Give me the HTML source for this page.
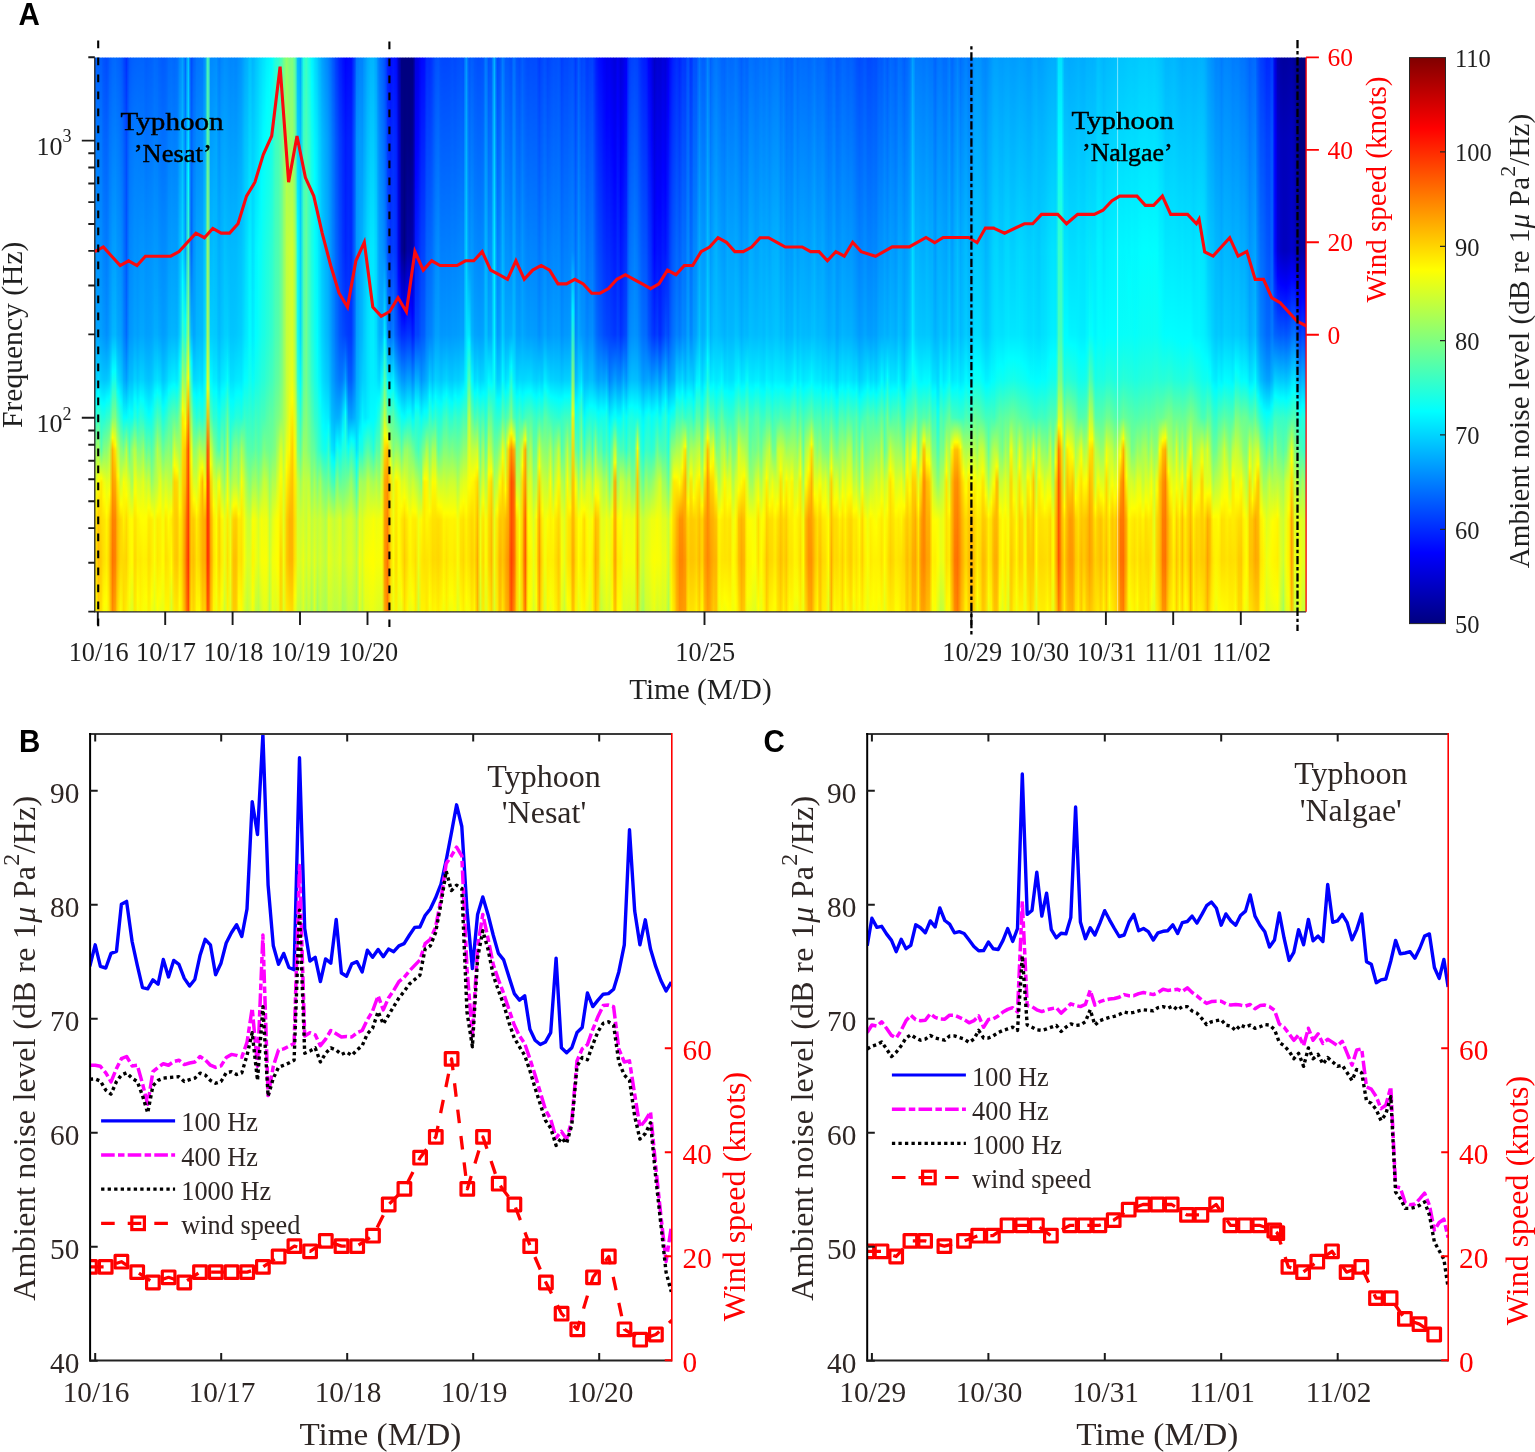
<!DOCTYPE html>
<html><head><meta charset="utf-8"><title>Figure</title><style>html,body{margin:0;padding:0;background:#fff}svg{display:block}</style></head><body>
<svg width="1535" height="1452" viewBox="0 0 1535 1452">
<rect width="1535" height="1452" fill="#fff"/>
<defs><linearGradient id="g0" x1="0" y1="0" x2="0" y2="1"><stop offset="0" stop-color="#0061ff"/><stop offset="0.15" stop-color="#007aff"/><stop offset="0.5" stop-color="#00a1ff"/><stop offset="0.582" stop-color="#00cdff"/><stop offset="0.622" stop-color="#00ffff"/><stop offset="0.65" stop-color="#23ffdc"/><stop offset="0.708" stop-color="#95ff6a"/><stop offset="0.766" stop-color="#daff25"/><stop offset="0.81" stop-color="#ffff00"/><stop offset="0.834" stop-color="#ffeb00"/><stop offset="0.907" stop-color="#ffe600"/><stop offset="0.986" stop-color="#ffff00"/><stop offset="1" stop-color="#f8ff07"/></linearGradient>
<linearGradient id="g1" x1="0" y1="0" x2="0" y2="1"><stop offset="0" stop-color="#0061ff"/><stop offset="0.15" stop-color="#007aff"/><stop offset="0.5" stop-color="#00a1ff"/><stop offset="0.582" stop-color="#00cdff"/><stop offset="0.622" stop-color="#00ffff"/><stop offset="0.65" stop-color="#23ffdc"/><stop offset="0.708" stop-color="#95ff6a"/><stop offset="0.766" stop-color="#daff25"/><stop offset="0.81" stop-color="#ffff00"/><stop offset="0.834" stop-color="#ffeb00"/><stop offset="0.907" stop-color="#ffe600"/><stop offset="0.986" stop-color="#ffff00"/><stop offset="1" stop-color="#f8ff07"/></linearGradient>
<linearGradient id="g2" x1="0" y1="0" x2="0" y2="1"><stop offset="0" stop-color="#0061ff"/><stop offset="0.15" stop-color="#007bff"/><stop offset="0.5" stop-color="#00a5ff"/><stop offset="0.582" stop-color="#00daff"/><stop offset="0.606" stop-color="#00ffff"/><stop offset="0.65" stop-color="#43ffbc"/><stop offset="0.708" stop-color="#a9ff56"/><stop offset="0.768" stop-color="#ffff00"/><stop offset="0.834" stop-color="#ffc500"/><stop offset="0.907" stop-color="#ffba00"/><stop offset="1" stop-color="#ffcf00"/></linearGradient>
<linearGradient id="g3" x1="0" y1="0" x2="0" y2="1"><stop offset="0" stop-color="#005eff"/><stop offset="0.15" stop-color="#0078ff"/><stop offset="0.5" stop-color="#00a0ff"/><stop offset="0.582" stop-color="#00ccff"/><stop offset="0.622" stop-color="#00ffff"/><stop offset="0.65" stop-color="#24ffdb"/><stop offset="0.708" stop-color="#56ffa9"/><stop offset="0.76" stop-color="#ffff00"/><stop offset="0.766" stop-color="#ffea00"/><stop offset="0.907" stop-color="#ffcd00"/><stop offset="1" stop-color="#ffe000"/></linearGradient>
<linearGradient id="g4" x1="0" y1="0" x2="0" y2="1"><stop offset="0" stop-color="#0051ff"/><stop offset="0.5" stop-color="#0097ff"/><stop offset="0.582" stop-color="#00c6ff"/><stop offset="0.625" stop-color="#00ffff"/><stop offset="0.65" stop-color="#21ffde"/><stop offset="0.766" stop-color="#efff10"/><stop offset="0.792" stop-color="#ffff00"/><stop offset="0.834" stop-color="#ffe400"/><stop offset="0.907" stop-color="#ffe200"/><stop offset="0.987" stop-color="#ffff00"/><stop offset="1" stop-color="#f8ff07"/></linearGradient>
<linearGradient id="g5" x1="0" y1="0" x2="0" y2="1"><stop offset="0" stop-color="#004bff"/><stop offset="0.15" stop-color="#0064ff"/><stop offset="0.5" stop-color="#008eff"/><stop offset="0.582" stop-color="#00c7ff"/><stop offset="0.617" stop-color="#00ffff"/><stop offset="0.766" stop-color="#e1ff1e"/><stop offset="0.819" stop-color="#ffff00"/><stop offset="0.834" stop-color="#fff600"/><stop offset="0.907" stop-color="#ffee00"/><stop offset="0.976" stop-color="#ffff00"/><stop offset="1" stop-color="#f5ff0a"/></linearGradient>
<linearGradient id="g6" x1="0" y1="0" x2="0" y2="1"><stop offset="0" stop-color="#005cff"/><stop offset="0.15" stop-color="#0075ff"/><stop offset="0.5" stop-color="#009eff"/><stop offset="0.582" stop-color="#00d3ff"/><stop offset="0.612" stop-color="#00ffff"/><stop offset="0.65" stop-color="#3affc5"/><stop offset="0.708" stop-color="#aeff51"/><stop offset="0.787" stop-color="#ffff00"/><stop offset="0.834" stop-color="#ffcc00"/><stop offset="0.907" stop-color="#ffc200"/><stop offset="1" stop-color="#ffd900"/></linearGradient>
<linearGradient id="g7" x1="0" y1="0" x2="0" y2="1"><stop offset="0" stop-color="#0067ff"/><stop offset="0.5" stop-color="#00b4ff"/><stop offset="0.567" stop-color="#00ffff"/><stop offset="0.582" stop-color="#10ffef"/><stop offset="0.65" stop-color="#7fff80"/><stop offset="0.686" stop-color="#ffff00"/><stop offset="0.708" stop-color="#ffb300"/><stop offset="0.834" stop-color="#ff8000"/><stop offset="0.907" stop-color="#ff7400"/><stop offset="1" stop-color="#ff8800"/></linearGradient>
<linearGradient id="g8" x1="0" y1="0" x2="0" y2="1"><stop offset="0" stop-color="#006aff"/><stop offset="0.5" stop-color="#00b8ff"/><stop offset="0.563" stop-color="#00ffff"/><stop offset="0.582" stop-color="#16ffe9"/><stop offset="0.65" stop-color="#84ff7b"/><stop offset="0.699" stop-color="#ffff00"/><stop offset="0.708" stop-color="#ffe700"/><stop offset="0.766" stop-color="#ffad00"/><stop offset="0.834" stop-color="#ff8500"/><stop offset="0.907" stop-color="#ff8200"/><stop offset="1" stop-color="#ffa400"/></linearGradient>
<linearGradient id="g9" x1="0" y1="0" x2="0" y2="1"><stop offset="0" stop-color="#0063ff"/><stop offset="0.15" stop-color="#007cff"/><stop offset="0.5" stop-color="#00a5ff"/><stop offset="0.582" stop-color="#00deff"/><stop offset="0.603" stop-color="#00ffff"/><stop offset="0.65" stop-color="#4cffb3"/><stop offset="0.708" stop-color="#bfff40"/><stop offset="0.755" stop-color="#ffff00"/><stop offset="0.766" stop-color="#ffef00"/><stop offset="0.834" stop-color="#ffc300"/><stop offset="0.907" stop-color="#ffc000"/><stop offset="1" stop-color="#ffe200"/></linearGradient>
<linearGradient id="g10" x1="0" y1="0" x2="0" y2="1"><stop offset="0" stop-color="#005eff"/><stop offset="0.349" stop-color="#008fff"/><stop offset="0.5" stop-color="#00a1ff"/><stop offset="0.582" stop-color="#00ceff"/><stop offset="0.62" stop-color="#00ffff"/><stop offset="0.65" stop-color="#27ffd8"/><stop offset="0.708" stop-color="#8aff75"/><stop offset="0.766" stop-color="#caff35"/><stop offset="0.806" stop-color="#ffff00"/><stop offset="0.834" stop-color="#ffd800"/><stop offset="0.907" stop-color="#ffda00"/><stop offset="1" stop-color="#faff05"/></linearGradient>
<linearGradient id="g11" x1="0" y1="0" x2="0" y2="1"><stop offset="0" stop-color="#0049ff"/><stop offset="0.15" stop-color="#0063ff"/><stop offset="0.5" stop-color="#0086ff"/><stop offset="0.582" stop-color="#00b1ff"/><stop offset="0.65" stop-color="#05fffa"/><stop offset="0.708" stop-color="#77ff88"/><stop offset="0.766" stop-color="#f9ff06"/><stop offset="0.834" stop-color="#fff000"/><stop offset="0.907" stop-color="#ffda00"/><stop offset="1" stop-color="#ffdd00"/></linearGradient>
<linearGradient id="g12" x1="0" y1="0" x2="0" y2="1"><stop offset="0" stop-color="#002fff"/><stop offset="0.15" stop-color="#0049ff"/><stop offset="0.349" stop-color="#0056ff"/><stop offset="0.5" stop-color="#006aff"/><stop offset="0.582" stop-color="#009eff"/><stop offset="0.65" stop-color="#02fffd"/><stop offset="0.708" stop-color="#b6ff49"/><stop offset="0.789" stop-color="#ffff00"/><stop offset="0.834" stop-color="#ffdb00"/><stop offset="0.907" stop-color="#ffd300"/><stop offset="1" stop-color="#ffef00"/></linearGradient>
<linearGradient id="g13" x1="0" y1="0" x2="0" y2="1"><stop offset="0" stop-color="#0056ff"/><stop offset="0.15" stop-color="#0070ff"/><stop offset="0.5" stop-color="#0095ff"/><stop offset="0.582" stop-color="#00beff"/><stop offset="0.637" stop-color="#00ffff"/><stop offset="0.708" stop-color="#57ffa8"/><stop offset="0.766" stop-color="#d0ff2f"/><stop offset="0.834" stop-color="#fffb00"/><stop offset="0.907" stop-color="#fff400"/><stop offset="0.97" stop-color="#fbff04"/><stop offset="1" stop-color="#efff10"/></linearGradient>
<linearGradient id="g14" x1="0" y1="0" x2="0" y2="1"><stop offset="0" stop-color="#005fff"/><stop offset="0.15" stop-color="#0078ff"/><stop offset="0.5" stop-color="#009bff"/><stop offset="0.582" stop-color="#00c0ff"/><stop offset="0.642" stop-color="#00ffff"/><stop offset="0.65" stop-color="#09fff6"/><stop offset="0.708" stop-color="#97ff68"/><stop offset="0.766" stop-color="#9eff61"/><stop offset="0.834" stop-color="#fffe00"/><stop offset="0.91" stop-color="#ffff00"/><stop offset="1" stop-color="#daff25"/></linearGradient>
<linearGradient id="g15" x1="0" y1="0" x2="0" y2="1"><stop offset="0" stop-color="#0062ff"/><stop offset="0.15" stop-color="#007cff"/><stop offset="0.5" stop-color="#00a4ff"/><stop offset="0.582" stop-color="#00d3ff"/><stop offset="0.616" stop-color="#00ffff"/><stop offset="0.65" stop-color="#2effd1"/><stop offset="0.708" stop-color="#b9ff46"/><stop offset="0.766" stop-color="#f6ff09"/><stop offset="0.783" stop-color="#ffff00"/><stop offset="0.834" stop-color="#ffe300"/><stop offset="0.907" stop-color="#ffd600"/><stop offset="1" stop-color="#ffe700"/></linearGradient>
<linearGradient id="g16" x1="0" y1="0" x2="0" y2="1"><stop offset="0" stop-color="#0063ff"/><stop offset="0.15" stop-color="#007dff"/><stop offset="0.5" stop-color="#009fff"/><stop offset="0.582" stop-color="#00c7ff"/><stop offset="0.632" stop-color="#00ffff"/><stop offset="0.65" stop-color="#14ffeb"/><stop offset="0.708" stop-color="#83ff7c"/><stop offset="0.766" stop-color="#d9ff26"/><stop offset="0.818" stop-color="#ffff00"/><stop offset="0.834" stop-color="#fff300"/><stop offset="0.907" stop-color="#ffed00"/><stop offset="0.973" stop-color="#ffff00"/><stop offset="1" stop-color="#f3ff0c"/></linearGradient>
<linearGradient id="g17" x1="0" y1="0" x2="0" y2="1"><stop offset="0" stop-color="#0064ff"/><stop offset="0.349" stop-color="#0095ff"/><stop offset="0.5" stop-color="#00a7ff"/><stop offset="0.582" stop-color="#00d4ff"/><stop offset="0.615" stop-color="#00ffff"/><stop offset="0.766" stop-color="#d2ff2d"/><stop offset="0.827" stop-color="#ffff00"/><stop offset="0.907" stop-color="#ffe900"/><stop offset="1" stop-color="#fff600"/></linearGradient>
<linearGradient id="g18" x1="0" y1="0" x2="0" y2="1"><stop offset="0" stop-color="#0064ff"/><stop offset="0.349" stop-color="#0096ff"/><stop offset="0.5" stop-color="#00a7ff"/><stop offset="0.582" stop-color="#00d2ff"/><stop offset="0.619" stop-color="#00ffff"/><stop offset="0.65" stop-color="#26ffd9"/><stop offset="0.708" stop-color="#9bff64"/><stop offset="0.766" stop-color="#e4ff1b"/><stop offset="0.834" stop-color="#ffff00"/><stop offset="0.907" stop-color="#fff200"/><stop offset="1" stop-color="#faff05"/></linearGradient>
<linearGradient id="g19" x1="0" y1="0" x2="0" y2="1"><stop offset="0" stop-color="#005dff"/><stop offset="0.349" stop-color="#0090ff"/><stop offset="0.5" stop-color="#009fff"/><stop offset="0.582" stop-color="#00c6ff"/><stop offset="0.634" stop-color="#00ffff"/><stop offset="0.708" stop-color="#5dffa2"/><stop offset="0.766" stop-color="#c1ff3e"/><stop offset="0.828" stop-color="#ffff00"/><stop offset="0.907" stop-color="#fff000"/><stop offset="0.973" stop-color="#ffff00"/><stop offset="1" stop-color="#f5ff0a"/></linearGradient>
<linearGradient id="g20" x1="0" y1="0" x2="0" y2="1"><stop offset="0" stop-color="#0060ff"/><stop offset="0.349" stop-color="#0092ff"/><stop offset="0.5" stop-color="#00a0ff"/><stop offset="0.582" stop-color="#00c3ff"/><stop offset="0.644" stop-color="#00ffff"/><stop offset="0.766" stop-color="#d0ff2f"/><stop offset="0.812" stop-color="#ffff00"/><stop offset="0.834" stop-color="#ffe800"/><stop offset="0.907" stop-color="#ffdc00"/><stop offset="1" stop-color="#ffef00"/></linearGradient>
<linearGradient id="g21" x1="0" y1="0" x2="0" y2="1"><stop offset="0" stop-color="#0062ff"/><stop offset="0.349" stop-color="#0094ff"/><stop offset="0.5" stop-color="#00a3ff"/><stop offset="0.582" stop-color="#00c8ff"/><stop offset="0.635" stop-color="#00ffff"/><stop offset="0.766" stop-color="#90ff6f"/><stop offset="0.825" stop-color="#ffff00"/><stop offset="0.834" stop-color="#ffed00"/><stop offset="0.907" stop-color="#ffeb00"/><stop offset="0.971" stop-color="#ffff00"/><stop offset="1" stop-color="#f0ff0f"/></linearGradient>
<linearGradient id="g22" x1="0" y1="0" x2="0" y2="1"><stop offset="0" stop-color="#006aff"/><stop offset="0.5" stop-color="#00aeff"/><stop offset="0.582" stop-color="#00dbff"/><stop offset="0.61" stop-color="#00ffff"/><stop offset="0.708" stop-color="#75ff8a"/><stop offset="0.834" stop-color="#f4ff0b"/><stop offset="0.907" stop-color="#faff05"/><stop offset="1" stop-color="#deff21"/></linearGradient>
<linearGradient id="g23" x1="0" y1="0" x2="0" y2="1"><stop offset="0" stop-color="#0067ff"/><stop offset="0.5" stop-color="#00adff"/><stop offset="0.582" stop-color="#00e2ff"/><stop offset="0.601" stop-color="#00ffff"/><stop offset="0.65" stop-color="#4cffb3"/><stop offset="0.708" stop-color="#b7ff48"/><stop offset="0.766" stop-color="#c0ff3f"/><stop offset="0.819" stop-color="#ffff00"/><stop offset="0.834" stop-color="#ffec00"/><stop offset="0.907" stop-color="#ffe700"/><stop offset="0.987" stop-color="#ffff00"/><stop offset="1" stop-color="#f9ff06"/></linearGradient>
<linearGradient id="g24" x1="0" y1="0" x2="0" y2="1"><stop offset="0" stop-color="#005fff"/><stop offset="0.5" stop-color="#00a4ff"/><stop offset="0.582" stop-color="#00daff"/><stop offset="0.607" stop-color="#00ffff"/><stop offset="0.766" stop-color="#e8ff17"/><stop offset="0.808" stop-color="#ffff00"/><stop offset="0.834" stop-color="#fff100"/><stop offset="0.907" stop-color="#ffef00"/><stop offset="0.97" stop-color="#fbff04"/><stop offset="1" stop-color="#ebff14"/></linearGradient>
<linearGradient id="g25" x1="0" y1="0" x2="0" y2="1"><stop offset="0" stop-color="#005bff"/><stop offset="0.349" stop-color="#008cff"/><stop offset="0.5" stop-color="#009dff"/><stop offset="0.582" stop-color="#00c6ff"/><stop offset="0.63" stop-color="#00ffff"/><stop offset="0.708" stop-color="#65ff9a"/><stop offset="0.766" stop-color="#beff41"/><stop offset="0.834" stop-color="#f7ff08"/><stop offset="0.912" stop-color="#ffff00"/><stop offset="1" stop-color="#e7ff18"/></linearGradient>
<linearGradient id="g26" x1="0" y1="0" x2="0" y2="1"><stop offset="0" stop-color="#005eff"/><stop offset="0.349" stop-color="#008eff"/><stop offset="0.5" stop-color="#00a1ff"/><stop offset="0.582" stop-color="#00cfff"/><stop offset="0.619" stop-color="#00ffff"/><stop offset="0.766" stop-color="#d2ff2d"/><stop offset="0.81" stop-color="#ffff00"/><stop offset="0.834" stop-color="#ffe600"/><stop offset="0.907" stop-color="#ffde00"/><stop offset="1" stop-color="#fff900"/></linearGradient>
<linearGradient id="g27" x1="0" y1="0" x2="0" y2="1"><stop offset="0" stop-color="#006aff"/><stop offset="0.5" stop-color="#00afff"/><stop offset="0.582" stop-color="#00e3ff"/><stop offset="0.601" stop-color="#00ffff"/><stop offset="0.65" stop-color="#47ffb8"/><stop offset="0.708" stop-color="#8aff75"/><stop offset="0.829" stop-color="#ffff00"/><stop offset="0.907" stop-color="#ffe900"/><stop offset="1" stop-color="#fff600"/></linearGradient>
<linearGradient id="g28" x1="0" y1="0" x2="0" y2="1"><stop offset="0" stop-color="#006cff"/><stop offset="0.5" stop-color="#00b5ff"/><stop offset="0.582" stop-color="#00ecff"/><stop offset="0.594" stop-color="#00ffff"/><stop offset="0.65" stop-color="#56ffa9"/><stop offset="0.708" stop-color="#79ff86"/><stop offset="0.819" stop-color="#ffff00"/><stop offset="0.834" stop-color="#ffed00"/><stop offset="0.922" stop-color="#ffff00"/><stop offset="1" stop-color="#d1ff2e"/></linearGradient>
<linearGradient id="g29" x1="0" y1="0" x2="0" y2="1"><stop offset="0" stop-color="#0068ff"/><stop offset="0.5" stop-color="#00b5ff"/><stop offset="0.582" stop-color="#00f1ff"/><stop offset="0.59" stop-color="#00ffff"/><stop offset="0.65" stop-color="#61ff9e"/><stop offset="0.708" stop-color="#d6ff29"/><stop offset="0.736" stop-color="#ffff00"/><stop offset="0.766" stop-color="#ffd200"/><stop offset="0.907" stop-color="#ffce00"/><stop offset="1" stop-color="#ffed00"/></linearGradient>
<linearGradient id="g30" x1="0" y1="0" x2="0" y2="1"><stop offset="0" stop-color="#006cff"/><stop offset="0.5" stop-color="#00b2ff"/><stop offset="0.582" stop-color="#00e9ff"/><stop offset="0.596" stop-color="#00ffff"/><stop offset="0.708" stop-color="#b3ff4c"/><stop offset="0.746" stop-color="#ffff00"/><stop offset="0.766" stop-color="#ffd800"/><stop offset="0.834" stop-color="#ffc900"/><stop offset="0.907" stop-color="#ffc500"/><stop offset="1" stop-color="#ffe700"/></linearGradient>
<linearGradient id="g31" x1="0" y1="0" x2="0" y2="1"><stop offset="0" stop-color="#0087ff"/><stop offset="0.5" stop-color="#00ceff"/><stop offset="0.556" stop-color="#00ffff"/><stop offset="0.582" stop-color="#16ffe9"/><stop offset="0.65" stop-color="#85ff7a"/><stop offset="0.708" stop-color="#a4ff5b"/><stop offset="0.766" stop-color="#dfff20"/><stop offset="0.811" stop-color="#ffff00"/><stop offset="0.834" stop-color="#ffee00"/><stop offset="0.907" stop-color="#ffe800"/><stop offset="0.985" stop-color="#ffff00"/><stop offset="1" stop-color="#f8ff07"/></linearGradient>
<linearGradient id="g32" x1="0" y1="0" x2="0" y2="1"><stop offset="0" stop-color="#00a0ff"/><stop offset="0.349" stop-color="#00ddff"/><stop offset="0.406" stop-color="#00ffff"/><stop offset="0.5" stop-color="#38ffc7"/><stop offset="0.582" stop-color="#a7ff58"/><stop offset="0.636" stop-color="#ffff00"/><stop offset="0.65" stop-color="#ffe900"/><stop offset="0.766" stop-color="#ffd300"/><stop offset="0.907" stop-color="#ffc500"/><stop offset="1" stop-color="#ffda00"/></linearGradient>
<linearGradient id="g33" x1="0" y1="0" x2="0" y2="1"><stop offset="0" stop-color="#0067ff"/><stop offset="0.349" stop-color="#009cff"/><stop offset="0.473" stop-color="#00ffff"/><stop offset="0.5" stop-color="#16ffe9"/><stop offset="0.582" stop-color="#84ff7b"/><stop offset="0.66" stop-color="#ffff00"/><stop offset="0.708" stop-color="#ffc600"/><stop offset="0.766" stop-color="#ffb500"/><stop offset="0.834" stop-color="#ff8d00"/><stop offset="0.907" stop-color="#ff8200"/><stop offset="1" stop-color="#ff9800"/></linearGradient>
<linearGradient id="g34" x1="0" y1="0" x2="0" y2="1"><stop offset="0" stop-color="#00c7ff"/><stop offset="0.15" stop-color="#00e0ff"/><stop offset="0.21" stop-color="#00ffff"/><stop offset="0.5" stop-color="#96ff69"/><stop offset="0.578" stop-color="#ffff00"/><stop offset="0.65" stop-color="#ff8b00"/><stop offset="0.708" stop-color="#ff4b00"/><stop offset="0.907" stop-color="#ff3300"/><stop offset="1" stop-color="#ff4c00"/></linearGradient>
<linearGradient id="g35" x1="0" y1="0" x2="0" y2="1"><stop offset="0" stop-color="#0049ff"/><stop offset="0.15" stop-color="#0062ff"/><stop offset="0.349" stop-color="#0064ff"/><stop offset="0.5" stop-color="#00baff"/><stop offset="0.551" stop-color="#00ffff"/><stop offset="0.582" stop-color="#29ffd6"/><stop offset="0.708" stop-color="#f4ff0b"/><stop offset="0.727" stop-color="#ffff00"/><stop offset="0.834" stop-color="#ffcc00"/><stop offset="0.907" stop-color="#ffc600"/><stop offset="1" stop-color="#ffe300"/></linearGradient>
<linearGradient id="g36" x1="0" y1="0" x2="0" y2="1"><stop offset="0" stop-color="#0063ff"/><stop offset="0.15" stop-color="#007dff"/><stop offset="0.5" stop-color="#00a4ff"/><stop offset="0.582" stop-color="#00d9ff"/><stop offset="0.607" stop-color="#00ffff"/><stop offset="0.65" stop-color="#40ffbf"/><stop offset="0.797" stop-color="#ffff00"/><stop offset="0.834" stop-color="#ffcb00"/><stop offset="0.907" stop-color="#ffc000"/><stop offset="1" stop-color="#ffd500"/></linearGradient>
<linearGradient id="g37" x1="0" y1="0" x2="0" y2="1"><stop offset="0" stop-color="#0073ff"/><stop offset="0.349" stop-color="#00a6ff"/><stop offset="0.5" stop-color="#00b5ff"/><stop offset="0.582" stop-color="#00dcff"/><stop offset="0.614" stop-color="#00ffff"/><stop offset="0.65" stop-color="#28ffd7"/><stop offset="0.708" stop-color="#98ff67"/><stop offset="0.815" stop-color="#ffff00"/><stop offset="0.834" stop-color="#ffed00"/><stop offset="0.907" stop-color="#ffe300"/><stop offset="1" stop-color="#fff900"/></linearGradient>
<linearGradient id="g38" x1="0" y1="0" x2="0" y2="1"><stop offset="0" stop-color="#0076ff"/><stop offset="0.349" stop-color="#00a8ff"/><stop offset="0.5" stop-color="#00b9ff"/><stop offset="0.582" stop-color="#00e3ff"/><stop offset="0.606" stop-color="#00ffff"/><stop offset="0.65" stop-color="#35ffca"/><stop offset="0.708" stop-color="#bfff40"/><stop offset="0.759" stop-color="#ffff00"/><stop offset="0.834" stop-color="#ffd200"/><stop offset="0.907" stop-color="#ffd400"/><stop offset="1" stop-color="#fffd00"/></linearGradient>
<linearGradient id="g39" x1="0" y1="0" x2="0" y2="1"><stop offset="0" stop-color="#0079ff"/><stop offset="0.349" stop-color="#00acff"/><stop offset="0.5" stop-color="#00baff"/><stop offset="0.582" stop-color="#00ddff"/><stop offset="0.616" stop-color="#00ffff"/><stop offset="0.65" stop-color="#22ffdd"/><stop offset="0.708" stop-color="#a5ff5a"/><stop offset="0.74" stop-color="#ffff00"/><stop offset="0.766" stop-color="#ffb800"/><stop offset="0.907" stop-color="#ffb100"/><stop offset="1" stop-color="#ffcd00"/></linearGradient>
<linearGradient id="g40" x1="0" y1="0" x2="0" y2="1"><stop offset="0" stop-color="#0094ff"/><stop offset="0.349" stop-color="#00cbff"/><stop offset="0.5" stop-color="#00d9ff"/><stop offset="0.585" stop-color="#00ffff"/><stop offset="0.65" stop-color="#3fffc0"/><stop offset="0.708" stop-color="#a6ff59"/><stop offset="0.77" stop-color="#ffff00"/><stop offset="0.834" stop-color="#ffac00"/><stop offset="0.907" stop-color="#ffab00"/><stop offset="1" stop-color="#ffd000"/></linearGradient>
<linearGradient id="g41" x1="0" y1="0" x2="0" y2="1"><stop offset="0" stop-color="#4dffb2"/><stop offset="0.15" stop-color="#66ff99"/><stop offset="0.349" stop-color="#a5ff5a"/><stop offset="0.5" stop-color="#b9ff46"/><stop offset="0.582" stop-color="#e9ff16"/><stop offset="0.598" stop-color="#ffff00"/><stop offset="0.65" stop-color="#ffb800"/><stop offset="0.708" stop-color="#ff4700"/><stop offset="0.766" stop-color="#ff2a00"/><stop offset="0.907" stop-color="#ff2800"/><stop offset="1" stop-color="#ff4c00"/></linearGradient>
<linearGradient id="g42" x1="0" y1="0" x2="0" y2="1"><stop offset="0" stop-color="#0088ff"/><stop offset="0.5" stop-color="#00ceff"/><stop offset="0.584" stop-color="#00ffff"/><stop offset="0.65" stop-color="#58ffa7"/><stop offset="0.708" stop-color="#d8ff27"/><stop offset="0.734" stop-color="#ffff00"/><stop offset="0.766" stop-color="#ffcf00"/><stop offset="0.834" stop-color="#ffa600"/><stop offset="0.907" stop-color="#ff9c00"/><stop offset="1" stop-color="#ffb400"/></linearGradient>
<linearGradient id="g43" x1="0" y1="0" x2="0" y2="1"><stop offset="0" stop-color="#008bff"/><stop offset="0.349" stop-color="#00bfff"/><stop offset="0.5" stop-color="#00ccff"/><stop offset="0.582" stop-color="#00edff"/><stop offset="0.602" stop-color="#00ffff"/><stop offset="0.65" stop-color="#2cffd3"/><stop offset="0.708" stop-color="#90ff6f"/><stop offset="0.766" stop-color="#ddff22"/><stop offset="0.807" stop-color="#ffff00"/><stop offset="0.834" stop-color="#ffe800"/><stop offset="0.907" stop-color="#ffdf00"/><stop offset="1" stop-color="#fff800"/></linearGradient>
<linearGradient id="g44" x1="0" y1="0" x2="0" y2="1"><stop offset="0" stop-color="#008eff"/><stop offset="0.15" stop-color="#00a7ff"/><stop offset="0.5" stop-color="#00c9ff"/><stop offset="0.582" stop-color="#00ebff"/><stop offset="0.603" stop-color="#00ffff"/><stop offset="0.708" stop-color="#63ff9c"/><stop offset="0.766" stop-color="#c9ff36"/><stop offset="0.834" stop-color="#fbff04"/><stop offset="0.907" stop-color="#fffa00"/><stop offset="0.97" stop-color="#f7ff08"/><stop offset="1" stop-color="#ecff13"/></linearGradient>
<linearGradient id="g45" x1="0" y1="0" x2="0" y2="1"><stop offset="0" stop-color="#007cff"/><stop offset="0.349" stop-color="#00adff"/><stop offset="0.5" stop-color="#00b9ff"/><stop offset="0.582" stop-color="#00d6ff"/><stop offset="0.631" stop-color="#00ffff"/><stop offset="0.708" stop-color="#48ffb7"/><stop offset="0.766" stop-color="#f9ff06"/><stop offset="0.774" stop-color="#ffff00"/><stop offset="0.834" stop-color="#ffd100"/><stop offset="0.907" stop-color="#ffcd00"/><stop offset="1" stop-color="#ffee00"/></linearGradient>
<linearGradient id="g46" x1="0" y1="0" x2="0" y2="1"><stop offset="0" stop-color="#0088ff"/><stop offset="0.15" stop-color="#00a2ff"/><stop offset="0.5" stop-color="#00c5ff"/><stop offset="0.582" stop-color="#00e9ff"/><stop offset="0.604" stop-color="#00ffff"/><stop offset="0.65" stop-color="#2effd1"/><stop offset="0.708" stop-color="#7eff81"/><stop offset="0.766" stop-color="#b0ff4f"/><stop offset="0.828" stop-color="#ffff00"/><stop offset="0.834" stop-color="#fff700"/><stop offset="0.907" stop-color="#fff000"/><stop offset="0.971" stop-color="#ffff00"/><stop offset="1" stop-color="#f3ff0c"/></linearGradient>
<linearGradient id="g47" x1="0" y1="0" x2="0" y2="1"><stop offset="0" stop-color="#008fff"/><stop offset="0.349" stop-color="#00c2ff"/><stop offset="0.5" stop-color="#00cfff"/><stop offset="0.582" stop-color="#00f0ff"/><stop offset="0.598" stop-color="#00ffff"/><stop offset="0.65" stop-color="#30ffcf"/><stop offset="0.708" stop-color="#4bffb4"/><stop offset="0.834" stop-color="#e7ff18"/><stop offset="0.907" stop-color="#eaff15"/><stop offset="1" stop-color="#c9ff36"/></linearGradient>
<linearGradient id="g48" x1="0" y1="0" x2="0" y2="1"><stop offset="0" stop-color="#008cff"/><stop offset="0.5" stop-color="#00d1ff"/><stop offset="0.582" stop-color="#03fffc"/><stop offset="0.708" stop-color="#bbff44"/><stop offset="0.766" stop-color="#ecff13"/><stop offset="0.798" stop-color="#ffff00"/><stop offset="0.834" stop-color="#ffe900"/><stop offset="0.907" stop-color="#ffde00"/><stop offset="1" stop-color="#fff400"/></linearGradient>
<linearGradient id="g49" x1="0" y1="0" x2="0" y2="1"><stop offset="0" stop-color="#0086ff"/><stop offset="0.349" stop-color="#00b9ff"/><stop offset="0.5" stop-color="#00c5ff"/><stop offset="0.582" stop-color="#00e1ff"/><stop offset="0.619" stop-color="#00ffff"/><stop offset="0.65" stop-color="#19ffe6"/><stop offset="0.708" stop-color="#38ffc7"/><stop offset="0.766" stop-color="#94ff6b"/><stop offset="0.834" stop-color="#e5ff1a"/><stop offset="0.907" stop-color="#f2ff0d"/><stop offset="1" stop-color="#deff21"/></linearGradient>
<linearGradient id="g50" x1="0" y1="0" x2="0" y2="1"><stop offset="0" stop-color="#0088ff"/><stop offset="0.349" stop-color="#00baff"/><stop offset="0.5" stop-color="#00c5ff"/><stop offset="0.582" stop-color="#00e1ff"/><stop offset="0.621" stop-color="#00ffff"/><stop offset="0.65" stop-color="#17ffe8"/><stop offset="0.708" stop-color="#7aff85"/><stop offset="0.766" stop-color="#b6ff49"/><stop offset="0.809" stop-color="#ffff00"/><stop offset="0.834" stop-color="#ffd300"/><stop offset="0.907" stop-color="#ffc100"/><stop offset="1" stop-color="#ffcb00"/></linearGradient>
<linearGradient id="g51" x1="0" y1="0" x2="0" y2="1"><stop offset="0" stop-color="#0085ff"/><stop offset="0.349" stop-color="#00baff"/><stop offset="0.5" stop-color="#00c7ff"/><stop offset="0.582" stop-color="#00e8ff"/><stop offset="0.607" stop-color="#00ffff"/><stop offset="0.65" stop-color="#28ffd7"/><stop offset="0.708" stop-color="#87ff78"/><stop offset="0.766" stop-color="#bbff44"/><stop offset="0.805" stop-color="#ffff00"/><stop offset="0.834" stop-color="#ffcc00"/><stop offset="0.907" stop-color="#ffbd00"/><stop offset="1" stop-color="#ffcb00"/></linearGradient>
<linearGradient id="g52" x1="0" y1="0" x2="0" y2="1"><stop offset="0" stop-color="#008dff"/><stop offset="0.349" stop-color="#00c0ff"/><stop offset="0.5" stop-color="#00ccff"/><stop offset="0.582" stop-color="#00ebff"/><stop offset="0.604" stop-color="#00ffff"/><stop offset="0.65" stop-color="#28ffd7"/><stop offset="0.708" stop-color="#6fff90"/><stop offset="0.766" stop-color="#9dff62"/><stop offset="0.823" stop-color="#ffff00"/><stop offset="0.834" stop-color="#ffec00"/><stop offset="0.907" stop-color="#ffe800"/><stop offset="0.98" stop-color="#ffff00"/><stop offset="1" stop-color="#f6ff09"/></linearGradient>
<linearGradient id="g53" x1="0" y1="0" x2="0" y2="1"><stop offset="0" stop-color="#0095ff"/><stop offset="0.349" stop-color="#00c5ff"/><stop offset="0.5" stop-color="#00d0ff"/><stop offset="0.582" stop-color="#00ebff"/><stop offset="0.608" stop-color="#00ffff"/><stop offset="0.65" stop-color="#20ffdf"/><stop offset="0.708" stop-color="#a9ff56"/><stop offset="0.766" stop-color="#faff05"/><stop offset="0.834" stop-color="#ffe600"/><stop offset="0.907" stop-color="#ffe000"/><stop offset="1" stop-color="#fffd00"/></linearGradient>
<linearGradient id="g54" x1="0" y1="0" x2="0" y2="1"><stop offset="0" stop-color="#00a6ff"/><stop offset="0.15" stop-color="#00bfff"/><stop offset="0.5" stop-color="#00e1ff"/><stop offset="0.582" stop-color="#00ffff"/><stop offset="0.65" stop-color="#3affc5"/><stop offset="0.766" stop-color="#c6ff39"/><stop offset="0.834" stop-color="#f4ff0b"/><stop offset="0.907" stop-color="#f7ff08"/><stop offset="1" stop-color="#d6ff29"/></linearGradient>
<linearGradient id="g55" x1="0" y1="0" x2="0" y2="1"><stop offset="0" stop-color="#00b1ff"/><stop offset="0.349" stop-color="#00e4ff"/><stop offset="0.5" stop-color="#00edff"/><stop offset="0.582" stop-color="#05fffa"/><stop offset="0.708" stop-color="#57ffa8"/><stop offset="0.766" stop-color="#97ff68"/><stop offset="0.834" stop-color="#ccff33"/><stop offset="0.907" stop-color="#d6ff29"/><stop offset="1" stop-color="#bfff40"/></linearGradient>
<linearGradient id="g56" x1="0" y1="0" x2="0" y2="1"><stop offset="0" stop-color="#00c3ff"/><stop offset="0.349" stop-color="#00f4ff"/><stop offset="0.509" stop-color="#00ffff"/><stop offset="0.582" stop-color="#13ffec"/><stop offset="0.708" stop-color="#55ffaa"/><stop offset="0.766" stop-color="#81ff7e"/><stop offset="0.834" stop-color="#c6ff39"/><stop offset="0.907" stop-color="#d9ff26"/><stop offset="1" stop-color="#d1ff2e"/></linearGradient>
<linearGradient id="g57" x1="0" y1="0" x2="0" y2="1"><stop offset="0" stop-color="#00b5ff"/><stop offset="0.15" stop-color="#00ceff"/><stop offset="0.5" stop-color="#00edff"/><stop offset="0.582" stop-color="#06fff9"/><stop offset="0.708" stop-color="#51ffae"/><stop offset="0.834" stop-color="#fbff04"/><stop offset="0.907" stop-color="#fff600"/><stop offset="0.97" stop-color="#feff01"/><stop offset="1" stop-color="#f4ff0b"/></linearGradient>
<linearGradient id="g58" x1="0" y1="0" x2="0" y2="1"><stop offset="0" stop-color="#00c2ff"/><stop offset="0.349" stop-color="#00f5ff"/><stop offset="0.506" stop-color="#00ffff"/><stop offset="0.582" stop-color="#14ffeb"/><stop offset="0.708" stop-color="#64ff9b"/><stop offset="0.834" stop-color="#f3ff0c"/><stop offset="0.907" stop-color="#f0ff0f"/><stop offset="1" stop-color="#c3ff3c"/></linearGradient>
<linearGradient id="g59" x1="0" y1="0" x2="0" y2="1"><stop offset="0" stop-color="#00cfff"/><stop offset="0.349" stop-color="#02fffd"/><stop offset="0.5" stop-color="#08fff7"/><stop offset="0.582" stop-color="#1affe5"/><stop offset="0.708" stop-color="#52ffad"/><stop offset="0.766" stop-color="#89ff76"/><stop offset="0.834" stop-color="#d6ff29"/><stop offset="0.907" stop-color="#d8ff27"/><stop offset="1" stop-color="#b4ff4b"/></linearGradient>
<linearGradient id="g60" x1="0" y1="0" x2="0" y2="1"><stop offset="0" stop-color="#00dbff"/><stop offset="0.234" stop-color="#00ffff"/><stop offset="0.5" stop-color="#14ffeb"/><stop offset="0.582" stop-color="#24ffdb"/><stop offset="0.708" stop-color="#60ff9f"/><stop offset="0.834" stop-color="#f5ff0a"/><stop offset="0.907" stop-color="#f7ff08"/><stop offset="1" stop-color="#d2ff2d"/></linearGradient>
<linearGradient id="g61" x1="0" y1="0" x2="0" y2="1"><stop offset="0" stop-color="#00e5ff"/><stop offset="0.151" stop-color="#00ffff"/><stop offset="0.349" stop-color="#15ffea"/><stop offset="0.5" stop-color="#1bffe4"/><stop offset="0.582" stop-color="#2affd5"/><stop offset="0.65" stop-color="#47ffb8"/><stop offset="0.708" stop-color="#7fff80"/><stop offset="0.766" stop-color="#c8ff37"/><stop offset="0.834" stop-color="#efff10"/><stop offset="0.907" stop-color="#faff05"/><stop offset="1" stop-color="#e5ff1a"/></linearGradient>
<linearGradient id="g62" x1="0" y1="0" x2="0" y2="1"><stop offset="0" stop-color="#00f0ff"/><stop offset="0.089" stop-color="#00ffff"/><stop offset="0.349" stop-color="#1effe1"/><stop offset="0.5" stop-color="#25ffda"/><stop offset="0.582" stop-color="#35ffca"/><stop offset="0.708" stop-color="#71ff8e"/><stop offset="0.766" stop-color="#beff41"/><stop offset="0.834" stop-color="#f2ff0d"/><stop offset="0.907" stop-color="#faff05"/><stop offset="1" stop-color="#e1ff1e"/></linearGradient>
<linearGradient id="g63" x1="0" y1="0" x2="0" y2="1"><stop offset="0" stop-color="#00f6ff"/><stop offset="0.05" stop-color="#00ffff"/><stop offset="0.349" stop-color="#26ffd9"/><stop offset="0.5" stop-color="#2dffd2"/><stop offset="0.582" stop-color="#3effc1"/><stop offset="0.65" stop-color="#5effa1"/><stop offset="0.708" stop-color="#6cff93"/><stop offset="0.834" stop-color="#bcff43"/><stop offset="0.907" stop-color="#c6ff39"/><stop offset="1" stop-color="#afff50"/></linearGradient>
<linearGradient id="g64" x1="0" y1="0" x2="0" y2="1"><stop offset="0" stop-color="#03fffc"/><stop offset="0.15" stop-color="#1dffe2"/><stop offset="0.349" stop-color="#31ffce"/><stop offset="0.5" stop-color="#37ffc8"/><stop offset="0.582" stop-color="#45ffba"/><stop offset="0.708" stop-color="#74ff8b"/><stop offset="0.766" stop-color="#b0ff4f"/><stop offset="0.834" stop-color="#e0ff1f"/><stop offset="0.907" stop-color="#f2ff0d"/><stop offset="1" stop-color="#e8ff17"/></linearGradient>
<linearGradient id="g65" x1="0" y1="0" x2="0" y2="1"><stop offset="0" stop-color="#24ffdb"/><stop offset="0.15" stop-color="#3effc1"/><stop offset="0.5" stop-color="#4cffb3"/><stop offset="0.582" stop-color="#58ffa7"/><stop offset="0.708" stop-color="#85ff7a"/><stop offset="0.766" stop-color="#b4ff4b"/><stop offset="0.834" stop-color="#f6ff09"/><stop offset="0.907" stop-color="#faff05"/><stop offset="1" stop-color="#daff25"/></linearGradient>
<linearGradient id="g66" x1="0" y1="0" x2="0" y2="1"><stop offset="0" stop-color="#2cffd3"/><stop offset="0.15" stop-color="#46ffb9"/><stop offset="0.5" stop-color="#54ffab"/><stop offset="0.582" stop-color="#62ff9d"/><stop offset="0.65" stop-color="#7cff83"/><stop offset="0.766" stop-color="#deff21"/><stop offset="0.834" stop-color="#fffe00"/><stop offset="0.924" stop-color="#ffff00"/><stop offset="1" stop-color="#e3ff1c"/></linearGradient>
<linearGradient id="g67" x1="0" y1="0" x2="0" y2="1"><stop offset="0" stop-color="#44ffbb"/><stop offset="0.15" stop-color="#5dffa2"/><stop offset="0.5" stop-color="#6aff95"/><stop offset="0.582" stop-color="#76ff89"/><stop offset="0.65" stop-color="#8dff72"/><stop offset="0.708" stop-color="#dfff20"/><stop offset="0.756" stop-color="#ffff00"/><stop offset="0.907" stop-color="#ffce00"/><stop offset="1" stop-color="#ffd700"/></linearGradient>
<linearGradient id="g68" x1="0" y1="0" x2="0" y2="1"><stop offset="0" stop-color="#6fff90"/><stop offset="0.15" stop-color="#88ff77"/><stop offset="0.582" stop-color="#98ff67"/><stop offset="0.708" stop-color="#b5ff4a"/><stop offset="0.766" stop-color="#d3ff2c"/><stop offset="0.907" stop-color="#f0ff0f"/><stop offset="1" stop-color="#daff25"/></linearGradient>
<linearGradient id="g69" x1="0" y1="0" x2="0" y2="1"><stop offset="0" stop-color="#94ff6b"/><stop offset="0.15" stop-color="#adff52"/><stop offset="0.349" stop-color="#bfff40"/><stop offset="0.65" stop-color="#c8ff37"/><stop offset="0.739" stop-color="#ffff00"/><stop offset="0.834" stop-color="#ffcf00"/><stop offset="0.907" stop-color="#ffcb00"/><stop offset="1" stop-color="#ffeb00"/></linearGradient>
<linearGradient id="g70" x1="0" y1="0" x2="0" y2="1"><stop offset="0" stop-color="#7cff83"/><stop offset="0.15" stop-color="#96ff69"/><stop offset="0.349" stop-color="#caff35"/><stop offset="0.5" stop-color="#cfff30"/><stop offset="0.582" stop-color="#dbff24"/><stop offset="0.708" stop-color="#fffa00"/><stop offset="0.766" stop-color="#ffd400"/><stop offset="0.834" stop-color="#ffb300"/><stop offset="0.907" stop-color="#ffb500"/><stop offset="1" stop-color="#ffe000"/></linearGradient>
<linearGradient id="g71" x1="0" y1="0" x2="0" y2="1"><stop offset="0" stop-color="#82ff7d"/><stop offset="0.15" stop-color="#9cff63"/><stop offset="0.349" stop-color="#d3ff2c"/><stop offset="0.5" stop-color="#daff25"/><stop offset="0.582" stop-color="#ecff13"/><stop offset="0.619" stop-color="#ffff00"/><stop offset="0.708" stop-color="#ffcd00"/><stop offset="0.834" stop-color="#ffb300"/><stop offset="0.907" stop-color="#ffb200"/><stop offset="1" stop-color="#ffd900"/></linearGradient>
<linearGradient id="g72" x1="0" y1="0" x2="0" y2="1"><stop offset="0" stop-color="#5cffa3"/><stop offset="0.15" stop-color="#75ff8a"/><stop offset="0.349" stop-color="#a9ff56"/><stop offset="0.5" stop-color="#afff50"/><stop offset="0.582" stop-color="#bfff40"/><stop offset="0.708" stop-color="#fffc00"/><stop offset="0.834" stop-color="#ffdf00"/><stop offset="0.907" stop-color="#ffe400"/><stop offset="0.971" stop-color="#ffff00"/><stop offset="1" stop-color="#ecff13"/></linearGradient>
<linearGradient id="g73" x1="0" y1="0" x2="0" y2="1"><stop offset="0" stop-color="#00bbff"/><stop offset="0.15" stop-color="#00d4ff"/><stop offset="0.303" stop-color="#00ffff"/><stop offset="0.349" stop-color="#0dfff2"/><stop offset="0.5" stop-color="#18ffe7"/><stop offset="0.582" stop-color="#33ffcc"/><stop offset="0.65" stop-color="#67ff98"/><stop offset="0.708" stop-color="#81ff7e"/><stop offset="0.766" stop-color="#c7ff38"/><stop offset="0.907" stop-color="#dfff20"/><stop offset="1" stop-color="#c6ff39"/></linearGradient>
<linearGradient id="g74" x1="0" y1="0" x2="0" y2="1"><stop offset="0" stop-color="#00a8ff"/><stop offset="0.15" stop-color="#00c1ff"/><stop offset="0.5" stop-color="#00dcff"/><stop offset="0.591" stop-color="#00ffff"/><stop offset="0.708" stop-color="#5bffa4"/><stop offset="0.766" stop-color="#a0ff5f"/><stop offset="0.834" stop-color="#cdff32"/><stop offset="0.907" stop-color="#d5ff2a"/><stop offset="1" stop-color="#bcff43"/></linearGradient>
<linearGradient id="g75" x1="0" y1="0" x2="0" y2="1"><stop offset="0" stop-color="#1effe1"/><stop offset="0.15" stop-color="#38ffc7"/><stop offset="0.5" stop-color="#4fffb0"/><stop offset="0.582" stop-color="#5cffa3"/><stop offset="0.65" stop-color="#76ff89"/><stop offset="0.766" stop-color="#c5ff3a"/><stop offset="0.907" stop-color="#eaff15"/><stop offset="1" stop-color="#d9ff26"/></linearGradient>
<linearGradient id="g76" x1="0" y1="0" x2="0" y2="1"><stop offset="0" stop-color="#3affc5"/><stop offset="0.349" stop-color="#6aff95"/><stop offset="0.582" stop-color="#76ff89"/><stop offset="0.708" stop-color="#97ff68"/><stop offset="0.766" stop-color="#bdff42"/><stop offset="0.907" stop-color="#ccff33"/><stop offset="1" stop-color="#b1ff4e"/></linearGradient>
<linearGradient id="g77" x1="0" y1="0" x2="0" y2="1"><stop offset="0" stop-color="#1cffe3"/><stop offset="0.15" stop-color="#35ffca"/><stop offset="0.5" stop-color="#4affb5"/><stop offset="0.582" stop-color="#55ffaa"/><stop offset="0.708" stop-color="#7fff80"/><stop offset="0.766" stop-color="#c4ff3b"/><stop offset="0.834" stop-color="#e1ff1e"/><stop offset="0.907" stop-color="#e6ff19"/><stop offset="1" stop-color="#c7ff38"/></linearGradient>
<linearGradient id="g78" x1="0" y1="0" x2="0" y2="1"><stop offset="0" stop-color="#00f7ff"/><stop offset="0.047" stop-color="#00ffff"/><stop offset="0.15" stop-color="#12ffed"/><stop offset="0.5" stop-color="#27ffd8"/><stop offset="0.582" stop-color="#34ffcb"/><stop offset="0.708" stop-color="#69ff96"/><stop offset="0.766" stop-color="#85ff7a"/><stop offset="0.834" stop-color="#bdff42"/><stop offset="0.907" stop-color="#c2ff3d"/><stop offset="1" stop-color="#a2ff5d"/></linearGradient>
<linearGradient id="g79" x1="0" y1="0" x2="0" y2="1"><stop offset="0" stop-color="#00e1ff"/><stop offset="0.21" stop-color="#00ffff"/><stop offset="0.5" stop-color="#10ffef"/><stop offset="0.582" stop-color="#1dffe2"/><stop offset="0.65" stop-color="#35ffca"/><stop offset="0.708" stop-color="#60ff9f"/><stop offset="0.766" stop-color="#a8ff57"/><stop offset="0.834" stop-color="#d1ff2e"/><stop offset="0.907" stop-color="#e4ff1b"/><stop offset="1" stop-color="#dbff24"/></linearGradient>
<linearGradient id="g80" x1="0" y1="0" x2="0" y2="1"><stop offset="0" stop-color="#00cbff"/><stop offset="0.15" stop-color="#00e4ff"/><stop offset="0.522" stop-color="#00ffff"/><stop offset="0.582" stop-color="#0bfff4"/><stop offset="0.708" stop-color="#3fffc0"/><stop offset="0.834" stop-color="#c2ff3d"/><stop offset="0.907" stop-color="#c1ff3e"/><stop offset="1" stop-color="#99ff66"/></linearGradient>
<linearGradient id="g81" x1="0" y1="0" x2="0" y2="1"><stop offset="0" stop-color="#00b1ff"/><stop offset="0.15" stop-color="#00caff"/><stop offset="0.5" stop-color="#00e3ff"/><stop offset="0.582" stop-color="#00f2ff"/><stop offset="0.614" stop-color="#00ffff"/><stop offset="0.708" stop-color="#2cffd3"/><stop offset="0.766" stop-color="#a3ff5c"/><stop offset="0.834" stop-color="#cfff30"/><stop offset="0.907" stop-color="#d8ff27"/><stop offset="1" stop-color="#c0ff3f"/></linearGradient>
<linearGradient id="g82" x1="0" y1="0" x2="0" y2="1"><stop offset="0" stop-color="#009cff"/><stop offset="0.15" stop-color="#00b5ff"/><stop offset="0.5" stop-color="#00ceff"/><stop offset="0.582" stop-color="#00dcff"/><stop offset="0.664" stop-color="#00ffff"/><stop offset="0.708" stop-color="#17ffe8"/><stop offset="0.766" stop-color="#73ff8c"/><stop offset="0.834" stop-color="#bfff40"/><stop offset="0.907" stop-color="#c8ff37"/><stop offset="1" stop-color="#afff50"/></linearGradient>
<linearGradient id="g83" x1="0" y1="0" x2="0" y2="1"><stop offset="0" stop-color="#008eff"/><stop offset="0.15" stop-color="#00a8ff"/><stop offset="0.5" stop-color="#00bfff"/><stop offset="0.582" stop-color="#00d0ff"/><stop offset="0.678" stop-color="#00ffff"/><stop offset="0.708" stop-color="#0ffff0"/><stop offset="0.766" stop-color="#67ff98"/><stop offset="0.834" stop-color="#aeff51"/><stop offset="0.907" stop-color="#baff45"/><stop offset="1" stop-color="#a6ff59"/></linearGradient>
<linearGradient id="g84" x1="0" y1="0" x2="0" y2="1"><stop offset="0" stop-color="#007fff"/><stop offset="0.15" stop-color="#0099ff"/><stop offset="0.5" stop-color="#00b2ff"/><stop offset="0.582" stop-color="#00c6ff"/><stop offset="0.65" stop-color="#00ecff"/><stop offset="0.665" stop-color="#00ffff"/><stop offset="0.766" stop-color="#76ff89"/><stop offset="0.834" stop-color="#e0ff1f"/><stop offset="0.907" stop-color="#e7ff18"/><stop offset="1" stop-color="#caff35"/></linearGradient>
<linearGradient id="g85" x1="0" y1="0" x2="0" y2="1"><stop offset="0" stop-color="#0068ff"/><stop offset="0.15" stop-color="#0081ff"/><stop offset="0.5" stop-color="#0099ff"/><stop offset="0.582" stop-color="#00a7ff"/><stop offset="0.65" stop-color="#00c1ff"/><stop offset="0.708" stop-color="#00eaff"/><stop offset="0.721" stop-color="#00ffff"/><stop offset="0.766" stop-color="#4affb5"/><stop offset="0.834" stop-color="#d2ff2d"/><stop offset="0.907" stop-color="#ddff22"/><stop offset="1" stop-color="#c8ff37"/></linearGradient>
<linearGradient id="g86" x1="0" y1="0" x2="0" y2="1"><stop offset="0" stop-color="#004eff"/><stop offset="0.15" stop-color="#0067ff"/><stop offset="0.5" stop-color="#0081ff"/><stop offset="0.582" stop-color="#0092ff"/><stop offset="0.65" stop-color="#00b3ff"/><stop offset="0.708" stop-color="#00dbff"/><stop offset="0.73" stop-color="#00ffff"/><stop offset="0.766" stop-color="#3bffc4"/><stop offset="0.834" stop-color="#c2ff3d"/><stop offset="0.907" stop-color="#cfff30"/><stop offset="1" stop-color="#bcff43"/></linearGradient>
<linearGradient id="g87" x1="0" y1="0" x2="0" y2="1"><stop offset="0" stop-color="#0035ff"/><stop offset="0.15" stop-color="#004fff"/><stop offset="0.5" stop-color="#006aff"/><stop offset="0.582" stop-color="#0081ff"/><stop offset="0.65" stop-color="#00afff"/><stop offset="0.698" stop-color="#00ffff"/><stop offset="0.766" stop-color="#88ff77"/><stop offset="0.834" stop-color="#d0ff2f"/><stop offset="0.907" stop-color="#d7ff28"/><stop offset="1" stop-color="#bdff42"/></linearGradient>
<linearGradient id="g88" x1="0" y1="0" x2="0" y2="1"><stop offset="0" stop-color="#0020ff"/><stop offset="0.15" stop-color="#003aff"/><stop offset="0.5" stop-color="#0056ff"/><stop offset="0.582" stop-color="#0077ff"/><stop offset="0.65" stop-color="#00b5ff"/><stop offset="0.708" stop-color="#05fffa"/><stop offset="0.766" stop-color="#5dffa2"/><stop offset="0.834" stop-color="#deff21"/><stop offset="0.907" stop-color="#e4ff1b"/><stop offset="1" stop-color="#c7ff38"/></linearGradient>
<linearGradient id="g89" x1="0" y1="0" x2="0" y2="1"><stop offset="0" stop-color="#0011ff"/><stop offset="0.15" stop-color="#002bff"/><stop offset="0.349" stop-color="#0037ff"/><stop offset="0.5" stop-color="#004bff"/><stop offset="0.582" stop-color="#007dff"/><stop offset="0.65" stop-color="#00dcff"/><stop offset="0.681" stop-color="#00ffff"/><stop offset="0.834" stop-color="#baff45"/><stop offset="0.907" stop-color="#c1ff3e"/><stop offset="1" stop-color="#a6ff59"/></linearGradient>
<linearGradient id="g90" x1="0" y1="0" x2="0" y2="1"><stop offset="0" stop-color="#0001ff"/><stop offset="0.15" stop-color="#001aff"/><stop offset="0.349" stop-color="#0025ff"/><stop offset="0.5" stop-color="#0041ff"/><stop offset="0.582" stop-color="#00a1ff"/><stop offset="0.64" stop-color="#00ffff"/><stop offset="0.65" stop-color="#10ffef"/><stop offset="0.708" stop-color="#2cffd3"/><stop offset="0.766" stop-color="#6dff92"/><stop offset="0.834" stop-color="#caff35"/><stop offset="0.907" stop-color="#cdff32"/><stop offset="1" stop-color="#abff54"/></linearGradient>
<linearGradient id="g91" x1="0" y1="0" x2="0" y2="1"><stop offset="0" stop-color="#0007ff"/><stop offset="0.15" stop-color="#0021ff"/><stop offset="0.5" stop-color="#0039ff"/><stop offset="0.582" stop-color="#005fff"/><stop offset="0.65" stop-color="#00a7ff"/><stop offset="0.702" stop-color="#00ffff"/><stop offset="0.766" stop-color="#7cff83"/><stop offset="0.834" stop-color="#d6ff29"/><stop offset="0.907" stop-color="#ddff22"/><stop offset="1" stop-color="#c2ff3d"/></linearGradient>
<linearGradient id="g92" x1="0" y1="0" x2="0" y2="1"><stop offset="0" stop-color="#0008ff"/><stop offset="0.15" stop-color="#0021ff"/><stop offset="0.349" stop-color="#0028ff"/><stop offset="0.5" stop-color="#0037ff"/><stop offset="0.582" stop-color="#005cff"/><stop offset="0.65" stop-color="#00a3ff"/><stop offset="0.688" stop-color="#00ffff"/><stop offset="0.708" stop-color="#2fffd0"/><stop offset="0.766" stop-color="#97ff68"/><stop offset="0.834" stop-color="#d6ff29"/><stop offset="0.907" stop-color="#ddff22"/><stop offset="1" stop-color="#c1ff3e"/></linearGradient>
<linearGradient id="g93" x1="0" y1="0" x2="0" y2="1"><stop offset="0" stop-color="#0032ff"/><stop offset="0.15" stop-color="#004cff"/><stop offset="0.5" stop-color="#005eff"/><stop offset="0.582" stop-color="#0079ff"/><stop offset="0.65" stop-color="#00afff"/><stop offset="0.692" stop-color="#00ffff"/><stop offset="0.708" stop-color="#1fffe0"/><stop offset="0.766" stop-color="#73ff8c"/><stop offset="0.834" stop-color="#c6ff39"/><stop offset="0.907" stop-color="#cfff30"/><stop offset="1" stop-color="#b8ff47"/></linearGradient>
<linearGradient id="g94" x1="0" y1="0" x2="0" y2="1"><stop offset="0" stop-color="#0077ff"/><stop offset="0.15" stop-color="#0091ff"/><stop offset="0.5" stop-color="#009fff"/><stop offset="0.582" stop-color="#00abff"/><stop offset="0.65" stop-color="#00c2ff"/><stop offset="0.708" stop-color="#00e4ff"/><stop offset="0.728" stop-color="#00ffff"/><stop offset="0.766" stop-color="#34ffcb"/><stop offset="0.834" stop-color="#a5ff5a"/><stop offset="0.907" stop-color="#b5ff4a"/><stop offset="1" stop-color="#a7ff58"/></linearGradient>
<linearGradient id="g95" x1="0" y1="0" x2="0" y2="1"><stop offset="0" stop-color="#0080ff"/><stop offset="0.15" stop-color="#009aff"/><stop offset="0.5" stop-color="#00aeff"/><stop offset="0.582" stop-color="#00bcff"/><stop offset="0.65" stop-color="#00d5ff"/><stop offset="0.684" stop-color="#00ffff"/><stop offset="0.708" stop-color="#1effe1"/><stop offset="0.766" stop-color="#aaff55"/><stop offset="0.834" stop-color="#e3ff1c"/><stop offset="0.907" stop-color="#f3ff0c"/><stop offset="1" stop-color="#e4ff1b"/></linearGradient>
<linearGradient id="g96" x1="0" y1="0" x2="0" y2="1"><stop offset="0" stop-color="#0084ff"/><stop offset="0.349" stop-color="#00b4ff"/><stop offset="0.5" stop-color="#00bcff"/><stop offset="0.582" stop-color="#00cfff"/><stop offset="0.666" stop-color="#00ffff"/><stop offset="0.708" stop-color="#1affe5"/><stop offset="0.766" stop-color="#9eff61"/><stop offset="0.834" stop-color="#d2ff2d"/><stop offset="0.907" stop-color="#d8ff27"/><stop offset="1" stop-color="#bbff44"/></linearGradient>
<linearGradient id="g97" x1="0" y1="0" x2="0" y2="1"><stop offset="0" stop-color="#0099ff"/><stop offset="0.349" stop-color="#00c9ff"/><stop offset="0.582" stop-color="#00d7ff"/><stop offset="0.65" stop-color="#00e9ff"/><stop offset="0.663" stop-color="#00ffff"/><stop offset="0.766" stop-color="#a2ff5d"/><stop offset="0.834" stop-color="#eaff15"/><stop offset="0.907" stop-color="#f6ff09"/><stop offset="1" stop-color="#e2ff1d"/></linearGradient>
<linearGradient id="g98" x1="0" y1="0" x2="0" y2="1"><stop offset="0" stop-color="#00abff"/><stop offset="0.349" stop-color="#00dcff"/><stop offset="0.582" stop-color="#00e6ff"/><stop offset="0.65" stop-color="#00f3ff"/><stop offset="0.657" stop-color="#00ffff"/><stop offset="0.708" stop-color="#57ffa8"/><stop offset="0.766" stop-color="#c5ff3a"/><stop offset="0.834" stop-color="#eeff11"/><stop offset="0.907" stop-color="#f8ff07"/><stop offset="1" stop-color="#e1ff1e"/></linearGradient>
<linearGradient id="g99" x1="0" y1="0" x2="0" y2="1"><stop offset="0" stop-color="#00b5ff"/><stop offset="0.349" stop-color="#00e8ff"/><stop offset="0.582" stop-color="#00efff"/><stop offset="0.655" stop-color="#00ffff"/><stop offset="0.708" stop-color="#41ffbe"/><stop offset="0.766" stop-color="#acff53"/><stop offset="0.834" stop-color="#f1ff0e"/><stop offset="0.907" stop-color="#feff01"/><stop offset="1" stop-color="#ebff14"/></linearGradient>
<linearGradient id="g100" x1="0" y1="0" x2="0" y2="1"><stop offset="0" stop-color="#00b5ff"/><stop offset="0.349" stop-color="#00e8ff"/><stop offset="0.582" stop-color="#00f0ff"/><stop offset="0.655" stop-color="#00ffff"/><stop offset="0.708" stop-color="#23ffdc"/><stop offset="0.766" stop-color="#a2ff5d"/><stop offset="0.834" stop-color="#f9ff06"/><stop offset="0.918" stop-color="#ffff00"/><stop offset="1" stop-color="#e8ff17"/></linearGradient>
<linearGradient id="g101" x1="0" y1="0" x2="0" y2="1"><stop offset="0" stop-color="#00a1ff"/><stop offset="0.349" stop-color="#00d4ff"/><stop offset="0.5" stop-color="#00daff"/><stop offset="0.582" stop-color="#00eaff"/><stop offset="0.63" stop-color="#00ffff"/><stop offset="0.65" stop-color="#09fff6"/><stop offset="0.708" stop-color="#5bffa4"/><stop offset="0.766" stop-color="#b7ff48"/><stop offset="0.834" stop-color="#eeff11"/><stop offset="0.907" stop-color="#f8ff07"/><stop offset="1" stop-color="#e0ff1f"/></linearGradient>
<linearGradient id="g102" x1="0" y1="0" x2="0" y2="1"><stop offset="0" stop-color="#0075ff"/><stop offset="0.15" stop-color="#008eff"/><stop offset="0.5" stop-color="#00b2ff"/><stop offset="0.582" stop-color="#00d9ff"/><stop offset="0.615" stop-color="#00ffff"/><stop offset="0.65" stop-color="#27ffd8"/><stop offset="0.708" stop-color="#54ffab"/><stop offset="0.834" stop-color="#f3ff0c"/><stop offset="0.907" stop-color="#f9ff06"/><stop offset="1" stop-color="#dbff24"/></linearGradient>
<linearGradient id="g103" x1="0" y1="0" x2="0" y2="1"><stop offset="0" stop-color="#0065ff"/><stop offset="0.5" stop-color="#00afff"/><stop offset="0.582" stop-color="#01fffe"/><stop offset="0.65" stop-color="#70ff8f"/><stop offset="0.766" stop-color="#d8ff27"/><stop offset="0.834" stop-color="#f6ff09"/><stop offset="0.907" stop-color="#faff05"/><stop offset="1" stop-color="#daff25"/></linearGradient>
<linearGradient id="g104" x1="0" y1="0" x2="0" y2="1"><stop offset="0" stop-color="#0051ff"/><stop offset="0.349" stop-color="#0088ff"/><stop offset="0.5" stop-color="#00f1ff"/><stop offset="0.51" stop-color="#00ffff"/><stop offset="0.582" stop-color="#60ff9f"/><stop offset="0.682" stop-color="#ffff00"/><stop offset="0.708" stop-color="#ffd800"/><stop offset="0.766" stop-color="#ffa600"/><stop offset="0.907" stop-color="#ff9500"/><stop offset="1" stop-color="#ffa700"/></linearGradient>
<linearGradient id="g105" x1="0" y1="0" x2="0" y2="1"><stop offset="0" stop-color="#0020ff"/><stop offset="0.349" stop-color="#0056ff"/><stop offset="0.5" stop-color="#008aff"/><stop offset="0.586" stop-color="#00ffff"/><stop offset="0.65" stop-color="#68ff97"/><stop offset="0.689" stop-color="#ffff00"/><stop offset="0.708" stop-color="#ffb700"/><stop offset="0.766" stop-color="#ff9000"/><stop offset="0.907" stop-color="#ff7000"/><stop offset="1" stop-color="#ff7e00"/></linearGradient>
<linearGradient id="g106" x1="0" y1="0" x2="0" y2="1"><stop offset="0" stop-color="#000aff"/><stop offset="0.15" stop-color="#0023ff"/><stop offset="0.349" stop-color="#0036ff"/><stop offset="0.5" stop-color="#0070ff"/><stop offset="0.602" stop-color="#00ffff"/><stop offset="0.65" stop-color="#4effb1"/><stop offset="0.708" stop-color="#c6ff39"/><stop offset="0.744" stop-color="#ffff00"/><stop offset="0.766" stop-color="#ffdb00"/><stop offset="0.834" stop-color="#ffdb00"/><stop offset="0.907" stop-color="#ffcf00"/><stop offset="1" stop-color="#ffe300"/></linearGradient>
<linearGradient id="g107" x1="0" y1="0" x2="0" y2="1"><stop offset="0" stop-color="#0014ff"/><stop offset="0.15" stop-color="#002dff"/><stop offset="0.349" stop-color="#0040ff"/><stop offset="0.5" stop-color="#0080ff"/><stop offset="0.592" stop-color="#00ffff"/><stop offset="0.65" stop-color="#5effa1"/><stop offset="0.708" stop-color="#7eff81"/><stop offset="0.766" stop-color="#dbff24"/><stop offset="0.834" stop-color="#f1ff0e"/><stop offset="0.907" stop-color="#fcff03"/><stop offset="1" stop-color="#e6ff19"/></linearGradient>
<linearGradient id="g108" x1="0" y1="0" x2="0" y2="1"><stop offset="0" stop-color="#000aff"/><stop offset="0.15" stop-color="#0024ff"/><stop offset="0.349" stop-color="#0034ff"/><stop offset="0.5" stop-color="#0058ff"/><stop offset="0.582" stop-color="#00c7ff"/><stop offset="0.617" stop-color="#00ffff"/><stop offset="0.708" stop-color="#9bff64"/><stop offset="0.758" stop-color="#ffff00"/><stop offset="0.766" stop-color="#ffef00"/><stop offset="0.907" stop-color="#ffd900"/><stop offset="1" stop-color="#fff000"/></linearGradient>
<linearGradient id="g109" x1="0" y1="0" x2="0" y2="1"><stop offset="0" stop-color="#0000ba"/><stop offset="0.15" stop-color="#0000d4"/><stop offset="0.349" stop-color="#0000e3"/><stop offset="0.395" stop-color="#0000ff"/><stop offset="0.5" stop-color="#0040ff"/><stop offset="0.582" stop-color="#00aeff"/><stop offset="0.632" stop-color="#00ffff"/><stop offset="0.766" stop-color="#fcff03"/><stop offset="0.918" stop-color="#ffff00"/><stop offset="1" stop-color="#e5ff1a"/></linearGradient>
<linearGradient id="g110" x1="0" y1="0" x2="0" y2="1"><stop offset="0" stop-color="#000080"/><stop offset="0.349" stop-color="#00009a"/><stop offset="0.454" stop-color="#0000ff"/><stop offset="0.5" stop-color="#002cff"/><stop offset="0.582" stop-color="#009aff"/><stop offset="0.644" stop-color="#00ffff"/><stop offset="0.708" stop-color="#5effa1"/><stop offset="0.766" stop-color="#d8ff27"/><stop offset="0.809" stop-color="#ffff00"/><stop offset="0.834" stop-color="#ffe900"/><stop offset="0.907" stop-color="#ffea00"/><stop offset="0.97" stop-color="#fdff02"/><stop offset="1" stop-color="#ebff14"/></linearGradient>
<linearGradient id="g111" x1="0" y1="0" x2="0" y2="1"><stop offset="0" stop-color="#000080"/><stop offset="0.349" stop-color="#000080"/><stop offset="0.467" stop-color="#0000ff"/><stop offset="0.582" stop-color="#0093ff"/><stop offset="0.65" stop-color="#03fffc"/><stop offset="0.708" stop-color="#93ff6c"/><stop offset="0.766" stop-color="#e3ff1c"/><stop offset="0.794" stop-color="#ffff00"/><stop offset="0.834" stop-color="#ffd600"/><stop offset="0.907" stop-color="#ffca00"/><stop offset="1" stop-color="#ffdd00"/></linearGradient>
<linearGradient id="g112" x1="0" y1="0" x2="0" y2="1"><stop offset="0" stop-color="#000080"/><stop offset="0.15" stop-color="#000085"/><stop offset="0.349" stop-color="#0000a7"/><stop offset="0.444" stop-color="#0000ff"/><stop offset="0.5" stop-color="#0034ff"/><stop offset="0.582" stop-color="#00a3ff"/><stop offset="0.639" stop-color="#00ffff"/><stop offset="0.65" stop-color="#12ffed"/><stop offset="0.708" stop-color="#98ff67"/><stop offset="0.814" stop-color="#ffff00"/><stop offset="0.834" stop-color="#ffec00"/><stop offset="0.907" stop-color="#ffe200"/><stop offset="1" stop-color="#fffa00"/></linearGradient>
<linearGradient id="g113" x1="0" y1="0" x2="0" y2="1"><stop offset="0" stop-color="#000080"/><stop offset="0.15" stop-color="#000082"/><stop offset="0.349" stop-color="#0000a4"/><stop offset="0.445" stop-color="#0000ff"/><stop offset="0.5" stop-color="#0035ff"/><stop offset="0.582" stop-color="#00a3ff"/><stop offset="0.638" stop-color="#00ffff"/><stop offset="0.708" stop-color="#85ff7a"/><stop offset="0.834" stop-color="#fffd00"/><stop offset="0.907" stop-color="#fff700"/><stop offset="0.97" stop-color="#f6ff09"/><stop offset="1" stop-color="#e8ff17"/></linearGradient>
<linearGradient id="g114" x1="0" y1="0" x2="0" y2="1"><stop offset="0" stop-color="#000080"/><stop offset="0.15" stop-color="#00008e"/><stop offset="0.349" stop-color="#0000b0"/><stop offset="0.463" stop-color="#0000ff"/><stop offset="0.5" stop-color="#0019ff"/><stop offset="0.582" stop-color="#0088ff"/><stop offset="0.654" stop-color="#00ffff"/><stop offset="0.708" stop-color="#70ff8f"/><stop offset="0.766" stop-color="#cfff30"/><stop offset="0.817" stop-color="#ffff00"/><stop offset="0.834" stop-color="#ffee00"/><stop offset="0.907" stop-color="#ffeb00"/><stop offset="0.972" stop-color="#ffff00"/><stop offset="1" stop-color="#f1ff0e"/></linearGradient>
<linearGradient id="g115" x1="0" y1="0" x2="0" y2="1"><stop offset="0" stop-color="#0000dc"/><stop offset="0.205" stop-color="#0000ff"/><stop offset="0.349" stop-color="#0019ff"/><stop offset="0.5" stop-color="#0043ff"/><stop offset="0.582" stop-color="#00b2ff"/><stop offset="0.629" stop-color="#00ffff"/><stop offset="0.65" stop-color="#21ffde"/><stop offset="0.708" stop-color="#52ffad"/><stop offset="0.766" stop-color="#baff45"/><stop offset="0.82" stop-color="#ffff00"/><stop offset="0.834" stop-color="#ffed00"/><stop offset="0.907" stop-color="#ffdd00"/><stop offset="1" stop-color="#ffec00"/></linearGradient>
<linearGradient id="g116" x1="0" y1="0" x2="0" y2="1"><stop offset="0" stop-color="#0000e9"/><stop offset="0.15" stop-color="#0004ff"/><stop offset="0.5" stop-color="#0044ff"/><stop offset="0.582" stop-color="#00afff"/><stop offset="0.631" stop-color="#00ffff"/><stop offset="0.65" stop-color="#1effe1"/><stop offset="0.708" stop-color="#3effc1"/><stop offset="0.766" stop-color="#a5ff5a"/><stop offset="0.834" stop-color="#efff10"/><stop offset="0.907" stop-color="#edff12"/><stop offset="1" stop-color="#c4ff3b"/></linearGradient>
<linearGradient id="g117" x1="0" y1="0" x2="0" y2="1"><stop offset="0" stop-color="#0005ff"/><stop offset="0.5" stop-color="#0058ff"/><stop offset="0.582" stop-color="#0093ff"/><stop offset="0.65" stop-color="#03fffc"/><stop offset="0.708" stop-color="#5fffa0"/><stop offset="0.766" stop-color="#88ff77"/><stop offset="0.834" stop-color="#fffb00"/><stop offset="0.907" stop-color="#ffe900"/><stop offset="1" stop-color="#fff300"/></linearGradient>
<linearGradient id="g118" x1="0" y1="0" x2="0" y2="1"><stop offset="0" stop-color="#000aff"/><stop offset="0.5" stop-color="#005eff"/><stop offset="0.582" stop-color="#00a4ff"/><stop offset="0.638" stop-color="#00ffff"/><stop offset="0.708" stop-color="#7eff81"/><stop offset="0.76" stop-color="#ffff00"/><stop offset="0.766" stop-color="#fff100"/><stop offset="0.907" stop-color="#ffe000"/><stop offset="1" stop-color="#fff400"/></linearGradient>
<linearGradient id="g119" x1="0" y1="0" x2="0" y2="1"><stop offset="0" stop-color="#002dff"/><stop offset="0.5" stop-color="#007dff"/><stop offset="0.582" stop-color="#00b0ff"/><stop offset="0.637" stop-color="#00ffff"/><stop offset="0.65" stop-color="#13ffec"/><stop offset="0.708" stop-color="#b2ff4d"/><stop offset="0.761" stop-color="#ffff00"/><stop offset="0.766" stop-color="#fff800"/><stop offset="0.834" stop-color="#fff800"/><stop offset="0.907" stop-color="#ffe300"/><stop offset="1" stop-color="#ffe800"/></linearGradient>
<linearGradient id="g120" x1="0" y1="0" x2="0" y2="1"><stop offset="0" stop-color="#002bff"/><stop offset="0.5" stop-color="#0081ff"/><stop offset="0.582" stop-color="#00d0ff"/><stop offset="0.611" stop-color="#00ffff"/><stop offset="0.65" stop-color="#3fffc0"/><stop offset="0.708" stop-color="#75ff8a"/><stop offset="0.766" stop-color="#caff35"/><stop offset="0.818" stop-color="#ffff00"/><stop offset="0.834" stop-color="#ffee00"/><stop offset="0.907" stop-color="#ffe900"/><stop offset="0.979" stop-color="#ffff00"/><stop offset="1" stop-color="#f5ff0a"/></linearGradient>
<linearGradient id="g121" x1="0" y1="0" x2="0" y2="1"><stop offset="0" stop-color="#003aff"/><stop offset="0.5" stop-color="#008aff"/><stop offset="0.582" stop-color="#00bcff"/><stop offset="0.629" stop-color="#00ffff"/><stop offset="0.65" stop-color="#1fffe0"/><stop offset="0.708" stop-color="#a9ff56"/><stop offset="0.766" stop-color="#fffd00"/><stop offset="0.834" stop-color="#ffe200"/><stop offset="0.907" stop-color="#ffd900"/><stop offset="1" stop-color="#fff300"/></linearGradient>
<linearGradient id="g122" x1="0" y1="0" x2="0" y2="1"><stop offset="0" stop-color="#004fff"/><stop offset="0.5" stop-color="#009fff"/><stop offset="0.582" stop-color="#00d3ff"/><stop offset="0.612" stop-color="#00ffff"/><stop offset="0.65" stop-color="#37ffc8"/><stop offset="0.708" stop-color="#aaff55"/><stop offset="0.766" stop-color="#faff05"/><stop offset="0.834" stop-color="#ffe100"/><stop offset="0.907" stop-color="#ffdb00"/><stop offset="1" stop-color="#fff900"/></linearGradient>
<linearGradient id="g123" x1="0" y1="0" x2="0" y2="1"><stop offset="0" stop-color="#0055ff"/><stop offset="0.349" stop-color="#0090ff"/><stop offset="0.5" stop-color="#00a2ff"/><stop offset="0.582" stop-color="#00ceff"/><stop offset="0.621" stop-color="#00ffff"/><stop offset="0.65" stop-color="#24ffdb"/><stop offset="0.708" stop-color="#56ffa9"/><stop offset="0.766" stop-color="#ccff33"/><stop offset="0.808" stop-color="#ffff00"/><stop offset="0.834" stop-color="#ffde00"/><stop offset="0.907" stop-color="#ffd500"/><stop offset="1" stop-color="#ffed00"/></linearGradient>
<linearGradient id="g124" x1="0" y1="0" x2="0" y2="1"><stop offset="0" stop-color="#0049ff"/><stop offset="0.5" stop-color="#0097ff"/><stop offset="0.582" stop-color="#00c6ff"/><stop offset="0.625" stop-color="#00ffff"/><stop offset="0.708" stop-color="#69ff96"/><stop offset="0.766" stop-color="#c7ff38"/><stop offset="0.812" stop-color="#ffff00"/><stop offset="0.834" stop-color="#ffe400"/><stop offset="0.907" stop-color="#ffdd00"/><stop offset="1" stop-color="#fff800"/></linearGradient>
<linearGradient id="g125" x1="0" y1="0" x2="0" y2="1"><stop offset="0" stop-color="#0047ff"/><stop offset="0.5" stop-color="#0098ff"/><stop offset="0.582" stop-color="#00cfff"/><stop offset="0.613" stop-color="#00ffff"/><stop offset="0.65" stop-color="#3affc5"/><stop offset="0.766" stop-color="#ceff31"/><stop offset="0.822" stop-color="#ffff00"/><stop offset="0.834" stop-color="#fff500"/><stop offset="0.907" stop-color="#fff000"/><stop offset="0.97" stop-color="#fcff03"/><stop offset="1" stop-color="#eeff11"/></linearGradient>
<linearGradient id="g126" x1="0" y1="0" x2="0" y2="1"><stop offset="0" stop-color="#0047ff"/><stop offset="0.5" stop-color="#009aff"/><stop offset="0.582" stop-color="#00d6ff"/><stop offset="0.607" stop-color="#00ffff"/><stop offset="0.65" stop-color="#45ffba"/><stop offset="0.821" stop-color="#ffff00"/><stop offset="0.834" stop-color="#fff000"/><stop offset="0.907" stop-color="#ffe100"/><stop offset="1" stop-color="#fff200"/></linearGradient>
<linearGradient id="g127" x1="0" y1="0" x2="0" y2="1"><stop offset="0" stop-color="#0048ff"/><stop offset="0.5" stop-color="#0098ff"/><stop offset="0.582" stop-color="#00cbff"/><stop offset="0.618" stop-color="#00ffff"/><stop offset="0.708" stop-color="#76ff89"/><stop offset="0.766" stop-color="#cdff32"/><stop offset="0.822" stop-color="#ffff00"/><stop offset="0.834" stop-color="#fff400"/><stop offset="0.907" stop-color="#fff000"/><stop offset="0.97" stop-color="#fcff03"/><stop offset="1" stop-color="#eeff11"/></linearGradient>
<linearGradient id="g128" x1="0" y1="0" x2="0" y2="1"><stop offset="0" stop-color="#004dff"/><stop offset="0.5" stop-color="#009bff"/><stop offset="0.582" stop-color="#00c9ff"/><stop offset="0.623" stop-color="#00ffff"/><stop offset="0.708" stop-color="#80ff7f"/><stop offset="0.766" stop-color="#ceff31"/><stop offset="0.823" stop-color="#ffff00"/><stop offset="0.834" stop-color="#fff500"/><stop offset="0.907" stop-color="#ffef00"/><stop offset="0.97" stop-color="#feff01"/><stop offset="1" stop-color="#f1ff0e"/></linearGradient>
<linearGradient id="g129" x1="0" y1="0" x2="0" y2="1"><stop offset="0" stop-color="#0049ff"/><stop offset="0.5" stop-color="#009bff"/><stop offset="0.582" stop-color="#00d2ff"/><stop offset="0.61" stop-color="#00ffff"/><stop offset="0.65" stop-color="#3effc1"/><stop offset="0.708" stop-color="#72ff8d"/><stop offset="0.766" stop-color="#cdff32"/><stop offset="0.821" stop-color="#ffff00"/><stop offset="0.834" stop-color="#fff300"/><stop offset="0.907" stop-color="#ffe700"/><stop offset="1" stop-color="#fffc00"/></linearGradient>
<linearGradient id="g130" x1="0" y1="0" x2="0" y2="1"><stop offset="0" stop-color="#004eff"/><stop offset="0.5" stop-color="#009dff"/><stop offset="0.582" stop-color="#00cfff"/><stop offset="0.616" stop-color="#00ffff"/><stop offset="0.65" stop-color="#30ffcf"/><stop offset="0.834" stop-color="#f3ff0c"/><stop offset="0.907" stop-color="#f8ff07"/><stop offset="1" stop-color="#daff25"/></linearGradient>
<linearGradient id="g131" x1="0" y1="0" x2="0" y2="1"><stop offset="0" stop-color="#0051ff"/><stop offset="0.5" stop-color="#00a1ff"/><stop offset="0.582" stop-color="#00d4ff"/><stop offset="0.612" stop-color="#00ffff"/><stop offset="0.65" stop-color="#37ffc8"/><stop offset="0.708" stop-color="#7bff84"/><stop offset="0.766" stop-color="#d3ff2c"/><stop offset="0.811" stop-color="#ffff00"/><stop offset="0.834" stop-color="#ffe800"/><stop offset="0.907" stop-color="#ffe100"/><stop offset="1" stop-color="#ffff00"/></linearGradient>
<linearGradient id="g132" x1="0" y1="0" x2="0" y2="1"><stop offset="0" stop-color="#004fff"/><stop offset="0.5" stop-color="#00a2ff"/><stop offset="0.582" stop-color="#00ddff"/><stop offset="0.603" stop-color="#00ffff"/><stop offset="0.65" stop-color="#4dffb2"/><stop offset="0.708" stop-color="#92ff6d"/><stop offset="0.766" stop-color="#e1ff1e"/><stop offset="0.801" stop-color="#ffff00"/><stop offset="0.834" stop-color="#ffe200"/><stop offset="0.907" stop-color="#ffd700"/><stop offset="1" stop-color="#ffee00"/></linearGradient>
<linearGradient id="g133" x1="0" y1="0" x2="0" y2="1"><stop offset="0" stop-color="#0098ff"/><stop offset="0.349" stop-color="#00d3ff"/><stop offset="0.5" stop-color="#00e1ff"/><stop offset="0.582" stop-color="#04fffb"/><stop offset="0.65" stop-color="#47ffb8"/><stop offset="0.766" stop-color="#e6ff19"/><stop offset="0.813" stop-color="#ffff00"/><stop offset="0.834" stop-color="#fff300"/><stop offset="0.907" stop-color="#ffed00"/><stop offset="0.976" stop-color="#ffff00"/><stop offset="1" stop-color="#f5ff0a"/></linearGradient>
<linearGradient id="g134" x1="0" y1="0" x2="0" y2="1"><stop offset="0" stop-color="#0055ff"/><stop offset="0.349" stop-color="#0091ff"/><stop offset="0.5" stop-color="#00ebff"/><stop offset="0.514" stop-color="#00ffff"/><stop offset="0.582" stop-color="#5bffa4"/><stop offset="0.65" stop-color="#c9ff36"/><stop offset="0.774" stop-color="#ffff00"/><stop offset="0.834" stop-color="#ffe200"/><stop offset="0.907" stop-color="#ffe000"/><stop offset="1" stop-color="#faff05"/></linearGradient>
<linearGradient id="g135" x1="0" y1="0" x2="0" y2="1"><stop offset="0" stop-color="#005eff"/><stop offset="0.5" stop-color="#00b3ff"/><stop offset="0.584" stop-color="#00ffff"/><stop offset="0.708" stop-color="#c3ff3c"/><stop offset="0.76" stop-color="#ffff00"/><stop offset="0.834" stop-color="#ffd800"/><stop offset="0.907" stop-color="#ffd000"/><stop offset="1" stop-color="#ffea00"/></linearGradient>
<linearGradient id="g136" x1="0" y1="0" x2="0" y2="1"><stop offset="0" stop-color="#0054ff"/><stop offset="0.5" stop-color="#00a5ff"/><stop offset="0.582" stop-color="#00dbff"/><stop offset="0.605" stop-color="#00ffff"/><stop offset="0.65" stop-color="#45ffba"/><stop offset="0.708" stop-color="#c3ff3c"/><stop offset="0.754" stop-color="#ffff00"/><stop offset="0.766" stop-color="#fff000"/><stop offset="0.907" stop-color="#ffdd00"/><stop offset="1" stop-color="#fff800"/></linearGradient>
<linearGradient id="g137" x1="0" y1="0" x2="0" y2="1"><stop offset="0" stop-color="#004fff"/><stop offset="0.5" stop-color="#00a2ff"/><stop offset="0.582" stop-color="#00e4ff"/><stop offset="0.599" stop-color="#00ffff"/><stop offset="0.65" stop-color="#53ffac"/><stop offset="0.708" stop-color="#d0ff2f"/><stop offset="0.74" stop-color="#ffff00"/><stop offset="0.766" stop-color="#ffd800"/><stop offset="0.834" stop-color="#ffbb00"/><stop offset="0.907" stop-color="#ffa900"/><stop offset="1" stop-color="#ffb400"/></linearGradient>
<linearGradient id="g138" x1="0" y1="0" x2="0" y2="1"><stop offset="0" stop-color="#004fff"/><stop offset="0.5" stop-color="#00a0ff"/><stop offset="0.582" stop-color="#00d4ff"/><stop offset="0.611" stop-color="#00ffff"/><stop offset="0.65" stop-color="#3bffc4"/><stop offset="0.708" stop-color="#66ff99"/><stop offset="0.834" stop-color="#ecff13"/><stop offset="0.907" stop-color="#efff10"/><stop offset="1" stop-color="#ccff33"/></linearGradient>
<linearGradient id="g139" x1="0" y1="0" x2="0" y2="1"><stop offset="0" stop-color="#0052ff"/><stop offset="0.5" stop-color="#00a3ff"/><stop offset="0.582" stop-color="#00daff"/><stop offset="0.605" stop-color="#00ffff"/><stop offset="0.708" stop-color="#acff53"/><stop offset="0.802" stop-color="#ffff00"/><stop offset="0.834" stop-color="#ffe500"/><stop offset="0.907" stop-color="#ffd700"/><stop offset="1" stop-color="#ffe900"/></linearGradient>
<linearGradient id="g140" x1="0" y1="0" x2="0" y2="1"><stop offset="0" stop-color="#007dff"/><stop offset="0.349" stop-color="#00b9ff"/><stop offset="0.5" stop-color="#00c6ff"/><stop offset="0.582" stop-color="#00e8ff"/><stop offset="0.607" stop-color="#00ffff"/><stop offset="0.708" stop-color="#5bffa4"/><stop offset="0.766" stop-color="#abff54"/><stop offset="0.834" stop-color="#f7ff08"/><stop offset="0.907" stop-color="#fbff04"/><stop offset="1" stop-color="#dbff24"/></linearGradient>
<linearGradient id="g141" x1="0" y1="0" x2="0" y2="1"><stop offset="0" stop-color="#0051ff"/><stop offset="0.5" stop-color="#00a7ff"/><stop offset="0.586" stop-color="#00ffff"/><stop offset="0.708" stop-color="#cdff32"/><stop offset="0.752" stop-color="#ffff00"/><stop offset="0.766" stop-color="#fff000"/><stop offset="0.834" stop-color="#ffdd00"/><stop offset="0.907" stop-color="#ffd600"/><stop offset="1" stop-color="#fff300"/></linearGradient>
<linearGradient id="g142" x1="0" y1="0" x2="0" y2="1"><stop offset="0" stop-color="#005bff"/><stop offset="0.5" stop-color="#00afff"/><stop offset="0.582" stop-color="#00f1ff"/><stop offset="0.591" stop-color="#00ffff"/><stop offset="0.65" stop-color="#60ff9f"/><stop offset="0.708" stop-color="#afff50"/><stop offset="0.747" stop-color="#ffff00"/><stop offset="0.766" stop-color="#ffd800"/><stop offset="0.834" stop-color="#ffbd00"/><stop offset="0.907" stop-color="#ffb600"/><stop offset="1" stop-color="#ffd200"/></linearGradient>
<linearGradient id="g143" x1="0" y1="0" x2="0" y2="1"><stop offset="0" stop-color="#00b1ff"/><stop offset="0.349" stop-color="#00edff"/><stop offset="0.5" stop-color="#00f5ff"/><stop offset="0.538" stop-color="#00ffff"/><stop offset="0.582" stop-color="#0bfff4"/><stop offset="0.65" stop-color="#34ffcb"/><stop offset="0.766" stop-color="#aaff55"/><stop offset="0.834" stop-color="#e3ff1c"/><stop offset="0.907" stop-color="#edff12"/><stop offset="1" stop-color="#d6ff29"/></linearGradient>
<linearGradient id="g144" x1="0" y1="0" x2="0" y2="1"><stop offset="0" stop-color="#004aff"/><stop offset="0.5" stop-color="#009aff"/><stop offset="0.582" stop-color="#00cdff"/><stop offset="0.617" stop-color="#00ffff"/><stop offset="0.766" stop-color="#c2ff3d"/><stop offset="0.816" stop-color="#ffff00"/><stop offset="0.834" stop-color="#ffe900"/><stop offset="0.907" stop-color="#ffdb00"/><stop offset="1" stop-color="#ffed00"/></linearGradient>
<linearGradient id="g145" x1="0" y1="0" x2="0" y2="1"><stop offset="0" stop-color="#0053ff"/><stop offset="0.5" stop-color="#00a2ff"/><stop offset="0.582" stop-color="#00d1ff"/><stop offset="0.616" stop-color="#00ffff"/><stop offset="0.65" stop-color="#2fffd0"/><stop offset="0.766" stop-color="#ffff00"/><stop offset="0.834" stop-color="#ffc500"/><stop offset="0.907" stop-color="#ffb300"/><stop offset="1" stop-color="#ffbd00"/></linearGradient>
<linearGradient id="g146" x1="0" y1="0" x2="0" y2="1"><stop offset="0" stop-color="#007eff"/><stop offset="0.5" stop-color="#00cdff"/><stop offset="0.582" stop-color="#00ffff"/><stop offset="0.65" stop-color="#60ff9f"/><stop offset="0.708" stop-color="#f2ff0d"/><stop offset="0.723" stop-color="#ffff00"/><stop offset="0.766" stop-color="#ffda00"/><stop offset="0.834" stop-color="#ffcb00"/><stop offset="0.907" stop-color="#ffc600"/><stop offset="1" stop-color="#ffe500"/></linearGradient>
<linearGradient id="g147" x1="0" y1="0" x2="0" y2="1"><stop offset="0" stop-color="#005bff"/><stop offset="0.5" stop-color="#00abff"/><stop offset="0.582" stop-color="#00dfff"/><stop offset="0.604" stop-color="#00ffff"/><stop offset="0.65" stop-color="#44ffbb"/><stop offset="0.708" stop-color="#acff53"/><stop offset="0.779" stop-color="#ffff00"/><stop offset="0.834" stop-color="#ffbb00"/><stop offset="0.907" stop-color="#ffab00"/><stop offset="1" stop-color="#ffb900"/></linearGradient>
<linearGradient id="g148" x1="0" y1="0" x2="0" y2="1"><stop offset="0" stop-color="#0057ff"/><stop offset="0.5" stop-color="#00abff"/><stop offset="0.582" stop-color="#00efff"/><stop offset="0.592" stop-color="#00ffff"/><stop offset="0.65" stop-color="#5fffa0"/><stop offset="0.695" stop-color="#ffff00"/><stop offset="0.708" stop-color="#ffd100"/><stop offset="0.766" stop-color="#ffb400"/><stop offset="0.907" stop-color="#ff9000"/><stop offset="1" stop-color="#ffa100"/></linearGradient>
<linearGradient id="g149" x1="0" y1="0" x2="0" y2="1"><stop offset="0" stop-color="#004fff"/><stop offset="0.349" stop-color="#008bff"/><stop offset="0.5" stop-color="#00b0ff"/><stop offset="0.558" stop-color="#00ffff"/><stop offset="0.65" stop-color="#8eff71"/><stop offset="0.678" stop-color="#ffff00"/><stop offset="0.708" stop-color="#ff8700"/><stop offset="0.766" stop-color="#ff4c00"/><stop offset="0.834" stop-color="#ff4c00"/><stop offset="0.907" stop-color="#ff4000"/><stop offset="1" stop-color="#ff5200"/></linearGradient>
<linearGradient id="g150" x1="0" y1="0" x2="0" y2="1"><stop offset="0" stop-color="#0073ff"/><stop offset="0.5" stop-color="#00c1ff"/><stop offset="0.582" stop-color="#00efff"/><stop offset="0.594" stop-color="#00ffff"/><stop offset="0.65" stop-color="#4affb5"/><stop offset="0.69" stop-color="#ffff00"/><stop offset="0.708" stop-color="#ffab00"/><stop offset="0.766" stop-color="#ff6900"/><stop offset="0.907" stop-color="#ff6500"/><stop offset="1" stop-color="#ff8500"/></linearGradient>
<linearGradient id="g151" x1="0" y1="0" x2="0" y2="1"><stop offset="0" stop-color="#0053ff"/><stop offset="0.5" stop-color="#00a2ff"/><stop offset="0.582" stop-color="#00d5ff"/><stop offset="0.611" stop-color="#00ffff"/><stop offset="0.708" stop-color="#82ff7d"/><stop offset="0.766" stop-color="#c3ff3c"/><stop offset="0.807" stop-color="#ffff00"/><stop offset="0.834" stop-color="#ffd700"/><stop offset="0.907" stop-color="#ffca00"/><stop offset="1" stop-color="#ffdc00"/></linearGradient>
<linearGradient id="g152" x1="0" y1="0" x2="0" y2="1"><stop offset="0" stop-color="#004cff"/><stop offset="0.5" stop-color="#009fff"/><stop offset="0.582" stop-color="#00dbff"/><stop offset="0.604" stop-color="#00ffff"/><stop offset="0.65" stop-color="#4bffb4"/><stop offset="0.708" stop-color="#96ff69"/><stop offset="0.766" stop-color="#bcff43"/><stop offset="0.834" stop-color="#f6ff09"/><stop offset="0.907" stop-color="#feff01"/><stop offset="1" stop-color="#e3ff1c"/></linearGradient>
<linearGradient id="g153" x1="0" y1="0" x2="0" y2="1"><stop offset="0" stop-color="#005dff"/><stop offset="0.349" stop-color="#0099ff"/><stop offset="0.5" stop-color="#00abff"/><stop offset="0.582" stop-color="#00d8ff"/><stop offset="0.612" stop-color="#00ffff"/><stop offset="0.65" stop-color="#30ffcf"/><stop offset="0.708" stop-color="#dcff23"/><stop offset="0.736" stop-color="#ffff00"/><stop offset="0.766" stop-color="#ffd900"/><stop offset="0.907" stop-color="#ffbe00"/><stop offset="1" stop-color="#ffd500"/></linearGradient>
<linearGradient id="g154" x1="0" y1="0" x2="0" y2="1"><stop offset="0" stop-color="#0050ff"/><stop offset="0.5" stop-color="#00a2ff"/><stop offset="0.582" stop-color="#00daff"/><stop offset="0.605" stop-color="#00ffff"/><stop offset="0.65" stop-color="#47ffb8"/><stop offset="0.69" stop-color="#ffff00"/><stop offset="0.708" stop-color="#ffab00"/><stop offset="0.766" stop-color="#ff9100"/><stop offset="0.834" stop-color="#ff5e00"/><stop offset="0.907" stop-color="#ff5600"/><stop offset="1" stop-color="#ff7200"/></linearGradient>
<linearGradient id="g155" x1="0" y1="0" x2="0" y2="1"><stop offset="0" stop-color="#004aff"/><stop offset="0.5" stop-color="#009dff"/><stop offset="0.582" stop-color="#00ddff"/><stop offset="0.603" stop-color="#00ffff"/><stop offset="0.65" stop-color="#4dffb2"/><stop offset="0.708" stop-color="#87ff78"/><stop offset="0.766" stop-color="#cfff30"/><stop offset="0.827" stop-color="#ffff00"/><stop offset="0.907" stop-color="#ffed00"/><stop offset="1" stop-color="#fdff02"/></linearGradient>
<linearGradient id="g156" x1="0" y1="0" x2="0" y2="1"><stop offset="0" stop-color="#004cff"/><stop offset="0.5" stop-color="#009fff"/><stop offset="0.582" stop-color="#00dfff"/><stop offset="0.602" stop-color="#00ffff"/><stop offset="0.708" stop-color="#b4ff4b"/><stop offset="0.766" stop-color="#e3ff1c"/><stop offset="0.873" stop-color="#ffff00"/><stop offset="0.907" stop-color="#fff800"/><stop offset="0.97" stop-color="#feff01"/><stop offset="1" stop-color="#f6ff09"/></linearGradient>
<linearGradient id="g157" x1="0" y1="0" x2="0" y2="1"><stop offset="0" stop-color="#004bff"/><stop offset="0.5" stop-color="#009dff"/><stop offset="0.582" stop-color="#00d5ff"/><stop offset="0.609" stop-color="#00ffff"/><stop offset="0.65" stop-color="#41ffbe"/><stop offset="0.708" stop-color="#62ff9d"/><stop offset="0.766" stop-color="#9fff60"/><stop offset="0.834" stop-color="#d7ff28"/><stop offset="0.907" stop-color="#e6ff19"/><stop offset="1" stop-color="#d6ff29"/></linearGradient>
<linearGradient id="g158" x1="0" y1="0" x2="0" y2="1"><stop offset="0" stop-color="#004cff"/><stop offset="0.5" stop-color="#009cff"/><stop offset="0.582" stop-color="#00d0ff"/><stop offset="0.614" stop-color="#00ffff"/><stop offset="0.65" stop-color="#35ffca"/><stop offset="0.766" stop-color="#aeff51"/><stop offset="0.829" stop-color="#ffff00"/><stop offset="0.834" stop-color="#fff700"/><stop offset="0.907" stop-color="#fff000"/><stop offset="0.97" stop-color="#ffff00"/><stop offset="1" stop-color="#f3ff0c"/></linearGradient>
<linearGradient id="g159" x1="0" y1="0" x2="0" y2="1"><stop offset="0" stop-color="#003bff"/><stop offset="0.5" stop-color="#008fff"/><stop offset="0.582" stop-color="#00d7ff"/><stop offset="0.607" stop-color="#00ffff"/><stop offset="0.65" stop-color="#46ffb9"/><stop offset="0.708" stop-color="#d4ff2b"/><stop offset="0.738" stop-color="#ffff00"/><stop offset="0.766" stop-color="#ffd600"/><stop offset="0.834" stop-color="#ffa200"/><stop offset="0.907" stop-color="#ff9400"/><stop offset="1" stop-color="#ffa500"/></linearGradient>
<linearGradient id="g160" x1="0" y1="0" x2="0" y2="1"><stop offset="0" stop-color="#0048ff"/><stop offset="0.5" stop-color="#009aff"/><stop offset="0.582" stop-color="#00d0ff"/><stop offset="0.613" stop-color="#00ffff"/><stop offset="0.708" stop-color="#94ff6b"/><stop offset="0.766" stop-color="#d4ff2b"/><stop offset="0.815" stop-color="#ffff00"/><stop offset="0.834" stop-color="#ffee00"/><stop offset="0.907" stop-color="#ffde00"/><stop offset="1" stop-color="#ffeb00"/></linearGradient>
<linearGradient id="g161" x1="0" y1="0" x2="0" y2="1"><stop offset="0" stop-color="#0051ff"/><stop offset="0.5" stop-color="#00a6ff"/><stop offset="0.582" stop-color="#00edff"/><stop offset="0.593" stop-color="#00ffff"/><stop offset="0.65" stop-color="#5cffa3"/><stop offset="0.708" stop-color="#8bff74"/><stop offset="0.766" stop-color="#c8ff37"/><stop offset="0.834" stop-color="#f0ff0f"/><stop offset="0.907" stop-color="#f4ff0b"/><stop offset="1" stop-color="#d2ff2d"/></linearGradient>
<linearGradient id="g162" x1="0" y1="0" x2="0" y2="1"><stop offset="0" stop-color="#0043ff"/><stop offset="0.5" stop-color="#0098ff"/><stop offset="0.582" stop-color="#00deff"/><stop offset="0.602" stop-color="#00ffff"/><stop offset="0.65" stop-color="#4effb1"/><stop offset="0.834" stop-color="#fffe00"/><stop offset="0.907" stop-color="#ffed00"/><stop offset="1" stop-color="#fffa00"/></linearGradient>
<linearGradient id="g163" x1="0" y1="0" x2="0" y2="1"><stop offset="0" stop-color="#004aff"/><stop offset="0.5" stop-color="#009bff"/><stop offset="0.582" stop-color="#00d2ff"/><stop offset="0.611" stop-color="#00ffff"/><stop offset="0.65" stop-color="#3dffc2"/><stop offset="0.708" stop-color="#b3ff4c"/><stop offset="0.766" stop-color="#fffe00"/><stop offset="0.834" stop-color="#fff200"/><stop offset="0.907" stop-color="#fff100"/><stop offset="0.97" stop-color="#f9ff06"/><stop offset="1" stop-color="#e8ff17"/></linearGradient>
<linearGradient id="g164" x1="0" y1="0" x2="0" y2="1"><stop offset="0" stop-color="#0050ff"/><stop offset="0.5" stop-color="#00a0ff"/><stop offset="0.582" stop-color="#00d3ff"/><stop offset="0.613" stop-color="#00ffff"/><stop offset="0.65" stop-color="#36ffc9"/><stop offset="0.708" stop-color="#71ff8e"/><stop offset="0.766" stop-color="#a0ff5f"/><stop offset="0.834" stop-color="#fffb00"/><stop offset="0.907" stop-color="#ffef00"/><stop offset="1" stop-color="#faff05"/></linearGradient>
<linearGradient id="g165" x1="0" y1="0" x2="0" y2="1"><stop offset="0" stop-color="#004fff"/><stop offset="0.5" stop-color="#009eff"/><stop offset="0.582" stop-color="#00d0ff"/><stop offset="0.615" stop-color="#00ffff"/><stop offset="0.65" stop-color="#31ffce"/><stop offset="0.708" stop-color="#98ff67"/><stop offset="0.766" stop-color="#dfff20"/><stop offset="0.805" stop-color="#ffff00"/><stop offset="0.834" stop-color="#ffe600"/><stop offset="0.907" stop-color="#ffdb00"/><stop offset="1" stop-color="#ffef00"/></linearGradient>
<linearGradient id="g166" x1="0" y1="0" x2="0" y2="1"><stop offset="0" stop-color="#0053ff"/><stop offset="0.5" stop-color="#00a1ff"/><stop offset="0.582" stop-color="#00d0ff"/><stop offset="0.617" stop-color="#00ffff"/><stop offset="0.65" stop-color="#2cffd3"/><stop offset="0.708" stop-color="#c5ff3a"/><stop offset="0.766" stop-color="#fffb00"/><stop offset="0.834" stop-color="#ffd800"/><stop offset="0.907" stop-color="#ffc800"/><stop offset="1" stop-color="#ffd500"/></linearGradient>
<linearGradient id="g167" x1="0" y1="0" x2="0" y2="1"><stop offset="0" stop-color="#003eff"/><stop offset="0.5" stop-color="#0090ff"/><stop offset="0.582" stop-color="#00c8ff"/><stop offset="0.617" stop-color="#00ffff"/><stop offset="0.65" stop-color="#35ffca"/><stop offset="0.708" stop-color="#51ffae"/><stop offset="0.766" stop-color="#b7ff48"/><stop offset="0.834" stop-color="#f0ff0f"/><stop offset="0.907" stop-color="#faff05"/><stop offset="1" stop-color="#e3ff1c"/></linearGradient>
<linearGradient id="g168" x1="0" y1="0" x2="0" y2="1"><stop offset="0" stop-color="#0047ff"/><stop offset="0.5" stop-color="#0099ff"/><stop offset="0.582" stop-color="#00d1ff"/><stop offset="0.611" stop-color="#00ffff"/><stop offset="0.65" stop-color="#3effc1"/><stop offset="0.834" stop-color="#ddff22"/><stop offset="0.907" stop-color="#e3ff1c"/><stop offset="1" stop-color="#c5ff3a"/></linearGradient>
<linearGradient id="g169" x1="0" y1="0" x2="0" y2="1"><stop offset="0" stop-color="#0047ff"/><stop offset="0.5" stop-color="#0099ff"/><stop offset="0.582" stop-color="#00d1ff"/><stop offset="0.611" stop-color="#00ffff"/><stop offset="0.65" stop-color="#3fffc0"/><stop offset="0.708" stop-color="#bcff43"/><stop offset="0.766" stop-color="#fcff03"/><stop offset="0.834" stop-color="#ffed00"/><stop offset="0.907" stop-color="#ffe900"/><stop offset="0.978" stop-color="#ffff00"/><stop offset="1" stop-color="#f4ff0b"/></linearGradient>
<linearGradient id="g170" x1="0" y1="0" x2="0" y2="1"><stop offset="0" stop-color="#004dff"/><stop offset="0.5" stop-color="#009eff"/><stop offset="0.582" stop-color="#00d4ff"/><stop offset="0.61" stop-color="#00ffff"/><stop offset="0.65" stop-color="#3effc1"/><stop offset="0.708" stop-color="#72ff8d"/><stop offset="0.811" stop-color="#ffff00"/><stop offset="0.834" stop-color="#ffe100"/><stop offset="0.907" stop-color="#ffdf00"/><stop offset="1" stop-color="#fbff04"/></linearGradient>
<linearGradient id="g171" x1="0" y1="0" x2="0" y2="1"><stop offset="0" stop-color="#0050ff"/><stop offset="0.349" stop-color="#008bff"/><stop offset="0.458" stop-color="#00ffff"/><stop offset="0.5" stop-color="#2dffd2"/><stop offset="0.582" stop-color="#9bff64"/><stop offset="0.644" stop-color="#ffff00"/><stop offset="0.65" stop-color="#fff400"/><stop offset="0.766" stop-color="#ffbe00"/><stop offset="0.907" stop-color="#ffa600"/><stop offset="1" stop-color="#ffb900"/></linearGradient>
<linearGradient id="g172" x1="0" y1="0" x2="0" y2="1"><stop offset="0" stop-color="#0038ff"/><stop offset="0.5" stop-color="#0088ff"/><stop offset="0.582" stop-color="#00bbff"/><stop offset="0.629" stop-color="#00ffff"/><stop offset="0.708" stop-color="#65ff9a"/><stop offset="0.766" stop-color="#f8ff07"/><stop offset="0.779" stop-color="#ffff00"/><stop offset="0.834" stop-color="#ffe000"/><stop offset="0.907" stop-color="#ffd900"/><stop offset="1" stop-color="#fff400"/></linearGradient>
<linearGradient id="g173" x1="0" y1="0" x2="0" y2="1"><stop offset="0" stop-color="#005bff"/><stop offset="0.349" stop-color="#0097ff"/><stop offset="0.5" stop-color="#00a8ff"/><stop offset="0.582" stop-color="#00d3ff"/><stop offset="0.618" stop-color="#00ffff"/><stop offset="0.65" stop-color="#28ffd7"/><stop offset="0.708" stop-color="#48ffb7"/><stop offset="0.834" stop-color="#feff01"/><stop offset="0.92" stop-color="#ffff00"/><stop offset="1" stop-color="#e3ff1c"/></linearGradient>
<linearGradient id="g174" x1="0" y1="0" x2="0" y2="1"><stop offset="0" stop-color="#0044ff"/><stop offset="0.5" stop-color="#0099ff"/><stop offset="0.582" stop-color="#00e6ff"/><stop offset="0.598" stop-color="#00ffff"/><stop offset="0.65" stop-color="#55ffaa"/><stop offset="0.766" stop-color="#e0ff1f"/><stop offset="0.822" stop-color="#ffff00"/><stop offset="0.907" stop-color="#ffec00"/><stop offset="1" stop-color="#fdff02"/></linearGradient>
<linearGradient id="g175" x1="0" y1="0" x2="0" y2="1"><stop offset="0" stop-color="#004aff"/><stop offset="0.349" stop-color="#0085ff"/><stop offset="0.5" stop-color="#0094ff"/><stop offset="0.582" stop-color="#00b9ff"/><stop offset="0.65" stop-color="#01fffe"/><stop offset="0.708" stop-color="#39ffc6"/><stop offset="0.815" stop-color="#ffff00"/><stop offset="0.834" stop-color="#ffda00"/><stop offset="0.907" stop-color="#ffd600"/><stop offset="1" stop-color="#fff600"/></linearGradient>
<linearGradient id="g176" x1="0" y1="0" x2="0" y2="1"><stop offset="0" stop-color="#0038ff"/><stop offset="0.5" stop-color="#0087ff"/><stop offset="0.582" stop-color="#00b7ff"/><stop offset="0.634" stop-color="#00ffff"/><stop offset="0.708" stop-color="#72ff8d"/><stop offset="0.766" stop-color="#daff25"/><stop offset="0.834" stop-color="#fffc00"/><stop offset="0.907" stop-color="#fff500"/><stop offset="0.97" stop-color="#f9ff06"/><stop offset="1" stop-color="#ebff14"/></linearGradient>
<linearGradient id="g177" x1="0" y1="0" x2="0" y2="1"><stop offset="0" stop-color="#003fff"/><stop offset="0.5" stop-color="#008eff"/><stop offset="0.582" stop-color="#00bfff"/><stop offset="0.628" stop-color="#00ffff"/><stop offset="0.766" stop-color="#daff25"/><stop offset="0.834" stop-color="#f2ff0d"/><stop offset="0.907" stop-color="#f8ff07"/><stop offset="1" stop-color="#daff25"/></linearGradient>
<linearGradient id="g178" x1="0" y1="0" x2="0" y2="1"><stop offset="0" stop-color="#0041ff"/><stop offset="0.5" stop-color="#0090ff"/><stop offset="0.582" stop-color="#00bfff"/><stop offset="0.629" stop-color="#00ffff"/><stop offset="0.65" stop-color="#1cffe3"/><stop offset="0.708" stop-color="#3effc1"/><stop offset="0.766" stop-color="#a4ff5b"/><stop offset="0.834" stop-color="#fffd00"/><stop offset="0.907" stop-color="#ffec00"/><stop offset="1" stop-color="#fff700"/></linearGradient>
<linearGradient id="g179" x1="0" y1="0" x2="0" y2="1"><stop offset="0" stop-color="#0023ff"/><stop offset="0.5" stop-color="#0075ff"/><stop offset="0.582" stop-color="#00aeff"/><stop offset="0.632" stop-color="#00ffff"/><stop offset="0.65" stop-color="#1dffe2"/><stop offset="0.708" stop-color="#a7ff58"/><stop offset="0.786" stop-color="#ffff00"/><stop offset="0.834" stop-color="#ffbc00"/><stop offset="0.907" stop-color="#ffac00"/><stop offset="1" stop-color="#ffb900"/></linearGradient>
<linearGradient id="g180" x1="0" y1="0" x2="0" y2="1"><stop offset="0" stop-color="#000fff"/><stop offset="0.5" stop-color="#0062ff"/><stop offset="0.582" stop-color="#00a0ff"/><stop offset="0.641" stop-color="#00ffff"/><stop offset="0.708" stop-color="#51ffae"/><stop offset="0.766" stop-color="#daff25"/><stop offset="0.795" stop-color="#ffff00"/><stop offset="0.834" stop-color="#ffcc00"/><stop offset="0.907" stop-color="#ffc400"/><stop offset="1" stop-color="#ffdf00"/></linearGradient>
<linearGradient id="g181" x1="0" y1="0" x2="0" y2="1"><stop offset="0" stop-color="#0006ff"/><stop offset="0.5" stop-color="#005bff"/><stop offset="0.582" stop-color="#00a8ff"/><stop offset="0.636" stop-color="#00ffff"/><stop offset="0.708" stop-color="#5fffa0"/><stop offset="0.766" stop-color="#c2ff3d"/><stop offset="0.834" stop-color="#e7ff18"/><stop offset="0.907" stop-color="#e7ff18"/><stop offset="1" stop-color="#c0ff3f"/></linearGradient>
<linearGradient id="g182" x1="0" y1="0" x2="0" y2="1"><stop offset="0" stop-color="#0000f8"/><stop offset="0.15" stop-color="#0012ff"/><stop offset="0.5" stop-color="#004fff"/><stop offset="0.582" stop-color="#00a2ff"/><stop offset="0.639" stop-color="#00ffff"/><stop offset="0.65" stop-color="#12ffed"/><stop offset="0.708" stop-color="#31ffce"/><stop offset="0.766" stop-color="#a2ff5d"/><stop offset="0.834" stop-color="#e0ff1f"/><stop offset="0.907" stop-color="#eaff15"/><stop offset="1" stop-color="#d3ff2c"/></linearGradient>
<linearGradient id="g183" x1="0" y1="0" x2="0" y2="1"><stop offset="0" stop-color="#0000ee"/><stop offset="0.103" stop-color="#0000ff"/><stop offset="0.5" stop-color="#0047ff"/><stop offset="0.582" stop-color="#00afff"/><stop offset="0.631" stop-color="#00ffff"/><stop offset="0.65" stop-color="#1effe1"/><stop offset="0.708" stop-color="#52ffad"/><stop offset="0.766" stop-color="#baff45"/><stop offset="0.834" stop-color="#f2ff0d"/><stop offset="0.907" stop-color="#fbff04"/><stop offset="1" stop-color="#e2ff1d"/></linearGradient>
<linearGradient id="g184" x1="0" y1="0" x2="0" y2="1"><stop offset="0" stop-color="#0000f0"/><stop offset="0.089" stop-color="#0000ff"/><stop offset="0.5" stop-color="#0044ff"/><stop offset="0.582" stop-color="#0081ff"/><stop offset="0.65" stop-color="#00efff"/><stop offset="0.667" stop-color="#00ffff"/><stop offset="0.766" stop-color="#68ff97"/><stop offset="0.834" stop-color="#e0ff1f"/><stop offset="0.907" stop-color="#eaff15"/><stop offset="1" stop-color="#d4ff2b"/></linearGradient>
<linearGradient id="g185" x1="0" y1="0" x2="0" y2="1"><stop offset="0" stop-color="#0000e5"/><stop offset="0.154" stop-color="#0000ff"/><stop offset="0.5" stop-color="#003cff"/><stop offset="0.582" stop-color="#0092ff"/><stop offset="0.65" stop-color="#02fffd"/><stop offset="0.708" stop-color="#6bff94"/><stop offset="0.828" stop-color="#ffff00"/><stop offset="0.834" stop-color="#fff800"/><stop offset="0.907" stop-color="#ffec00"/><stop offset="1" stop-color="#fdff02"/></linearGradient>
<linearGradient id="g186" x1="0" y1="0" x2="0" y2="1"><stop offset="0" stop-color="#0000dc"/><stop offset="0.207" stop-color="#0000ff"/><stop offset="0.5" stop-color="#0036ff"/><stop offset="0.582" stop-color="#00a1ff"/><stop offset="0.64" stop-color="#00ffff"/><stop offset="0.65" stop-color="#11ffee"/><stop offset="0.708" stop-color="#c6ff39"/><stop offset="0.731" stop-color="#ffff00"/><stop offset="0.766" stop-color="#ffa900"/><stop offset="0.907" stop-color="#ff9b00"/><stop offset="1" stop-color="#ffb700"/></linearGradient>
<linearGradient id="g187" x1="0" y1="0" x2="0" y2="1"><stop offset="0" stop-color="#0000f0"/><stop offset="0.09" stop-color="#0000ff"/><stop offset="0.5" stop-color="#0045ff"/><stop offset="0.582" stop-color="#0090ff"/><stop offset="0.651" stop-color="#00ffff"/><stop offset="0.708" stop-color="#55ffaa"/><stop offset="0.766" stop-color="#97ff68"/><stop offset="0.834" stop-color="#fffa00"/><stop offset="0.907" stop-color="#ffed00"/><stop offset="1" stop-color="#ffff00"/></linearGradient>
<linearGradient id="g188" x1="0" y1="0" x2="0" y2="1"><stop offset="0" stop-color="#0000d8"/><stop offset="0.23" stop-color="#0000ff"/><stop offset="0.5" stop-color="#0030ff"/><stop offset="0.582" stop-color="#008fff"/><stop offset="0.651" stop-color="#00ffff"/><stop offset="0.708" stop-color="#45ffba"/><stop offset="0.766" stop-color="#cdff32"/><stop offset="0.826" stop-color="#ffff00"/><stop offset="0.907" stop-color="#ffeb00"/><stop offset="1" stop-color="#fffd00"/></linearGradient>
<linearGradient id="g189" x1="0" y1="0" x2="0" y2="1"><stop offset="0" stop-color="#0000e6"/><stop offset="0.15" stop-color="#0000ff"/><stop offset="0.5" stop-color="#0040ff"/><stop offset="0.582" stop-color="#00acff"/><stop offset="0.633" stop-color="#00ffff"/><stop offset="0.65" stop-color="#1cffe3"/><stop offset="0.708" stop-color="#4dffb2"/><stop offset="0.766" stop-color="#c3ff3c"/><stop offset="0.834" stop-color="#e3ff1c"/><stop offset="0.907" stop-color="#edff12"/><stop offset="1" stop-color="#d5ff2a"/></linearGradient>
<linearGradient id="g190" x1="0" y1="0" x2="0" y2="1"><stop offset="0" stop-color="#0000f8"/><stop offset="0.043" stop-color="#0000ff"/><stop offset="0.5" stop-color="#004dff"/><stop offset="0.582" stop-color="#0096ff"/><stop offset="0.647" stop-color="#00ffff"/><stop offset="0.708" stop-color="#29ffd6"/><stop offset="0.766" stop-color="#a4ff5b"/><stop offset="0.834" stop-color="#f2ff0d"/><stop offset="0.907" stop-color="#f8ff07"/><stop offset="1" stop-color="#dbff24"/></linearGradient>
<linearGradient id="g191" x1="0" y1="0" x2="0" y2="1"><stop offset="0" stop-color="#0037ff"/><stop offset="0.5" stop-color="#0087ff"/><stop offset="0.582" stop-color="#00b9ff"/><stop offset="0.63" stop-color="#00ffff"/><stop offset="0.65" stop-color="#1cffe3"/><stop offset="0.708" stop-color="#55ffaa"/><stop offset="0.766" stop-color="#c0ff3f"/><stop offset="0.834" stop-color="#eeff11"/><stop offset="0.907" stop-color="#f4ff0b"/><stop offset="1" stop-color="#d6ff29"/></linearGradient>
<linearGradient id="g192" x1="0" y1="0" x2="0" y2="1"><stop offset="0" stop-color="#0042ff"/><stop offset="0.5" stop-color="#0090ff"/><stop offset="0.582" stop-color="#00c0ff"/><stop offset="0.628" stop-color="#00ffff"/><stop offset="0.65" stop-color="#1effe1"/><stop offset="0.708" stop-color="#3cffc3"/><stop offset="0.766" stop-color="#83ff7c"/><stop offset="0.834" stop-color="#e8ff17"/><stop offset="0.907" stop-color="#f4ff0b"/><stop offset="1" stop-color="#e1ff1e"/></linearGradient>
<linearGradient id="g193" x1="0" y1="0" x2="0" y2="1"><stop offset="0" stop-color="#0045ff"/><stop offset="0.349" stop-color="#0081ff"/><stop offset="0.5" stop-color="#0093ff"/><stop offset="0.582" stop-color="#00bfff"/><stop offset="0.632" stop-color="#00ffff"/><stop offset="0.65" stop-color="#16ffe9"/><stop offset="0.708" stop-color="#47ffb8"/><stop offset="0.766" stop-color="#8aff75"/><stop offset="0.834" stop-color="#f4ff0b"/><stop offset="0.907" stop-color="#f7ff08"/><stop offset="1" stop-color="#d4ff2b"/></linearGradient>
<linearGradient id="g194" x1="0" y1="0" x2="0" y2="1"><stop offset="0" stop-color="#0041ff"/><stop offset="0.5" stop-color="#008fff"/><stop offset="0.582" stop-color="#00beff"/><stop offset="0.631" stop-color="#00ffff"/><stop offset="0.65" stop-color="#1affe5"/><stop offset="0.706" stop-color="#ffff00"/><stop offset="0.708" stop-color="#fff600"/><stop offset="0.766" stop-color="#ffc200"/><stop offset="0.907" stop-color="#ffab00"/><stop offset="1" stop-color="#ffc600"/></linearGradient>
<linearGradient id="g195" x1="0" y1="0" x2="0" y2="1"><stop offset="0" stop-color="#002dff"/><stop offset="0.5" stop-color="#007cff"/><stop offset="0.582" stop-color="#00aeff"/><stop offset="0.639" stop-color="#00ffff"/><stop offset="0.65" stop-color="#0ffff0"/><stop offset="0.708" stop-color="#3bffc4"/><stop offset="0.766" stop-color="#8cff73"/><stop offset="0.834" stop-color="#daff25"/><stop offset="0.907" stop-color="#deff21"/><stop offset="1" stop-color="#beff41"/></linearGradient>
<linearGradient id="g196" x1="0" y1="0" x2="0" y2="1"><stop offset="0" stop-color="#0020ff"/><stop offset="0.5" stop-color="#006eff"/><stop offset="0.582" stop-color="#009dff"/><stop offset="0.65" stop-color="#00f8ff"/><stop offset="0.664" stop-color="#00ffff"/><stop offset="0.708" stop-color="#17ffe8"/><stop offset="0.766" stop-color="#5fffa0"/><stop offset="0.834" stop-color="#c5ff3a"/><stop offset="0.907" stop-color="#c6ff39"/><stop offset="1" stop-color="#a1ff5e"/></linearGradient>
<linearGradient id="g197" x1="0" y1="0" x2="0" y2="1"><stop offset="0" stop-color="#001bff"/><stop offset="0.5" stop-color="#006dff"/><stop offset="0.582" stop-color="#00a4ff"/><stop offset="0.64" stop-color="#00ffff"/><stop offset="0.65" stop-color="#10ffef"/><stop offset="0.708" stop-color="#3effc1"/><stop offset="0.766" stop-color="#9dff62"/><stop offset="0.834" stop-color="#d6ff29"/><stop offset="0.907" stop-color="#e2ff1d"/><stop offset="1" stop-color="#ceff31"/></linearGradient>
<linearGradient id="g198" x1="0" y1="0" x2="0" y2="1"><stop offset="0" stop-color="#0000fd"/><stop offset="0.5" stop-color="#0054ff"/><stop offset="0.582" stop-color="#00a9ff"/><stop offset="0.635" stop-color="#00ffff"/><stop offset="0.65" stop-color="#19ffe6"/><stop offset="0.708" stop-color="#37ffc8"/><stop offset="0.834" stop-color="#e0ff1f"/><stop offset="0.907" stop-color="#e8ff17"/><stop offset="1" stop-color="#cfff30"/></linearGradient>
<linearGradient id="g199" x1="0" y1="0" x2="0" y2="1"><stop offset="0" stop-color="#0000e8"/><stop offset="0.15" stop-color="#0003ff"/><stop offset="0.5" stop-color="#0040ff"/><stop offset="0.582" stop-color="#0098ff"/><stop offset="0.645" stop-color="#00ffff"/><stop offset="0.708" stop-color="#2affd5"/><stop offset="0.766" stop-color="#8bff74"/><stop offset="0.834" stop-color="#eeff11"/><stop offset="0.907" stop-color="#f6ff09"/><stop offset="1" stop-color="#ddff22"/></linearGradient>
<linearGradient id="g200" x1="0" y1="0" x2="0" y2="1"><stop offset="0" stop-color="#0000c6"/><stop offset="0.349" stop-color="#0003ff"/><stop offset="0.5" stop-color="#0031ff"/><stop offset="0.582" stop-color="#00a0ff"/><stop offset="0.641" stop-color="#00ffff"/><stop offset="0.65" stop-color="#0ffff0"/><stop offset="0.708" stop-color="#37ffc8"/><stop offset="0.766" stop-color="#a3ff5c"/><stop offset="0.834" stop-color="#efff10"/><stop offset="0.907" stop-color="#fcff03"/><stop offset="1" stop-color="#eaff15"/></linearGradient>
<linearGradient id="g201" x1="0" y1="0" x2="0" y2="1"><stop offset="0" stop-color="#0000d4"/><stop offset="0.253" stop-color="#0000ff"/><stop offset="0.349" stop-color="#0011ff"/><stop offset="0.5" stop-color="#0040ff"/><stop offset="0.582" stop-color="#00afff"/><stop offset="0.632" stop-color="#00ffff"/><stop offset="0.708" stop-color="#73ff8c"/><stop offset="0.766" stop-color="#beff41"/><stop offset="0.834" stop-color="#f8ff07"/><stop offset="0.907" stop-color="#f9ff06"/><stop offset="1" stop-color="#d2ff2d"/></linearGradient>
<linearGradient id="g202" x1="0" y1="0" x2="0" y2="1"><stop offset="0" stop-color="#0000d1"/><stop offset="0.272" stop-color="#0000ff"/><stop offset="0.5" stop-color="#002aff"/><stop offset="0.582" stop-color="#0092ff"/><stop offset="0.65" stop-color="#02fffd"/><stop offset="0.708" stop-color="#4effb1"/><stop offset="0.766" stop-color="#d3ff2c"/><stop offset="0.834" stop-color="#f0ff0f"/><stop offset="0.907" stop-color="#f8ff07"/><stop offset="1" stop-color="#deff21"/></linearGradient>
<linearGradient id="g203" x1="0" y1="0" x2="0" y2="1"><stop offset="0" stop-color="#0000dd"/><stop offset="0.2" stop-color="#0000ff"/><stop offset="0.349" stop-color="#001aff"/><stop offset="0.5" stop-color="#003eff"/><stop offset="0.582" stop-color="#00adff"/><stop offset="0.633" stop-color="#00ffff"/><stop offset="0.65" stop-color="#1cffe3"/><stop offset="0.708" stop-color="#45ffba"/><stop offset="0.766" stop-color="#a0ff5f"/><stop offset="0.834" stop-color="#dfff20"/><stop offset="0.907" stop-color="#e9ff16"/><stop offset="1" stop-color="#d2ff2d"/></linearGradient>
<linearGradient id="g204" x1="0" y1="0" x2="0" y2="1"><stop offset="0" stop-color="#0000d8"/><stop offset="0.229" stop-color="#0000ff"/><stop offset="0.349" stop-color="#0015ff"/><stop offset="0.5" stop-color="#0053ff"/><stop offset="0.582" stop-color="#00c2ff"/><stop offset="0.62" stop-color="#00ffff"/><stop offset="0.65" stop-color="#31ffce"/><stop offset="0.708" stop-color="#4cffb3"/><stop offset="0.766" stop-color="#98ff67"/><stop offset="0.834" stop-color="#e1ff1e"/><stop offset="0.907" stop-color="#eeff11"/><stop offset="1" stop-color="#dbff24"/></linearGradient>
<linearGradient id="g205" x1="0" y1="0" x2="0" y2="1"><stop offset="0" stop-color="#0000f2"/><stop offset="0.077" stop-color="#0000ff"/><stop offset="0.5" stop-color="#0048ff"/><stop offset="0.582" stop-color="#0098ff"/><stop offset="0.646" stop-color="#00ffff"/><stop offset="0.708" stop-color="#24ffdb"/><stop offset="0.766" stop-color="#67ff98"/><stop offset="0.834" stop-color="#c7ff38"/><stop offset="0.907" stop-color="#c9ff36"/><stop offset="1" stop-color="#a7ff58"/></linearGradient>
<linearGradient id="g206" x1="0" y1="0" x2="0" y2="1"><stop offset="0" stop-color="#0013ff"/><stop offset="0.5" stop-color="#0066ff"/><stop offset="0.582" stop-color="#00a6ff"/><stop offset="0.637" stop-color="#00ffff"/><stop offset="0.708" stop-color="#8bff74"/><stop offset="0.834" stop-color="#fffb00"/><stop offset="0.907" stop-color="#ffef00"/><stop offset="1" stop-color="#fcff03"/></linearGradient>
<linearGradient id="g207" x1="0" y1="0" x2="0" y2="1"><stop offset="0" stop-color="#0024ff"/><stop offset="0.5" stop-color="#0076ff"/><stop offset="0.582" stop-color="#00afff"/><stop offset="0.632" stop-color="#00ffff"/><stop offset="0.65" stop-color="#1dffe2"/><stop offset="0.756" stop-color="#ffff00"/><stop offset="0.766" stop-color="#ffeb00"/><stop offset="0.834" stop-color="#ffd500"/><stop offset="0.907" stop-color="#ffcb00"/><stop offset="1" stop-color="#ffe300"/></linearGradient>
<linearGradient id="g208" x1="0" y1="0" x2="0" y2="1"><stop offset="0" stop-color="#002eff"/><stop offset="0.5" stop-color="#0084ff"/><stop offset="0.582" stop-color="#00d6ff"/><stop offset="0.607" stop-color="#00ffff"/><stop offset="0.757" stop-color="#ffff00"/><stop offset="0.766" stop-color="#fff000"/><stop offset="0.834" stop-color="#ffb600"/><stop offset="0.907" stop-color="#ffa600"/><stop offset="1" stop-color="#ffb400"/></linearGradient>
<linearGradient id="g209" x1="0" y1="0" x2="0" y2="1"><stop offset="0" stop-color="#0023ff"/><stop offset="0.5" stop-color="#0079ff"/><stop offset="0.582" stop-color="#00cdff"/><stop offset="0.613" stop-color="#00ffff"/><stop offset="0.65" stop-color="#3dffc2"/><stop offset="0.708" stop-color="#acff53"/><stop offset="0.767" stop-color="#ffff00"/><stop offset="0.834" stop-color="#ff9300"/><stop offset="0.907" stop-color="#ff8400"/><stop offset="1" stop-color="#ff9400"/></linearGradient>
<linearGradient id="g210" x1="0" y1="0" x2="0" y2="1"><stop offset="0" stop-color="#0037ff"/><stop offset="0.5" stop-color="#008cff"/><stop offset="0.582" stop-color="#00ddff"/><stop offset="0.603" stop-color="#00ffff"/><stop offset="0.65" stop-color="#4cffb3"/><stop offset="0.708" stop-color="#d4ff2b"/><stop offset="0.74" stop-color="#ffff00"/><stop offset="0.766" stop-color="#ffdb00"/><stop offset="0.834" stop-color="#ff9100"/><stop offset="0.907" stop-color="#ff8500"/><stop offset="1" stop-color="#ff9a00"/></linearGradient>
<linearGradient id="g211" x1="0" y1="0" x2="0" y2="1"><stop offset="0" stop-color="#0037ff"/><stop offset="0.5" stop-color="#008aff"/><stop offset="0.582" stop-color="#00c3ff"/><stop offset="0.619" stop-color="#00ffff"/><stop offset="0.65" stop-color="#33ffcc"/><stop offset="0.702" stop-color="#ffff00"/><stop offset="0.708" stop-color="#ffe500"/><stop offset="0.766" stop-color="#ffad00"/><stop offset="0.834" stop-color="#ffac00"/><stop offset="0.907" stop-color="#ff9800"/><stop offset="1" stop-color="#ff9f00"/></linearGradient>
<linearGradient id="g212" x1="0" y1="0" x2="0" y2="1"><stop offset="0" stop-color="#0055ff"/><stop offset="0.5" stop-color="#00a6ff"/><stop offset="0.582" stop-color="#00daff"/><stop offset="0.607" stop-color="#00ffff"/><stop offset="0.65" stop-color="#40ffbf"/><stop offset="0.708" stop-color="#82ff7d"/><stop offset="0.802" stop-color="#ffff00"/><stop offset="0.834" stop-color="#ffd800"/><stop offset="0.907" stop-color="#ffcf00"/><stop offset="1" stop-color="#ffe900"/></linearGradient>
<linearGradient id="g213" x1="0" y1="0" x2="0" y2="1"><stop offset="0" stop-color="#0030ff"/><stop offset="0.5" stop-color="#0085ff"/><stop offset="0.582" stop-color="#00d3ff"/><stop offset="0.609" stop-color="#00ffff"/><stop offset="0.65" stop-color="#42ffbd"/><stop offset="0.751" stop-color="#ffff00"/><stop offset="0.766" stop-color="#ffe500"/><stop offset="0.834" stop-color="#ffca00"/><stop offset="0.907" stop-color="#ffc400"/><stop offset="1" stop-color="#ffe100"/></linearGradient>
<linearGradient id="g214" x1="0" y1="0" x2="0" y2="1"><stop offset="0" stop-color="#004fff"/><stop offset="0.5" stop-color="#009dff"/><stop offset="0.582" stop-color="#00cbff"/><stop offset="0.621" stop-color="#00ffff"/><stop offset="0.65" stop-color="#25ffda"/><stop offset="0.708" stop-color="#a8ff57"/><stop offset="0.766" stop-color="#dcff23"/><stop offset="0.794" stop-color="#ffff00"/><stop offset="0.834" stop-color="#ffcd00"/><stop offset="0.907" stop-color="#ffc600"/><stop offset="1" stop-color="#ffe300"/></linearGradient>
<linearGradient id="g215" x1="0" y1="0" x2="0" y2="1"><stop offset="0" stop-color="#0050ff"/><stop offset="0.5" stop-color="#00a5ff"/><stop offset="0.582" stop-color="#00f0ff"/><stop offset="0.591" stop-color="#00ffff"/><stop offset="0.708" stop-color="#b5ff4a"/><stop offset="0.766" stop-color="#fffb00"/><stop offset="0.834" stop-color="#ffd400"/><stop offset="0.907" stop-color="#ffd100"/><stop offset="1" stop-color="#fff200"/></linearGradient>
<linearGradient id="g216" x1="0" y1="0" x2="0" y2="1"><stop offset="0" stop-color="#0074ff"/><stop offset="0.5" stop-color="#00c3ff"/><stop offset="0.589" stop-color="#00ffff"/><stop offset="0.65" stop-color="#58ffa7"/><stop offset="0.708" stop-color="#c3ff3c"/><stop offset="0.753" stop-color="#ffff00"/><stop offset="0.766" stop-color="#ffed00"/><stop offset="0.834" stop-color="#ffc000"/><stop offset="0.907" stop-color="#ffb700"/><stop offset="1" stop-color="#ffd100"/></linearGradient>
<linearGradient id="g217" x1="0" y1="0" x2="0" y2="1"><stop offset="0" stop-color="#0060ff"/><stop offset="0.349" stop-color="#009cff"/><stop offset="0.5" stop-color="#00adff"/><stop offset="0.582" stop-color="#00d8ff"/><stop offset="0.614" stop-color="#00ffff"/><stop offset="0.766" stop-color="#baff45"/><stop offset="0.808" stop-color="#ffff00"/><stop offset="0.834" stop-color="#ffd500"/><stop offset="0.907" stop-color="#ffd600"/><stop offset="1" stop-color="#feff01"/></linearGradient>
<linearGradient id="g218" x1="0" y1="0" x2="0" y2="1"><stop offset="0" stop-color="#0060ff"/><stop offset="0.5" stop-color="#00b2ff"/><stop offset="0.582" stop-color="#00ebff"/><stop offset="0.595" stop-color="#00ffff"/><stop offset="0.65" stop-color="#59ffa6"/><stop offset="0.708" stop-color="#ccff33"/><stop offset="0.742" stop-color="#ffff00"/><stop offset="0.766" stop-color="#ffdb00"/><stop offset="0.834" stop-color="#ffa500"/><stop offset="0.907" stop-color="#ff9d00"/><stop offset="1" stop-color="#ffb700"/></linearGradient>
<linearGradient id="g219" x1="0" y1="0" x2="0" y2="1"><stop offset="0" stop-color="#0085ff"/><stop offset="0.5" stop-color="#00d9ff"/><stop offset="0.545" stop-color="#00ffff"/><stop offset="0.582" stop-color="#1effe1"/><stop offset="0.65" stop-color="#8dff72"/><stop offset="0.687" stop-color="#ffff00"/><stop offset="0.708" stop-color="#ffbd00"/><stop offset="0.766" stop-color="#ff9200"/><stop offset="0.907" stop-color="#ff8600"/><stop offset="1" stop-color="#ff9c00"/></linearGradient>
<linearGradient id="g220" x1="0" y1="0" x2="0" y2="1"><stop offset="0" stop-color="#0060ff"/><stop offset="0.5" stop-color="#00b1ff"/><stop offset="0.582" stop-color="#00e8ff"/><stop offset="0.596" stop-color="#00ffff"/><stop offset="0.65" stop-color="#54ffab"/><stop offset="0.708" stop-color="#ceff31"/><stop offset="0.738" stop-color="#ffff00"/><stop offset="0.766" stop-color="#ffd000"/><stop offset="0.834" stop-color="#ffa900"/><stop offset="0.907" stop-color="#ff9b00"/><stop offset="1" stop-color="#ffac00"/></linearGradient>
<linearGradient id="g221" x1="0" y1="0" x2="0" y2="1"><stop offset="0" stop-color="#0071ff"/><stop offset="0.5" stop-color="#00c0ff"/><stop offset="0.582" stop-color="#00f2ff"/><stop offset="0.591" stop-color="#00ffff"/><stop offset="0.65" stop-color="#53ffac"/><stop offset="0.708" stop-color="#f1ff0e"/><stop offset="0.725" stop-color="#ffff00"/><stop offset="0.766" stop-color="#ffdc00"/><stop offset="0.834" stop-color="#ffb500"/><stop offset="0.907" stop-color="#ffae00"/><stop offset="1" stop-color="#ffca00"/></linearGradient>
<linearGradient id="g222" x1="0" y1="0" x2="0" y2="1"><stop offset="0" stop-color="#0078ff"/><stop offset="0.349" stop-color="#00b4ff"/><stop offset="0.5" stop-color="#00c3ff"/><stop offset="0.582" stop-color="#00e9ff"/><stop offset="0.603" stop-color="#00ffff"/><stop offset="0.65" stop-color="#32ffcd"/><stop offset="0.708" stop-color="#7cff83"/><stop offset="0.766" stop-color="#f0ff0f"/><stop offset="0.78" stop-color="#ffff00"/><stop offset="0.834" stop-color="#ffc300"/><stop offset="0.907" stop-color="#ffb300"/><stop offset="1" stop-color="#ffc100"/></linearGradient>
<linearGradient id="g223" x1="0" y1="0" x2="0" y2="1"><stop offset="0" stop-color="#0070ff"/><stop offset="0.5" stop-color="#00beff"/><stop offset="0.582" stop-color="#00edff"/><stop offset="0.595" stop-color="#00ffff"/><stop offset="0.65" stop-color="#49ffb6"/><stop offset="0.708" stop-color="#82ff7d"/><stop offset="0.766" stop-color="#acff53"/><stop offset="0.829" stop-color="#ffff00"/><stop offset="0.834" stop-color="#fff800"/><stop offset="0.907" stop-color="#fff300"/><stop offset="0.97" stop-color="#faff05"/><stop offset="1" stop-color="#ecff13"/></linearGradient>
<linearGradient id="g224" x1="0" y1="0" x2="0" y2="1"><stop offset="0" stop-color="#0066ff"/><stop offset="0.5" stop-color="#00b9ff"/><stop offset="0.587" stop-color="#00ffff"/><stop offset="0.65" stop-color="#66ff99"/><stop offset="0.708" stop-color="#aaff55"/><stop offset="0.766" stop-color="#d2ff2d"/><stop offset="0.816" stop-color="#ffff00"/><stop offset="0.834" stop-color="#ffee00"/><stop offset="0.907" stop-color="#ffe600"/><stop offset="1" stop-color="#fdff02"/></linearGradient>
<linearGradient id="g225" x1="0" y1="0" x2="0" y2="1"><stop offset="0" stop-color="#0063ff"/><stop offset="0.5" stop-color="#00b2ff"/><stop offset="0.582" stop-color="#00e3ff"/><stop offset="0.602" stop-color="#00ffff"/><stop offset="0.65" stop-color="#43ffbc"/><stop offset="0.708" stop-color="#b5ff4a"/><stop offset="0.766" stop-color="#fffa00"/><stop offset="0.834" stop-color="#ffe300"/><stop offset="0.907" stop-color="#ffe400"/><stop offset="0.975" stop-color="#ffff00"/><stop offset="1" stop-color="#f0ff0f"/></linearGradient>
<linearGradient id="g226" x1="0" y1="0" x2="0" y2="1"><stop offset="0" stop-color="#006fff"/><stop offset="0.349" stop-color="#00abff"/><stop offset="0.5" stop-color="#00bcff"/><stop offset="0.582" stop-color="#00e7ff"/><stop offset="0.602" stop-color="#00ffff"/><stop offset="0.65" stop-color="#3bffc4"/><stop offset="0.708" stop-color="#6eff91"/><stop offset="0.766" stop-color="#e0ff1f"/><stop offset="0.806" stop-color="#ffff00"/><stop offset="0.834" stop-color="#ffea00"/><stop offset="0.907" stop-color="#ffe500"/><stop offset="0.987" stop-color="#ffff00"/><stop offset="1" stop-color="#f9ff06"/></linearGradient>
<linearGradient id="g227" x1="0" y1="0" x2="0" y2="1"><stop offset="0" stop-color="#006aff"/><stop offset="0.349" stop-color="#00a6ff"/><stop offset="0.5" stop-color="#00b7ff"/><stop offset="0.582" stop-color="#00e1ff"/><stop offset="0.606" stop-color="#00ffff"/><stop offset="0.65" stop-color="#35ffca"/><stop offset="0.708" stop-color="#a2ff5d"/><stop offset="0.766" stop-color="#eaff15"/><stop offset="0.795" stop-color="#ffff00"/><stop offset="0.834" stop-color="#ffe200"/><stop offset="0.907" stop-color="#ffde00"/><stop offset="1" stop-color="#fffe00"/></linearGradient>
<linearGradient id="g228" x1="0" y1="0" x2="0" y2="1"><stop offset="0" stop-color="#006bff"/><stop offset="0.349" stop-color="#00a6ff"/><stop offset="0.5" stop-color="#00b8ff"/><stop offset="0.582" stop-color="#00e3ff"/><stop offset="0.605" stop-color="#00ffff"/><stop offset="0.65" stop-color="#37ffc8"/><stop offset="0.834" stop-color="#eeff11"/><stop offset="0.907" stop-color="#feff01"/><stop offset="1" stop-color="#f1ff0e"/></linearGradient>
<linearGradient id="g229" x1="0" y1="0" x2="0" y2="1"><stop offset="0" stop-color="#0074ff"/><stop offset="0.5" stop-color="#00c3ff"/><stop offset="0.582" stop-color="#00f3ff"/><stop offset="0.59" stop-color="#00ffff"/><stop offset="0.65" stop-color="#52ffad"/><stop offset="0.708" stop-color="#7bff84"/><stop offset="0.766" stop-color="#d8ff27"/><stop offset="0.834" stop-color="#fffc00"/><stop offset="0.907" stop-color="#fff000"/><stop offset="0.981" stop-color="#ffff00"/><stop offset="1" stop-color="#f9ff06"/></linearGradient>
<linearGradient id="g230" x1="0" y1="0" x2="0" y2="1"><stop offset="0" stop-color="#006aff"/><stop offset="0.5" stop-color="#00bdff"/><stop offset="0.585" stop-color="#00ffff"/><stop offset="0.65" stop-color="#6aff95"/><stop offset="0.708" stop-color="#ddff22"/><stop offset="0.766" stop-color="#edff12"/><stop offset="0.782" stop-color="#ffff00"/><stop offset="0.834" stop-color="#ffc300"/><stop offset="0.907" stop-color="#ffc100"/><stop offset="1" stop-color="#ffe300"/></linearGradient>
<linearGradient id="g231" x1="0" y1="0" x2="0" y2="1"><stop offset="0" stop-color="#005eff"/><stop offset="0.5" stop-color="#00afff"/><stop offset="0.582" stop-color="#00e7ff"/><stop offset="0.597" stop-color="#00ffff"/><stop offset="0.65" stop-color="#54ffab"/><stop offset="0.708" stop-color="#beff41"/><stop offset="0.766" stop-color="#ffff00"/><stop offset="0.834" stop-color="#ffb300"/><stop offset="0.907" stop-color="#ffa700"/><stop offset="1" stop-color="#ffbc00"/></linearGradient>
<linearGradient id="g232" x1="0" y1="0" x2="0" y2="1"><stop offset="0" stop-color="#006aff"/><stop offset="0.5" stop-color="#00baff"/><stop offset="0.582" stop-color="#00edff"/><stop offset="0.594" stop-color="#00ffff"/><stop offset="0.65" stop-color="#51ffae"/><stop offset="0.755" stop-color="#ffff00"/><stop offset="0.766" stop-color="#ffec00"/><stop offset="0.834" stop-color="#ffc100"/><stop offset="0.907" stop-color="#ffb600"/><stop offset="1" stop-color="#ffcb00"/></linearGradient>
<linearGradient id="g233" x1="0" y1="0" x2="0" y2="1"><stop offset="0" stop-color="#0062ff"/><stop offset="0.5" stop-color="#00b7ff"/><stop offset="0.582" stop-color="#05fffa"/><stop offset="0.65" stop-color="#73ff8c"/><stop offset="0.708" stop-color="#a2ff5d"/><stop offset="0.766" stop-color="#e1ff1e"/><stop offset="0.834" stop-color="#fffb00"/><stop offset="0.907" stop-color="#fff400"/><stop offset="0.97" stop-color="#fbff04"/><stop offset="1" stop-color="#efff10"/></linearGradient>
<linearGradient id="g234" x1="0" y1="0" x2="0" y2="1"><stop offset="0" stop-color="#0073ff"/><stop offset="0.349" stop-color="#00afff"/><stop offset="0.5" stop-color="#00c1ff"/><stop offset="0.582" stop-color="#00edff"/><stop offset="0.596" stop-color="#00ffff"/><stop offset="0.65" stop-color="#43ffbc"/><stop offset="0.708" stop-color="#60ff9f"/><stop offset="0.766" stop-color="#a1ff5e"/><stop offset="0.836" stop-color="#ffff00"/><stop offset="0.907" stop-color="#fff700"/><stop offset="0.97" stop-color="#faff05"/><stop offset="1" stop-color="#eeff11"/></linearGradient>
<linearGradient id="g235" x1="0" y1="0" x2="0" y2="1"><stop offset="0" stop-color="#0071ff"/><stop offset="0.349" stop-color="#00acff"/><stop offset="0.5" stop-color="#00beff"/><stop offset="0.582" stop-color="#00eaff"/><stop offset="0.599" stop-color="#00ffff"/><stop offset="0.65" stop-color="#41ffbe"/><stop offset="0.708" stop-color="#75ff8a"/><stop offset="0.766" stop-color="#9dff62"/><stop offset="0.834" stop-color="#f9ff06"/><stop offset="0.911" stop-color="#ffff00"/><stop offset="1" stop-color="#e4ff1b"/></linearGradient>
<linearGradient id="g236" x1="0" y1="0" x2="0" y2="1"><stop offset="0" stop-color="#006bff"/><stop offset="0.5" stop-color="#00bbff"/><stop offset="0.582" stop-color="#00efff"/><stop offset="0.592" stop-color="#00ffff"/><stop offset="0.65" stop-color="#56ffa9"/><stop offset="0.708" stop-color="#6fff90"/><stop offset="0.766" stop-color="#ceff31"/><stop offset="0.834" stop-color="#f5ff0a"/><stop offset="0.907" stop-color="#fbff04"/><stop offset="1" stop-color="#ddff22"/></linearGradient>
<linearGradient id="g237" x1="0" y1="0" x2="0" y2="1"><stop offset="0" stop-color="#006eff"/><stop offset="0.5" stop-color="#00beff"/><stop offset="0.582" stop-color="#00f2ff"/><stop offset="0.591" stop-color="#00ffff"/><stop offset="0.65" stop-color="#56ffa9"/><stop offset="0.708" stop-color="#85ff7a"/><stop offset="0.766" stop-color="#dfff20"/><stop offset="0.799" stop-color="#ffff00"/><stop offset="0.834" stop-color="#ffdd00"/><stop offset="0.907" stop-color="#ffde00"/><stop offset="0.988" stop-color="#ffff00"/><stop offset="1" stop-color="#f8ff07"/></linearGradient>
<linearGradient id="g238" x1="0" y1="0" x2="0" y2="1"><stop offset="0" stop-color="#0074ff"/><stop offset="0.349" stop-color="#00afff"/><stop offset="0.5" stop-color="#00c0ff"/><stop offset="0.582" stop-color="#00e9ff"/><stop offset="0.6" stop-color="#00ffff"/><stop offset="0.65" stop-color="#3bffc4"/><stop offset="0.708" stop-color="#6aff95"/><stop offset="0.834" stop-color="#faff05"/><stop offset="0.919" stop-color="#ffff00"/><stop offset="1" stop-color="#e8ff17"/></linearGradient>
<linearGradient id="g239" x1="0" y1="0" x2="0" y2="1"><stop offset="0" stop-color="#006fff"/><stop offset="0.349" stop-color="#00aaff"/><stop offset="0.5" stop-color="#00bbff"/><stop offset="0.582" stop-color="#00e6ff"/><stop offset="0.603" stop-color="#00ffff"/><stop offset="0.65" stop-color="#38ffc7"/><stop offset="0.708" stop-color="#91ff6e"/><stop offset="0.766" stop-color="#d5ff2a"/><stop offset="0.825" stop-color="#ffff00"/><stop offset="0.907" stop-color="#ffe900"/><stop offset="1" stop-color="#fff800"/></linearGradient>
<linearGradient id="g240" x1="0" y1="0" x2="0" y2="1"><stop offset="0" stop-color="#0077ff"/><stop offset="0.5" stop-color="#00c5ff"/><stop offset="0.582" stop-color="#00f5ff"/><stop offset="0.589" stop-color="#00ffff"/><stop offset="0.65" stop-color="#52ffad"/><stop offset="0.759" stop-color="#ffff00"/><stop offset="0.766" stop-color="#fff400"/><stop offset="0.834" stop-color="#ffd000"/><stop offset="0.907" stop-color="#ffc000"/><stop offset="1" stop-color="#ffce00"/></linearGradient>
<linearGradient id="g241" x1="0" y1="0" x2="0" y2="1"><stop offset="0" stop-color="#006eff"/><stop offset="0.5" stop-color="#00beff"/><stop offset="0.582" stop-color="#00efff"/><stop offset="0.593" stop-color="#00ffff"/><stop offset="0.65" stop-color="#51ffae"/><stop offset="0.708" stop-color="#c8ff37"/><stop offset="0.766" stop-color="#caff35"/><stop offset="0.808" stop-color="#ffff00"/><stop offset="0.834" stop-color="#ffde00"/><stop offset="0.907" stop-color="#ffd600"/><stop offset="1" stop-color="#fff200"/></linearGradient>
<linearGradient id="g242" x1="0" y1="0" x2="0" y2="1"><stop offset="0" stop-color="#0075ff"/><stop offset="0.349" stop-color="#00b1ff"/><stop offset="0.5" stop-color="#00c0ff"/><stop offset="0.582" stop-color="#00e8ff"/><stop offset="0.602" stop-color="#00ffff"/><stop offset="0.708" stop-color="#73ff8c"/><stop offset="0.766" stop-color="#ecff13"/><stop offset="0.792" stop-color="#ffff00"/><stop offset="0.834" stop-color="#ffe000"/><stop offset="0.907" stop-color="#ffdb00"/><stop offset="1" stop-color="#fffb00"/></linearGradient>
<linearGradient id="g243" x1="0" y1="0" x2="0" y2="1"><stop offset="0" stop-color="#0078ff"/><stop offset="0.349" stop-color="#00b3ff"/><stop offset="0.5" stop-color="#00c5ff"/><stop offset="0.582" stop-color="#00f2ff"/><stop offset="0.592" stop-color="#00ffff"/><stop offset="0.65" stop-color="#49ffb6"/><stop offset="0.708" stop-color="#6eff91"/><stop offset="0.766" stop-color="#d3ff2c"/><stop offset="0.818" stop-color="#ffff00"/><stop offset="0.834" stop-color="#fff100"/><stop offset="0.907" stop-color="#ffea00"/><stop offset="0.985" stop-color="#ffff00"/><stop offset="1" stop-color="#f9ff06"/></linearGradient>
<linearGradient id="g244" x1="0" y1="0" x2="0" y2="1"><stop offset="0" stop-color="#0079ff"/><stop offset="0.349" stop-color="#00b4ff"/><stop offset="0.5" stop-color="#00c5ff"/><stop offset="0.582" stop-color="#00f0ff"/><stop offset="0.595" stop-color="#00ffff"/><stop offset="0.65" stop-color="#43ffbc"/><stop offset="0.708" stop-color="#c9ff36"/><stop offset="0.766" stop-color="#d3ff2c"/><stop offset="0.805" stop-color="#ffff00"/><stop offset="0.834" stop-color="#ffde00"/><stop offset="0.907" stop-color="#ffd100"/><stop offset="1" stop-color="#ffe300"/></linearGradient>
<linearGradient id="g245" x1="0" y1="0" x2="0" y2="1"><stop offset="0" stop-color="#006aff"/><stop offset="0.5" stop-color="#00bbff"/><stop offset="0.582" stop-color="#00efff"/><stop offset="0.593" stop-color="#00ffff"/><stop offset="0.65" stop-color="#54ffab"/><stop offset="0.708" stop-color="#cbff34"/><stop offset="0.744" stop-color="#ffff00"/><stop offset="0.766" stop-color="#ffdf00"/><stop offset="0.834" stop-color="#ffc800"/><stop offset="0.907" stop-color="#ffbd00"/><stop offset="1" stop-color="#ffd400"/></linearGradient>
<linearGradient id="g246" x1="0" y1="0" x2="0" y2="1"><stop offset="0" stop-color="#0074ff"/><stop offset="0.5" stop-color="#00c2ff"/><stop offset="0.582" stop-color="#00f0ff"/><stop offset="0.593" stop-color="#00ffff"/><stop offset="0.65" stop-color="#4affb5"/><stop offset="0.708" stop-color="#c0ff3f"/><stop offset="0.766" stop-color="#d7ff28"/><stop offset="0.802" stop-color="#ffff00"/><stop offset="0.834" stop-color="#ffda00"/><stop offset="0.907" stop-color="#ffd500"/><stop offset="1" stop-color="#fff300"/></linearGradient>
<linearGradient id="g247" x1="0" y1="0" x2="0" y2="1"><stop offset="0" stop-color="#0063ff"/><stop offset="0.5" stop-color="#00b3ff"/><stop offset="0.582" stop-color="#00e6ff"/><stop offset="0.599" stop-color="#00ffff"/><stop offset="0.708" stop-color="#9cff63"/><stop offset="0.76" stop-color="#ffff00"/><stop offset="0.766" stop-color="#fff400"/><stop offset="0.834" stop-color="#ffcf00"/><stop offset="0.907" stop-color="#ffc400"/><stop offset="1" stop-color="#ffdb00"/></linearGradient>
<linearGradient id="g248" x1="0" y1="0" x2="0" y2="1"><stop offset="0" stop-color="#0068ff"/><stop offset="0.5" stop-color="#00b7ff"/><stop offset="0.582" stop-color="#00e7ff"/><stop offset="0.599" stop-color="#00ffff"/><stop offset="0.65" stop-color="#46ffb9"/><stop offset="0.708" stop-color="#a5ff5a"/><stop offset="0.766" stop-color="#ecff13"/><stop offset="0.801" stop-color="#ffff00"/><stop offset="0.834" stop-color="#ffed00"/><stop offset="0.907" stop-color="#ffe600"/><stop offset="1" stop-color="#fdff02"/></linearGradient>
<linearGradient id="g249" x1="0" y1="0" x2="0" y2="1"><stop offset="0" stop-color="#0062ff"/><stop offset="0.5" stop-color="#00b5ff"/><stop offset="0.582" stop-color="#00efff"/><stop offset="0.592" stop-color="#00ffff"/><stop offset="0.65" stop-color="#5fffa0"/><stop offset="0.708" stop-color="#a4ff5b"/><stop offset="0.76" stop-color="#ffff00"/><stop offset="0.766" stop-color="#fff600"/><stop offset="0.907" stop-color="#ffe400"/><stop offset="1" stop-color="#fff900"/></linearGradient>
<linearGradient id="g250" x1="0" y1="0" x2="0" y2="1"><stop offset="0" stop-color="#0075ff"/><stop offset="0.5" stop-color="#00c6ff"/><stop offset="0.584" stop-color="#00ffff"/><stop offset="0.65" stop-color="#65ff9a"/><stop offset="0.708" stop-color="#a4ff5b"/><stop offset="0.834" stop-color="#fffc00"/><stop offset="0.907" stop-color="#fff600"/><stop offset="0.97" stop-color="#f8ff07"/><stop offset="1" stop-color="#ebff14"/></linearGradient>
<linearGradient id="g251" x1="0" y1="0" x2="0" y2="1"><stop offset="0" stop-color="#0067ff"/><stop offset="0.5" stop-color="#00b6ff"/><stop offset="0.582" stop-color="#00e7ff"/><stop offset="0.599" stop-color="#00ffff"/><stop offset="0.766" stop-color="#d6ff29"/><stop offset="0.817" stop-color="#ffff00"/><stop offset="0.834" stop-color="#fff100"/><stop offset="0.907" stop-color="#fff000"/><stop offset="0.97" stop-color="#f9ff06"/><stop offset="1" stop-color="#e8ff17"/></linearGradient>
<linearGradient id="g252" x1="0" y1="0" x2="0" y2="1"><stop offset="0" stop-color="#006eff"/><stop offset="0.5" stop-color="#00bfff"/><stop offset="0.582" stop-color="#00f4ff"/><stop offset="0.589" stop-color="#00ffff"/><stop offset="0.65" stop-color="#5bffa4"/><stop offset="0.708" stop-color="#c7ff38"/><stop offset="0.752" stop-color="#ffff00"/><stop offset="0.766" stop-color="#ffed00"/><stop offset="0.907" stop-color="#ffd800"/><stop offset="1" stop-color="#fff100"/></linearGradient>
<linearGradient id="g253" x1="0" y1="0" x2="0" y2="1"><stop offset="0" stop-color="#006cff"/><stop offset="0.349" stop-color="#00a8ff"/><stop offset="0.5" stop-color="#00baff"/><stop offset="0.582" stop-color="#00e7ff"/><stop offset="0.601" stop-color="#00ffff"/><stop offset="0.65" stop-color="#3fffc0"/><stop offset="0.708" stop-color="#62ff9d"/><stop offset="0.834" stop-color="#f1ff0e"/><stop offset="0.907" stop-color="#feff01"/><stop offset="1" stop-color="#ebff14"/></linearGradient>
<linearGradient id="g254" x1="0" y1="0" x2="0" y2="1"><stop offset="0" stop-color="#006dff"/><stop offset="0.5" stop-color="#00bcff"/><stop offset="0.582" stop-color="#00edff"/><stop offset="0.595" stop-color="#00ffff"/><stop offset="0.65" stop-color="#4effb1"/><stop offset="0.708" stop-color="#b7ff48"/><stop offset="0.768" stop-color="#ffff00"/><stop offset="0.834" stop-color="#ffb400"/><stop offset="0.907" stop-color="#ffb100"/><stop offset="1" stop-color="#ffd400"/></linearGradient>
<linearGradient id="g255" x1="0" y1="0" x2="0" y2="1"><stop offset="0" stop-color="#0068ff"/><stop offset="0.5" stop-color="#00b9ff"/><stop offset="0.582" stop-color="#00f0ff"/><stop offset="0.592" stop-color="#00ffff"/><stop offset="0.65" stop-color="#5affa5"/><stop offset="0.708" stop-color="#ccff33"/><stop offset="0.743" stop-color="#ffff00"/><stop offset="0.766" stop-color="#ffdf00"/><stop offset="0.834" stop-color="#ff9900"/><stop offset="0.907" stop-color="#ff9100"/><stop offset="1" stop-color="#ffab00"/></linearGradient>
<linearGradient id="g256" x1="0" y1="0" x2="0" y2="1"><stop offset="0" stop-color="#006cff"/><stop offset="0.5" stop-color="#00bfff"/><stop offset="0.586" stop-color="#00ffff"/><stop offset="0.65" stop-color="#67ff98"/><stop offset="0.698" stop-color="#ffff00"/><stop offset="0.708" stop-color="#ffdf00"/><stop offset="0.766" stop-color="#ffb000"/><stop offset="0.907" stop-color="#ff9200"/><stop offset="1" stop-color="#ffa400"/></linearGradient>
<linearGradient id="g257" x1="0" y1="0" x2="0" y2="1"><stop offset="0" stop-color="#0075ff"/><stop offset="0.349" stop-color="#00b1ff"/><stop offset="0.5" stop-color="#00c2ff"/><stop offset="0.582" stop-color="#00efff"/><stop offset="0.595" stop-color="#00ffff"/><stop offset="0.65" stop-color="#46ffb9"/><stop offset="0.708" stop-color="#a7ff58"/><stop offset="0.788" stop-color="#ffff00"/><stop offset="0.834" stop-color="#ffc300"/><stop offset="0.907" stop-color="#ffbd00"/><stop offset="1" stop-color="#ffda00"/></linearGradient>
<linearGradient id="g258" x1="0" y1="0" x2="0" y2="1"><stop offset="0" stop-color="#0069ff"/><stop offset="0.5" stop-color="#00b9ff"/><stop offset="0.582" stop-color="#00eaff"/><stop offset="0.597" stop-color="#00ffff"/><stop offset="0.65" stop-color="#4bffb4"/><stop offset="0.708" stop-color="#85ff7a"/><stop offset="0.766" stop-color="#e4ff1b"/><stop offset="0.798" stop-color="#ffff00"/><stop offset="0.834" stop-color="#ffe100"/><stop offset="0.907" stop-color="#ffdb00"/><stop offset="1" stop-color="#fffa00"/></linearGradient>
<linearGradient id="g259" x1="0" y1="0" x2="0" y2="1"><stop offset="0" stop-color="#006bff"/><stop offset="0.5" stop-color="#00bbff"/><stop offset="0.582" stop-color="#00edff"/><stop offset="0.594" stop-color="#00ffff"/><stop offset="0.708" stop-color="#9cff63"/><stop offset="0.77" stop-color="#ffff00"/><stop offset="0.834" stop-color="#ffcf00"/><stop offset="0.907" stop-color="#ffbc00"/><stop offset="1" stop-color="#ffc400"/></linearGradient>
<linearGradient id="g260" x1="0" y1="0" x2="0" y2="1"><stop offset="0" stop-color="#006dff"/><stop offset="0.349" stop-color="#00a9ff"/><stop offset="0.5" stop-color="#00b9ff"/><stop offset="0.582" stop-color="#00e2ff"/><stop offset="0.607" stop-color="#00ffff"/><stop offset="0.708" stop-color="#7dff82"/><stop offset="0.766" stop-color="#d4ff2b"/><stop offset="0.811" stop-color="#ffff00"/><stop offset="0.834" stop-color="#ffe800"/><stop offset="0.907" stop-color="#ffdb00"/><stop offset="1" stop-color="#ffee00"/></linearGradient>
<linearGradient id="g261" x1="0" y1="0" x2="0" y2="1"><stop offset="0" stop-color="#0065ff"/><stop offset="0.5" stop-color="#00b5ff"/><stop offset="0.582" stop-color="#00e8ff"/><stop offset="0.597" stop-color="#00ffff"/><stop offset="0.65" stop-color="#4dffb2"/><stop offset="0.708" stop-color="#75ff8a"/><stop offset="0.766" stop-color="#eaff15"/><stop offset="0.803" stop-color="#ffff00"/><stop offset="0.834" stop-color="#ffee00"/><stop offset="0.907" stop-color="#ffe000"/><stop offset="1" stop-color="#fff100"/></linearGradient>
<linearGradient id="g262" x1="0" y1="0" x2="0" y2="1"><stop offset="0" stop-color="#005dff"/><stop offset="0.5" stop-color="#00adff"/><stop offset="0.582" stop-color="#00dfff"/><stop offset="0.605" stop-color="#00ffff"/><stop offset="0.65" stop-color="#41ffbe"/><stop offset="0.708" stop-color="#73ff8c"/><stop offset="0.766" stop-color="#b7ff48"/><stop offset="0.834" stop-color="#fbff04"/><stop offset="0.907" stop-color="#ffff00"/><stop offset="1" stop-color="#ddff22"/></linearGradient>
<linearGradient id="g263" x1="0" y1="0" x2="0" y2="1"><stop offset="0" stop-color="#0061ff"/><stop offset="0.5" stop-color="#00b2ff"/><stop offset="0.582" stop-color="#00e8ff"/><stop offset="0.596" stop-color="#00ffff"/><stop offset="0.65" stop-color="#53ffac"/><stop offset="0.742" stop-color="#ffff00"/><stop offset="0.766" stop-color="#ffd000"/><stop offset="0.907" stop-color="#ffa800"/><stop offset="1" stop-color="#ffb400"/></linearGradient>
<linearGradient id="g264" x1="0" y1="0" x2="0" y2="1"><stop offset="0" stop-color="#006aff"/><stop offset="0.349" stop-color="#00a5ff"/><stop offset="0.5" stop-color="#00b7ff"/><stop offset="0.582" stop-color="#00e3ff"/><stop offset="0.604" stop-color="#00ffff"/><stop offset="0.766" stop-color="#d5ff2a"/><stop offset="0.803" stop-color="#ffff00"/><stop offset="0.834" stop-color="#ffdb00"/><stop offset="0.907" stop-color="#ffdb00"/><stop offset="1" stop-color="#fbff04"/></linearGradient>
<linearGradient id="g265" x1="0" y1="0" x2="0" y2="1"><stop offset="0" stop-color="#0058ff"/><stop offset="0.349" stop-color="#0093ff"/><stop offset="0.5" stop-color="#00a5ff"/><stop offset="0.582" stop-color="#00d2ff"/><stop offset="0.617" stop-color="#00ffff"/><stop offset="0.708" stop-color="#73ff8c"/><stop offset="0.766" stop-color="#e7ff18"/><stop offset="0.795" stop-color="#ffff00"/><stop offset="0.834" stop-color="#ffdd00"/><stop offset="0.907" stop-color="#ffd700"/><stop offset="1" stop-color="#fff500"/></linearGradient>
<linearGradient id="g266" x1="0" y1="0" x2="0" y2="1"><stop offset="0" stop-color="#005dff"/><stop offset="0.5" stop-color="#00aeff"/><stop offset="0.582" stop-color="#00e4ff"/><stop offset="0.599" stop-color="#00ffff"/><stop offset="0.65" stop-color="#4dffb2"/><stop offset="0.708" stop-color="#92ff6d"/><stop offset="0.766" stop-color="#b3ff4c"/><stop offset="0.824" stop-color="#ffff00"/><stop offset="0.834" stop-color="#fff100"/><stop offset="0.907" stop-color="#ffe500"/><stop offset="1" stop-color="#fff800"/></linearGradient>
<linearGradient id="g267" x1="0" y1="0" x2="0" y2="1"><stop offset="0" stop-color="#0067ff"/><stop offset="0.5" stop-color="#00b7ff"/><stop offset="0.582" stop-color="#00ebff"/><stop offset="0.595" stop-color="#00ffff"/><stop offset="0.65" stop-color="#51ffae"/><stop offset="0.766" stop-color="#ebff14"/><stop offset="0.792" stop-color="#ffff00"/><stop offset="0.834" stop-color="#ffde00"/><stop offset="0.907" stop-color="#ffce00"/><stop offset="1" stop-color="#ffdd00"/></linearGradient>
<linearGradient id="g268" x1="0" y1="0" x2="0" y2="1"><stop offset="0" stop-color="#0064ff"/><stop offset="0.5" stop-color="#00b3ff"/><stop offset="0.582" stop-color="#00e4ff"/><stop offset="0.602" stop-color="#00ffff"/><stop offset="0.708" stop-color="#8eff71"/><stop offset="0.766" stop-color="#d3ff2c"/><stop offset="0.818" stop-color="#ffff00"/><stop offset="0.834" stop-color="#fff100"/><stop offset="0.907" stop-color="#ffed00"/><stop offset="0.97" stop-color="#feff01"/><stop offset="1" stop-color="#efff10"/></linearGradient>
<linearGradient id="g269" x1="0" y1="0" x2="0" y2="1"><stop offset="0" stop-color="#005eff"/><stop offset="0.5" stop-color="#00b1ff"/><stop offset="0.582" stop-color="#00ecff"/><stop offset="0.593" stop-color="#00ffff"/><stop offset="0.708" stop-color="#b6ff49"/><stop offset="0.789" stop-color="#ffff00"/><stop offset="0.834" stop-color="#ffdb00"/><stop offset="0.907" stop-color="#ffd600"/><stop offset="1" stop-color="#fff500"/></linearGradient>
<linearGradient id="g270" x1="0" y1="0" x2="0" y2="1"><stop offset="0" stop-color="#0062ff"/><stop offset="0.5" stop-color="#00b2ff"/><stop offset="0.582" stop-color="#00e5ff"/><stop offset="0.6" stop-color="#00ffff"/><stop offset="0.65" stop-color="#48ffb7"/><stop offset="0.708" stop-color="#b5ff4a"/><stop offset="0.785" stop-color="#ffff00"/><stop offset="0.834" stop-color="#ffd400"/><stop offset="0.907" stop-color="#ffca00"/><stop offset="1" stop-color="#ffe200"/></linearGradient>
<linearGradient id="g271" x1="0" y1="0" x2="0" y2="1"><stop offset="0" stop-color="#005cff"/><stop offset="0.5" stop-color="#00acff"/><stop offset="0.582" stop-color="#00deff"/><stop offset="0.604" stop-color="#00ffff"/><stop offset="0.65" stop-color="#42ffbd"/><stop offset="0.708" stop-color="#62ff9d"/><stop offset="0.818" stop-color="#ffff00"/><stop offset="0.834" stop-color="#ffe900"/><stop offset="0.907" stop-color="#ffea00"/><stop offset="0.97" stop-color="#fcff03"/><stop offset="1" stop-color="#eaff15"/></linearGradient>
<linearGradient id="g272" x1="0" y1="0" x2="0" y2="1"><stop offset="0" stop-color="#0051ff"/><stop offset="0.5" stop-color="#00a4ff"/><stop offset="0.582" stop-color="#00e5ff"/><stop offset="0.598" stop-color="#00ffff"/><stop offset="0.65" stop-color="#55ffaa"/><stop offset="0.814" stop-color="#ffff00"/><stop offset="0.834" stop-color="#ffea00"/><stop offset="0.907" stop-color="#ffde00"/><stop offset="1" stop-color="#fff200"/></linearGradient>
<linearGradient id="g273" x1="0" y1="0" x2="0" y2="1"><stop offset="0" stop-color="#004bff"/><stop offset="0.5" stop-color="#009bff"/><stop offset="0.582" stop-color="#00ceff"/><stop offset="0.616" stop-color="#00ffff"/><stop offset="0.65" stop-color="#31ffce"/><stop offset="0.708" stop-color="#5dffa2"/><stop offset="0.766" stop-color="#98ff67"/><stop offset="0.835" stop-color="#ffff00"/><stop offset="0.907" stop-color="#fff400"/><stop offset="0.972" stop-color="#ffff00"/><stop offset="1" stop-color="#f6ff09"/></linearGradient>
<linearGradient id="g274" x1="0" y1="0" x2="0" y2="1"><stop offset="0" stop-color="#004fff"/><stop offset="0.5" stop-color="#00a0ff"/><stop offset="0.582" stop-color="#00d6ff"/><stop offset="0.608" stop-color="#00ffff"/><stop offset="0.65" stop-color="#41ffbe"/><stop offset="0.708" stop-color="#bdff42"/><stop offset="0.782" stop-color="#ffff00"/><stop offset="0.834" stop-color="#ffd500"/><stop offset="0.907" stop-color="#ffcf00"/><stop offset="1" stop-color="#ffec00"/></linearGradient>
<linearGradient id="g275" x1="0" y1="0" x2="0" y2="1"><stop offset="0" stop-color="#0056ff"/><stop offset="0.5" stop-color="#00a8ff"/><stop offset="0.582" stop-color="#00dfff"/><stop offset="0.602" stop-color="#00ffff"/><stop offset="0.65" stop-color="#4cffb3"/><stop offset="0.708" stop-color="#68ff97"/><stop offset="0.834" stop-color="#fffb00"/><stop offset="0.907" stop-color="#fff000"/><stop offset="1" stop-color="#f9ff06"/></linearGradient>
<linearGradient id="g276" x1="0" y1="0" x2="0" y2="1"><stop offset="0" stop-color="#004aff"/><stop offset="0.5" stop-color="#009fff"/><stop offset="0.582" stop-color="#00ecff"/><stop offset="0.594" stop-color="#00ffff"/><stop offset="0.65" stop-color="#5bffa4"/><stop offset="0.708" stop-color="#74ff8b"/><stop offset="0.834" stop-color="#edff12"/><stop offset="0.907" stop-color="#faff05"/><stop offset="1" stop-color="#e7ff18"/></linearGradient>
<linearGradient id="g277" x1="0" y1="0" x2="0" y2="1"><stop offset="0" stop-color="#004aff"/><stop offset="0.5" stop-color="#009dff"/><stop offset="0.582" stop-color="#00daff"/><stop offset="0.605" stop-color="#00ffff"/><stop offset="0.65" stop-color="#4affb5"/><stop offset="0.766" stop-color="#bcff43"/><stop offset="0.824" stop-color="#ffff00"/><stop offset="0.834" stop-color="#fff300"/><stop offset="0.907" stop-color="#ffe900"/><stop offset="1" stop-color="#feff01"/></linearGradient>
<linearGradient id="g278" x1="0" y1="0" x2="0" y2="1"><stop offset="0" stop-color="#004fff"/><stop offset="0.5" stop-color="#00a2ff"/><stop offset="0.582" stop-color="#00e2ff"/><stop offset="0.6" stop-color="#00ffff"/><stop offset="0.65" stop-color="#52ffad"/><stop offset="0.708" stop-color="#82ff7d"/><stop offset="0.766" stop-color="#c5ff3a"/><stop offset="0.834" stop-color="#fffd00"/><stop offset="0.907" stop-color="#fff200"/><stop offset="0.975" stop-color="#ffff00"/><stop offset="1" stop-color="#f7ff08"/></linearGradient>
<linearGradient id="g279" x1="0" y1="0" x2="0" y2="1"><stop offset="0" stop-color="#004eff"/><stop offset="0.5" stop-color="#00a0ff"/><stop offset="0.582" stop-color="#00d6ff"/><stop offset="0.608" stop-color="#00ffff"/><stop offset="0.708" stop-color="#92ff6d"/><stop offset="0.766" stop-color="#ddff22"/><stop offset="0.848" stop-color="#ffff00"/><stop offset="0.907" stop-color="#fff200"/><stop offset="1" stop-color="#fffe00"/></linearGradient>
<linearGradient id="g280" x1="0" y1="0" x2="0" y2="1"><stop offset="0" stop-color="#005bff"/><stop offset="0.5" stop-color="#00adff"/><stop offset="0.582" stop-color="#00e5ff"/><stop offset="0.598" stop-color="#00ffff"/><stop offset="0.65" stop-color="#52ffad"/><stop offset="0.708" stop-color="#86ff79"/><stop offset="0.766" stop-color="#c9ff36"/><stop offset="0.824" stop-color="#ffff00"/><stop offset="0.834" stop-color="#fff600"/><stop offset="0.907" stop-color="#fff000"/><stop offset="0.97" stop-color="#feff01"/><stop offset="1" stop-color="#f1ff0e"/></linearGradient>
<linearGradient id="g281" x1="0" y1="0" x2="0" y2="1"><stop offset="0" stop-color="#0059ff"/><stop offset="0.5" stop-color="#00aeff"/><stop offset="0.585" stop-color="#00ffff"/><stop offset="0.708" stop-color="#beff41"/><stop offset="0.801" stop-color="#ffff00"/><stop offset="0.834" stop-color="#ffea00"/><stop offset="0.907" stop-color="#ffe100"/><stop offset="1" stop-color="#fff900"/></linearGradient>
<linearGradient id="g282" x1="0" y1="0" x2="0" y2="1"><stop offset="0" stop-color="#0067ff"/><stop offset="0.5" stop-color="#00b5ff"/><stop offset="0.582" stop-color="#00e4ff"/><stop offset="0.602" stop-color="#00ffff"/><stop offset="0.65" stop-color="#41ffbe"/><stop offset="0.708" stop-color="#5cffa3"/><stop offset="0.766" stop-color="#c5ff3a"/><stop offset="0.834" stop-color="#f9ff06"/><stop offset="0.907" stop-color="#ffff00"/><stop offset="1" stop-color="#e1ff1e"/></linearGradient>
<linearGradient id="g283" x1="0" y1="0" x2="0" y2="1"><stop offset="0" stop-color="#0058ff"/><stop offset="0.5" stop-color="#00aeff"/><stop offset="0.575" stop-color="#00ffff"/><stop offset="0.65" stop-color="#76ff89"/><stop offset="0.708" stop-color="#8cff73"/><stop offset="0.766" stop-color="#deff21"/><stop offset="0.815" stop-color="#ffff00"/><stop offset="0.834" stop-color="#fff200"/><stop offset="0.907" stop-color="#ffe400"/><stop offset="1" stop-color="#fff500"/></linearGradient>
<linearGradient id="g284" x1="0" y1="0" x2="0" y2="1"><stop offset="0" stop-color="#006aff"/><stop offset="0.5" stop-color="#00b8ff"/><stop offset="0.582" stop-color="#00e6ff"/><stop offset="0.601" stop-color="#00ffff"/><stop offset="0.65" stop-color="#41ffbe"/><stop offset="0.708" stop-color="#cbff34"/><stop offset="0.745" stop-color="#ffff00"/><stop offset="0.766" stop-color="#ffe200"/><stop offset="0.907" stop-color="#ffce00"/><stop offset="1" stop-color="#ffeb00"/></linearGradient>
<linearGradient id="g285" x1="0" y1="0" x2="0" y2="1"><stop offset="0" stop-color="#0065ff"/><stop offset="0.5" stop-color="#00b5ff"/><stop offset="0.582" stop-color="#00e8ff"/><stop offset="0.598" stop-color="#00ffff"/><stop offset="0.762" stop-color="#ffff00"/><stop offset="0.834" stop-color="#ffe300"/><stop offset="0.907" stop-color="#ffd800"/><stop offset="1" stop-color="#ffed00"/></linearGradient>
<linearGradient id="g286" x1="0" y1="0" x2="0" y2="1"><stop offset="0" stop-color="#005dff"/><stop offset="0.5" stop-color="#00afff"/><stop offset="0.582" stop-color="#00e5ff"/><stop offset="0.599" stop-color="#00ffff"/><stop offset="0.65" stop-color="#50ffaf"/><stop offset="0.708" stop-color="#9eff61"/><stop offset="0.766" stop-color="#d7ff28"/><stop offset="0.818" stop-color="#ffff00"/><stop offset="0.834" stop-color="#fff200"/><stop offset="0.907" stop-color="#ffe900"/><stop offset="1" stop-color="#fdff02"/></linearGradient>
<linearGradient id="g287" x1="0" y1="0" x2="0" y2="1"><stop offset="0" stop-color="#006fff"/><stop offset="0.5" stop-color="#00c0ff"/><stop offset="0.588" stop-color="#00ffff"/><stop offset="0.65" stop-color="#5effa1"/><stop offset="0.766" stop-color="#dfff20"/><stop offset="0.809" stop-color="#ffff00"/><stop offset="0.834" stop-color="#ffed00"/><stop offset="0.907" stop-color="#ffe400"/><stop offset="1" stop-color="#fffd00"/></linearGradient>
<linearGradient id="g288" x1="0" y1="0" x2="0" y2="1"><stop offset="0" stop-color="#006aff"/><stop offset="0.349" stop-color="#00a5ff"/><stop offset="0.5" stop-color="#00b7ff"/><stop offset="0.582" stop-color="#00e2ff"/><stop offset="0.605" stop-color="#00ffff"/><stop offset="0.65" stop-color="#37ffc8"/><stop offset="0.766" stop-color="#efff10"/><stop offset="0.803" stop-color="#ffff00"/><stop offset="0.907" stop-color="#ffe000"/><stop offset="1" stop-color="#ffeb00"/></linearGradient>
<linearGradient id="g289" x1="0" y1="0" x2="0" y2="1"><stop offset="0" stop-color="#005eff"/><stop offset="0.349" stop-color="#009aff"/><stop offset="0.5" stop-color="#00abff"/><stop offset="0.582" stop-color="#00d5ff"/><stop offset="0.617" stop-color="#00ffff"/><stop offset="0.708" stop-color="#6aff95"/><stop offset="0.809" stop-color="#ffff00"/><stop offset="0.834" stop-color="#ffdc00"/><stop offset="0.907" stop-color="#ffd400"/><stop offset="1" stop-color="#ffee00"/></linearGradient>
<linearGradient id="g290" x1="0" y1="0" x2="0" y2="1"><stop offset="0" stop-color="#0068ff"/><stop offset="0.5" stop-color="#00b9ff"/><stop offset="0.582" stop-color="#00eeff"/><stop offset="0.593" stop-color="#00ffff"/><stop offset="0.65" stop-color="#56ffa9"/><stop offset="0.708" stop-color="#d9ff26"/><stop offset="0.748" stop-color="#ffff00"/><stop offset="0.766" stop-color="#ffee00"/><stop offset="0.834" stop-color="#ffca00"/><stop offset="0.907" stop-color="#ffba00"/><stop offset="1" stop-color="#ffc800"/></linearGradient>
<linearGradient id="g291" x1="0" y1="0" x2="0" y2="1"><stop offset="0" stop-color="#0075ff"/><stop offset="0.5" stop-color="#00c5ff"/><stop offset="0.588" stop-color="#00ffff"/><stop offset="0.766" stop-color="#f4ff0b"/><stop offset="0.781" stop-color="#ffff00"/><stop offset="0.834" stop-color="#ffda00"/><stop offset="0.907" stop-color="#ffcd00"/><stop offset="1" stop-color="#ffdf00"/></linearGradient>
<linearGradient id="g292" x1="0" y1="0" x2="0" y2="1"><stop offset="0" stop-color="#00a2ff"/><stop offset="0.349" stop-color="#00ddff"/><stop offset="0.5" stop-color="#00ecff"/><stop offset="0.544" stop-color="#00ffff"/><stop offset="0.582" stop-color="#11ffee"/><stop offset="0.65" stop-color="#56ffa9"/><stop offset="0.708" stop-color="#edff12"/><stop offset="0.724" stop-color="#ffff00"/><stop offset="0.766" stop-color="#ffcf00"/><stop offset="0.907" stop-color="#ffac00"/><stop offset="1" stop-color="#ffbb00"/></linearGradient>
<linearGradient id="g293" x1="0" y1="0" x2="0" y2="1"><stop offset="0" stop-color="#007cff"/><stop offset="0.5" stop-color="#00ceff"/><stop offset="0.568" stop-color="#00ffff"/><stop offset="0.582" stop-color="#0afff5"/><stop offset="0.65" stop-color="#78ff87"/><stop offset="0.708" stop-color="#f3ff0c"/><stop offset="0.721" stop-color="#ffff00"/><stop offset="0.766" stop-color="#ffd400"/><stop offset="0.834" stop-color="#ffad00"/><stop offset="0.907" stop-color="#ffa500"/><stop offset="1" stop-color="#ffc000"/></linearGradient>
<linearGradient id="g294" x1="0" y1="0" x2="0" y2="1"><stop offset="0" stop-color="#007bff"/><stop offset="0.349" stop-color="#00b6ff"/><stop offset="0.5" stop-color="#00c8ff"/><stop offset="0.589" stop-color="#00ffff"/><stop offset="0.65" stop-color="#4effb1"/><stop offset="0.708" stop-color="#6cff93"/><stop offset="0.766" stop-color="#dbff24"/><stop offset="0.807" stop-color="#ffff00"/><stop offset="0.834" stop-color="#ffe700"/><stop offset="0.907" stop-color="#ffda00"/><stop offset="1" stop-color="#ffec00"/></linearGradient>
<linearGradient id="g295" x1="0" y1="0" x2="0" y2="1"><stop offset="0" stop-color="#0079ff"/><stop offset="0.5" stop-color="#00c7ff"/><stop offset="0.582" stop-color="#00f5ff"/><stop offset="0.59" stop-color="#00ffff"/><stop offset="0.65" stop-color="#4effb1"/><stop offset="0.708" stop-color="#c7ff38"/><stop offset="0.744" stop-color="#ffff00"/><stop offset="0.766" stop-color="#ffde00"/><stop offset="0.834" stop-color="#ff9d00"/><stop offset="0.907" stop-color="#ff9100"/><stop offset="1" stop-color="#ffa400"/></linearGradient>
<linearGradient id="g296" x1="0" y1="0" x2="0" y2="1"><stop offset="0" stop-color="#0076ff"/><stop offset="0.5" stop-color="#00c6ff"/><stop offset="0.587" stop-color="#00ffff"/><stop offset="0.65" stop-color="#5affa5"/><stop offset="0.692" stop-color="#ffff00"/><stop offset="0.708" stop-color="#ffc100"/><stop offset="0.766" stop-color="#ff8800"/><stop offset="0.907" stop-color="#ff8300"/><stop offset="1" stop-color="#ffa100"/></linearGradient>
<linearGradient id="g297" x1="0" y1="0" x2="0" y2="1"><stop offset="0" stop-color="#007bff"/><stop offset="0.349" stop-color="#00b7ff"/><stop offset="0.5" stop-color="#00c9ff"/><stop offset="0.588" stop-color="#00ffff"/><stop offset="0.65" stop-color="#50ffaf"/><stop offset="0.708" stop-color="#dfff20"/><stop offset="0.726" stop-color="#ffff00"/><stop offset="0.766" stop-color="#ffb900"/><stop offset="0.907" stop-color="#ffa000"/><stop offset="1" stop-color="#ffb700"/></linearGradient>
<linearGradient id="g298" x1="0" y1="0" x2="0" y2="1"><stop offset="0" stop-color="#0076ff"/><stop offset="0.5" stop-color="#00c7ff"/><stop offset="0.583" stop-color="#00ffff"/><stop offset="0.65" stop-color="#66ff99"/><stop offset="0.708" stop-color="#daff25"/><stop offset="0.733" stop-color="#ffff00"/><stop offset="0.766" stop-color="#ffcd00"/><stop offset="0.834" stop-color="#ffaf00"/><stop offset="0.907" stop-color="#ffa800"/><stop offset="1" stop-color="#ffc200"/></linearGradient>
<linearGradient id="g299" x1="0" y1="0" x2="0" y2="1"><stop offset="0" stop-color="#0074ff"/><stop offset="0.349" stop-color="#00b0ff"/><stop offset="0.5" stop-color="#00bfff"/><stop offset="0.582" stop-color="#00e6ff"/><stop offset="0.604" stop-color="#00ffff"/><stop offset="0.708" stop-color="#7cff83"/><stop offset="0.766" stop-color="#d6ff29"/><stop offset="0.834" stop-color="#fffc00"/><stop offset="0.907" stop-color="#fff400"/><stop offset="0.97" stop-color="#fcff03"/><stop offset="1" stop-color="#f0ff0f"/></linearGradient>
<linearGradient id="g300" x1="0" y1="0" x2="0" y2="1"><stop offset="0" stop-color="#0063ff"/><stop offset="0.5" stop-color="#00b2ff"/><stop offset="0.582" stop-color="#00e3ff"/><stop offset="0.602" stop-color="#00ffff"/><stop offset="0.65" stop-color="#42ffbd"/><stop offset="0.766" stop-color="#aaff55"/><stop offset="0.837" stop-color="#ffff00"/><stop offset="0.907" stop-color="#fff000"/><stop offset="1" stop-color="#ffff00"/></linearGradient>
<linearGradient id="g301" x1="0" y1="0" x2="0" y2="1"><stop offset="0" stop-color="#0075ff"/><stop offset="0.349" stop-color="#00b1ff"/><stop offset="0.5" stop-color="#00bbff"/><stop offset="0.582" stop-color="#00d7ff"/><stop offset="0.634" stop-color="#00ffff"/><stop offset="0.708" stop-color="#43ffbc"/><stop offset="0.766" stop-color="#87ff78"/><stop offset="0.834" stop-color="#f9ff06"/><stop offset="0.907" stop-color="#feff01"/><stop offset="1" stop-color="#deff21"/></linearGradient>
<linearGradient id="g302" x1="0" y1="0" x2="0" y2="1"><stop offset="0" stop-color="#0077ff"/><stop offset="0.5" stop-color="#00c6ff"/><stop offset="0.588" stop-color="#00ffff"/><stop offset="0.65" stop-color="#56ffa9"/><stop offset="0.708" stop-color="#7bff84"/><stop offset="0.834" stop-color="#e7ff18"/><stop offset="0.907" stop-color="#e7ff18"/><stop offset="1" stop-color="#bfff40"/></linearGradient>
<linearGradient id="g303" x1="0" y1="0" x2="0" y2="1"><stop offset="0" stop-color="#006dff"/><stop offset="0.349" stop-color="#00a9ff"/><stop offset="0.5" stop-color="#00bbff"/><stop offset="0.582" stop-color="#00e8ff"/><stop offset="0.6" stop-color="#00ffff"/><stop offset="0.65" stop-color="#41ffbe"/><stop offset="0.708" stop-color="#74ff8b"/><stop offset="0.766" stop-color="#c0ff3f"/><stop offset="0.834" stop-color="#f1ff0e"/><stop offset="0.907" stop-color="#f0ff0f"/><stop offset="1" stop-color="#c8ff37"/></linearGradient>
<linearGradient id="g304" x1="0" y1="0" x2="0" y2="1"><stop offset="0" stop-color="#006dff"/><stop offset="0.5" stop-color="#00bdff"/><stop offset="0.582" stop-color="#00f1ff"/><stop offset="0.591" stop-color="#00ffff"/><stop offset="0.65" stop-color="#57ffa8"/><stop offset="0.708" stop-color="#c9ff36"/><stop offset="0.747" stop-color="#ffff00"/><stop offset="0.766" stop-color="#ffe500"/><stop offset="0.907" stop-color="#ffde00"/><stop offset="1" stop-color="#fffb00"/></linearGradient>
<linearGradient id="g305" x1="0" y1="0" x2="0" y2="1"><stop offset="0" stop-color="#007dff"/><stop offset="0.5" stop-color="#00ceff"/><stop offset="0.582" stop-color="#05fffa"/><stop offset="0.65" stop-color="#6cff93"/><stop offset="0.708" stop-color="#a7ff58"/><stop offset="0.766" stop-color="#ceff31"/><stop offset="0.818" stop-color="#ffff00"/><stop offset="0.834" stop-color="#fff000"/><stop offset="0.907" stop-color="#ffeb00"/><stop offset="0.977" stop-color="#ffff00"/><stop offset="1" stop-color="#f4ff0b"/></linearGradient>
<linearGradient id="g306" x1="0" y1="0" x2="0" y2="1"><stop offset="0" stop-color="#0067ff"/><stop offset="0.5" stop-color="#00b6ff"/><stop offset="0.582" stop-color="#00e7ff"/><stop offset="0.599" stop-color="#00ffff"/><stop offset="0.65" stop-color="#46ffb9"/><stop offset="0.704" stop-color="#ffff00"/><stop offset="0.708" stop-color="#fff200"/><stop offset="0.766" stop-color="#ffba00"/><stop offset="0.907" stop-color="#ffad00"/><stop offset="1" stop-color="#ffc600"/></linearGradient>
<linearGradient id="g307" x1="0" y1="0" x2="0" y2="1"><stop offset="0" stop-color="#0075ff"/><stop offset="0.349" stop-color="#00b1ff"/><stop offset="0.5" stop-color="#00c2ff"/><stop offset="0.582" stop-color="#00edff"/><stop offset="0.596" stop-color="#00ffff"/><stop offset="0.65" stop-color="#42ffbd"/><stop offset="0.694" stop-color="#ffff00"/><stop offset="0.708" stop-color="#ffc100"/><stop offset="0.766" stop-color="#ff9100"/><stop offset="0.907" stop-color="#ff7700"/><stop offset="1" stop-color="#ff8b00"/></linearGradient>
<linearGradient id="g308" x1="0" y1="0" x2="0" y2="1"><stop offset="0" stop-color="#0082ff"/><stop offset="0.349" stop-color="#00beff"/><stop offset="0.5" stop-color="#00cdff"/><stop offset="0.582" stop-color="#00f3ff"/><stop offset="0.593" stop-color="#00ffff"/><stop offset="0.65" stop-color="#3dffc2"/><stop offset="0.694" stop-color="#ffff00"/><stop offset="0.708" stop-color="#ffc000"/><stop offset="0.766" stop-color="#ff8b00"/><stop offset="0.907" stop-color="#ff6e00"/><stop offset="1" stop-color="#ff7900"/></linearGradient>
<linearGradient id="g309" x1="0" y1="0" x2="0" y2="1"><stop offset="0" stop-color="#006eff"/><stop offset="0.349" stop-color="#00aaff"/><stop offset="0.5" stop-color="#00baff"/><stop offset="0.582" stop-color="#00e4ff"/><stop offset="0.604" stop-color="#00ffff"/><stop offset="0.65" stop-color="#37ffc8"/><stop offset="0.703" stop-color="#ffff00"/><stop offset="0.708" stop-color="#ffed00"/><stop offset="0.766" stop-color="#ffb800"/><stop offset="0.834" stop-color="#ff9e00"/><stop offset="0.907" stop-color="#ff9400"/><stop offset="1" stop-color="#ffab00"/></linearGradient>
<linearGradient id="g310" x1="0" y1="0" x2="0" y2="1"><stop offset="0" stop-color="#0079ff"/><stop offset="0.349" stop-color="#00b5ff"/><stop offset="0.5" stop-color="#00c4ff"/><stop offset="0.582" stop-color="#00ecff"/><stop offset="0.599" stop-color="#00ffff"/><stop offset="0.65" stop-color="#3affc5"/><stop offset="0.708" stop-color="#b9ff46"/><stop offset="0.75" stop-color="#ffff00"/><stop offset="0.766" stop-color="#ffe600"/><stop offset="0.834" stop-color="#ffc500"/><stop offset="0.907" stop-color="#ffbb00"/><stop offset="1" stop-color="#ffd000"/></linearGradient>
<linearGradient id="g311" x1="0" y1="0" x2="0" y2="1"><stop offset="0" stop-color="#0081ff"/><stop offset="0.349" stop-color="#00bdff"/><stop offset="0.5" stop-color="#00ceff"/><stop offset="0.586" stop-color="#00ffff"/><stop offset="0.65" stop-color="#50ffaf"/><stop offset="0.708" stop-color="#acff53"/><stop offset="0.766" stop-color="#f6ff09"/><stop offset="0.779" stop-color="#ffff00"/><stop offset="0.834" stop-color="#ffdb00"/><stop offset="0.907" stop-color="#ffd600"/><stop offset="1" stop-color="#fff600"/></linearGradient>
<linearGradient id="g312" x1="0" y1="0" x2="0" y2="1"><stop offset="0" stop-color="#0075ff"/><stop offset="0.349" stop-color="#00b1ff"/><stop offset="0.5" stop-color="#00c3ff"/><stop offset="0.582" stop-color="#00efff"/><stop offset="0.595" stop-color="#00ffff"/><stop offset="0.65" stop-color="#45ffba"/><stop offset="0.749" stop-color="#ffff00"/><stop offset="0.766" stop-color="#ffe000"/><stop offset="0.834" stop-color="#ffc800"/><stop offset="0.907" stop-color="#ffbd00"/><stop offset="1" stop-color="#ffd100"/></linearGradient>
<linearGradient id="g313" x1="0" y1="0" x2="0" y2="1"><stop offset="0" stop-color="#007bff"/><stop offset="0.349" stop-color="#00b6ff"/><stop offset="0.5" stop-color="#00c7ff"/><stop offset="0.582" stop-color="#00f2ff"/><stop offset="0.593" stop-color="#00ffff"/><stop offset="0.65" stop-color="#45ffba"/><stop offset="0.708" stop-color="#aeff51"/><stop offset="0.781" stop-color="#ffff00"/><stop offset="0.834" stop-color="#ffbd00"/><stop offset="0.907" stop-color="#ffae00"/><stop offset="1" stop-color="#ffbc00"/></linearGradient>
<linearGradient id="g314" x1="0" y1="0" x2="0" y2="1"><stop offset="0" stop-color="#0093ff"/><stop offset="0.5" stop-color="#00ddff"/><stop offset="0.561" stop-color="#00ffff"/><stop offset="0.582" stop-color="#0cfff3"/><stop offset="0.708" stop-color="#b9ff46"/><stop offset="0.757" stop-color="#ffff00"/><stop offset="0.766" stop-color="#fff200"/><stop offset="0.834" stop-color="#ffd500"/><stop offset="0.907" stop-color="#ffc500"/><stop offset="1" stop-color="#ffd400"/></linearGradient>
<linearGradient id="g315" x1="0" y1="0" x2="0" y2="1"><stop offset="0" stop-color="#0096ff"/><stop offset="0.5" stop-color="#00deff"/><stop offset="0.562" stop-color="#00ffff"/><stop offset="0.582" stop-color="#0afff5"/><stop offset="0.65" stop-color="#5effa1"/><stop offset="0.708" stop-color="#96ff69"/><stop offset="0.766" stop-color="#eeff11"/><stop offset="0.795" stop-color="#ffff00"/><stop offset="0.834" stop-color="#ffe800"/><stop offset="0.907" stop-color="#ffea00"/><stop offset="0.97" stop-color="#fdff02"/><stop offset="1" stop-color="#ebff14"/></linearGradient>
<linearGradient id="g316" x1="0" y1="0" x2="0" y2="1"><stop offset="0" stop-color="#0093ff"/><stop offset="0.5" stop-color="#00dcff"/><stop offset="0.567" stop-color="#00ffff"/><stop offset="0.582" stop-color="#08fff7"/><stop offset="0.65" stop-color="#5affa5"/><stop offset="0.708" stop-color="#c9ff36"/><stop offset="0.775" stop-color="#ffff00"/><stop offset="0.834" stop-color="#ffe700"/><stop offset="0.907" stop-color="#ffda00"/><stop offset="1" stop-color="#ffec00"/></linearGradient>
<linearGradient id="g317" x1="0" y1="0" x2="0" y2="1"><stop offset="0" stop-color="#0089ff"/><stop offset="0.349" stop-color="#00c1ff"/><stop offset="0.5" stop-color="#00d2ff"/><stop offset="0.584" stop-color="#00ffff"/><stop offset="0.65" stop-color="#4fffb0"/><stop offset="0.708" stop-color="#cbff34"/><stop offset="0.747" stop-color="#ffff00"/><stop offset="0.766" stop-color="#ffe600"/><stop offset="0.834" stop-color="#ffc900"/><stop offset="0.907" stop-color="#ffb800"/><stop offset="1" stop-color="#ffc500"/></linearGradient>
<linearGradient id="g318" x1="0" y1="0" x2="0" y2="1"><stop offset="0" stop-color="#0086ff"/><stop offset="0.5" stop-color="#00caff"/><stop offset="0.582" stop-color="#00f3ff"/><stop offset="0.593" stop-color="#00ffff"/><stop offset="0.65" stop-color="#42ffbd"/><stop offset="0.708" stop-color="#a0ff5f"/><stop offset="0.79" stop-color="#ffff00"/><stop offset="0.834" stop-color="#ffd000"/><stop offset="0.907" stop-color="#ffc300"/><stop offset="1" stop-color="#ffd600"/></linearGradient>
<linearGradient id="g319" x1="0" y1="0" x2="0" y2="1"><stop offset="0" stop-color="#008eff"/><stop offset="0.15" stop-color="#00a7ff"/><stop offset="0.5" stop-color="#00cdff"/><stop offset="0.582" stop-color="#00f5ff"/><stop offset="0.591" stop-color="#00ffff"/><stop offset="0.65" stop-color="#42ffbd"/><stop offset="0.708" stop-color="#61ff9e"/><stop offset="0.766" stop-color="#a8ff57"/><stop offset="0.825" stop-color="#ffff00"/><stop offset="0.834" stop-color="#fff000"/><stop offset="0.907" stop-color="#fff000"/><stop offset="0.97" stop-color="#f9ff06"/><stop offset="1" stop-color="#e8ff17"/></linearGradient>
<linearGradient id="g320" x1="0" y1="0" x2="0" y2="1"><stop offset="0" stop-color="#0098ff"/><stop offset="0.349" stop-color="#00caff"/><stop offset="0.5" stop-color="#00d9ff"/><stop offset="0.584" stop-color="#00ffff"/><stop offset="0.65" stop-color="#45ffba"/><stop offset="0.708" stop-color="#9aff65"/><stop offset="0.803" stop-color="#ffff00"/><stop offset="0.834" stop-color="#ffe100"/><stop offset="0.907" stop-color="#ffda00"/><stop offset="1" stop-color="#fff700"/></linearGradient>
<linearGradient id="g321" x1="0" y1="0" x2="0" y2="1"><stop offset="0" stop-color="#00a1ff"/><stop offset="0.349" stop-color="#00d5ff"/><stop offset="0.5" stop-color="#00e2ff"/><stop offset="0.582" stop-color="#03fffc"/><stop offset="0.65" stop-color="#40ffbf"/><stop offset="0.708" stop-color="#b9ff46"/><stop offset="0.769" stop-color="#ffff00"/><stop offset="0.834" stop-color="#ffba00"/><stop offset="0.907" stop-color="#ffaf00"/><stop offset="1" stop-color="#ffc300"/></linearGradient>
<linearGradient id="g322" x1="0" y1="0" x2="0" y2="1"><stop offset="0" stop-color="#00a1ff"/><stop offset="0.349" stop-color="#00d7ff"/><stop offset="0.5" stop-color="#00e5ff"/><stop offset="0.558" stop-color="#00ffff"/><stop offset="0.582" stop-color="#0bfff4"/><stop offset="0.65" stop-color="#52ffad"/><stop offset="0.708" stop-color="#b2ff4d"/><stop offset="0.738" stop-color="#ffff00"/><stop offset="0.766" stop-color="#ffb700"/><stop offset="0.834" stop-color="#ffb700"/><stop offset="0.907" stop-color="#ffac00"/><stop offset="1" stop-color="#ffc200"/></linearGradient>
<linearGradient id="g323" x1="0" y1="0" x2="0" y2="1"><stop offset="0" stop-color="#009dff"/><stop offset="0.5" stop-color="#00e3ff"/><stop offset="0.554" stop-color="#00ffff"/><stop offset="0.582" stop-color="#0efff1"/><stop offset="0.65" stop-color="#5fffa0"/><stop offset="0.708" stop-color="#87ff78"/><stop offset="0.818" stop-color="#ffff00"/><stop offset="0.834" stop-color="#ffee00"/><stop offset="0.907" stop-color="#ffe900"/><stop offset="0.978" stop-color="#ffff00"/><stop offset="1" stop-color="#f4ff0b"/></linearGradient>
<linearGradient id="g324" x1="0" y1="0" x2="0" y2="1"><stop offset="0" stop-color="#009cff"/><stop offset="0.5" stop-color="#00e2ff"/><stop offset="0.559" stop-color="#00ffff"/><stop offset="0.582" stop-color="#0bfff4"/><stop offset="0.65" stop-color="#59ffa6"/><stop offset="0.708" stop-color="#72ff8d"/><stop offset="0.766" stop-color="#caff35"/><stop offset="0.834" stop-color="#fbff04"/><stop offset="0.907" stop-color="#ffff00"/><stop offset="1" stop-color="#deff21"/></linearGradient>
<linearGradient id="g325" x1="0" y1="0" x2="0" y2="1"><stop offset="0" stop-color="#009fff"/><stop offset="0.349" stop-color="#00d7ff"/><stop offset="0.5" stop-color="#00e7ff"/><stop offset="0.548" stop-color="#00ffff"/><stop offset="0.582" stop-color="#10ffef"/><stop offset="0.708" stop-color="#a6ff59"/><stop offset="0.766" stop-color="#e2ff1d"/><stop offset="0.816" stop-color="#ffff00"/><stop offset="0.834" stop-color="#fff500"/><stop offset="0.907" stop-color="#ffe700"/><stop offset="1" stop-color="#fff800"/></linearGradient>
<linearGradient id="g326" x1="0" y1="0" x2="0" y2="1"><stop offset="0" stop-color="#00a0ff"/><stop offset="0.349" stop-color="#00d9ff"/><stop offset="0.5" stop-color="#00eaff"/><stop offset="0.542" stop-color="#00ffff"/><stop offset="0.582" stop-color="#14ffeb"/><stop offset="0.65" stop-color="#63ff9c"/><stop offset="0.708" stop-color="#8dff72"/><stop offset="0.766" stop-color="#cbff34"/><stop offset="0.834" stop-color="#f7ff08"/><stop offset="0.907" stop-color="#f8ff07"/><stop offset="1" stop-color="#d4ff2b"/></linearGradient>
<linearGradient id="g327" x1="0" y1="0" x2="0" y2="1"><stop offset="0" stop-color="#009dff"/><stop offset="0.5" stop-color="#00e7ff"/><stop offset="0.543" stop-color="#00ffff"/><stop offset="0.582" stop-color="#15ffea"/><stop offset="0.65" stop-color="#6dff92"/><stop offset="0.71" stop-color="#ffff00"/><stop offset="0.766" stop-color="#ffd400"/><stop offset="0.834" stop-color="#ffd400"/><stop offset="0.907" stop-color="#ffc400"/><stop offset="1" stop-color="#ffd200"/></linearGradient>
<linearGradient id="g328" x1="0" y1="0" x2="0" y2="1"><stop offset="0" stop-color="#009cff"/><stop offset="0.5" stop-color="#00e7ff"/><stop offset="0.542" stop-color="#00ffff"/><stop offset="0.582" stop-color="#17ffe8"/><stop offset="0.708" stop-color="#b6ff49"/><stop offset="0.798" stop-color="#ffff00"/><stop offset="0.834" stop-color="#ffe100"/><stop offset="0.907" stop-color="#ffd800"/><stop offset="1" stop-color="#fff100"/></linearGradient>
<linearGradient id="g329" x1="0" y1="0" x2="0" y2="1"><stop offset="0" stop-color="#009eff"/><stop offset="0.349" stop-color="#00d7ff"/><stop offset="0.5" stop-color="#00e8ff"/><stop offset="0.545" stop-color="#00ffff"/><stop offset="0.582" stop-color="#13ffec"/><stop offset="0.65" stop-color="#65ff9a"/><stop offset="0.708" stop-color="#91ff6e"/><stop offset="0.766" stop-color="#daff25"/><stop offset="0.849" stop-color="#ffff00"/><stop offset="0.907" stop-color="#fff700"/><stop offset="0.97" stop-color="#fbff04"/><stop offset="1" stop-color="#f0ff0f"/></linearGradient>
<linearGradient id="g330" x1="0" y1="0" x2="0" y2="1"><stop offset="0" stop-color="#00a1ff"/><stop offset="0.349" stop-color="#00daff"/><stop offset="0.5" stop-color="#00e9ff"/><stop offset="0.546" stop-color="#00ffff"/><stop offset="0.582" stop-color="#11ffee"/><stop offset="0.65" stop-color="#5cffa3"/><stop offset="0.708" stop-color="#e0ff1f"/><stop offset="0.738" stop-color="#ffff00"/><stop offset="0.766" stop-color="#ffe300"/><stop offset="0.834" stop-color="#ffd100"/><stop offset="0.907" stop-color="#ffcf00"/><stop offset="1" stop-color="#fff400"/></linearGradient>
<linearGradient id="g331" x1="0" y1="0" x2="0" y2="1"><stop offset="0" stop-color="#00a0ff"/><stop offset="0.349" stop-color="#00d8ff"/><stop offset="0.5" stop-color="#00e7ff"/><stop offset="0.552" stop-color="#00ffff"/><stop offset="0.582" stop-color="#0efff1"/><stop offset="0.65" stop-color="#56ffa9"/><stop offset="0.708" stop-color="#b1ff4e"/><stop offset="0.766" stop-color="#d6ff29"/><stop offset="0.802" stop-color="#ffff00"/><stop offset="0.834" stop-color="#ffda00"/><stop offset="0.907" stop-color="#ffd500"/><stop offset="1" stop-color="#fff300"/></linearGradient>
<linearGradient id="g332" x1="0" y1="0" x2="0" y2="1"><stop offset="0" stop-color="#009eff"/><stop offset="0.349" stop-color="#00d5ff"/><stop offset="0.5" stop-color="#00e4ff"/><stop offset="0.557" stop-color="#00ffff"/><stop offset="0.582" stop-color="#0cfff3"/><stop offset="0.65" stop-color="#56ffa9"/><stop offset="0.708" stop-color="#83ff7c"/><stop offset="0.766" stop-color="#c8ff37"/><stop offset="0.834" stop-color="#f0ff0f"/><stop offset="0.907" stop-color="#fcff03"/><stop offset="1" stop-color="#e8ff17"/></linearGradient>
<linearGradient id="g333" x1="0" y1="0" x2="0" y2="1"><stop offset="0" stop-color="#009aff"/><stop offset="0.349" stop-color="#00d1ff"/><stop offset="0.5" stop-color="#00e0ff"/><stop offset="0.567" stop-color="#00ffff"/><stop offset="0.582" stop-color="#07fff8"/><stop offset="0.65" stop-color="#50ffaf"/><stop offset="0.757" stop-color="#ffff00"/><stop offset="0.766" stop-color="#fff200"/><stop offset="0.834" stop-color="#ffc800"/><stop offset="0.907" stop-color="#ffc800"/><stop offset="1" stop-color="#ffed00"/></linearGradient>
<linearGradient id="g334" x1="0" y1="0" x2="0" y2="1"><stop offset="0" stop-color="#009aff"/><stop offset="0.349" stop-color="#00d0ff"/><stop offset="0.5" stop-color="#00deff"/><stop offset="0.582" stop-color="#02fffd"/><stop offset="0.65" stop-color="#46ffb9"/><stop offset="0.708" stop-color="#92ff6d"/><stop offset="0.766" stop-color="#eeff11"/><stop offset="0.788" stop-color="#ffff00"/><stop offset="0.834" stop-color="#ffdc00"/><stop offset="0.907" stop-color="#ffc800"/><stop offset="1" stop-color="#ffd100"/></linearGradient>
<linearGradient id="g335" x1="0" y1="0" x2="0" y2="1"><stop offset="0" stop-color="#00a3ff"/><stop offset="0.349" stop-color="#00d5ff"/><stop offset="0.5" stop-color="#00e2ff"/><stop offset="0.582" stop-color="#02fffd"/><stop offset="0.65" stop-color="#3effc1"/><stop offset="0.708" stop-color="#e8ff17"/><stop offset="0.724" stop-color="#ffff00"/><stop offset="0.766" stop-color="#ffc400"/><stop offset="0.907" stop-color="#ffc300"/><stop offset="1" stop-color="#ffe800"/></linearGradient>
<linearGradient id="g336" x1="0" y1="0" x2="0" y2="1"><stop offset="0" stop-color="#00a4ff"/><stop offset="0.15" stop-color="#00bdff"/><stop offset="0.5" stop-color="#00ddff"/><stop offset="0.585" stop-color="#00ffff"/><stop offset="0.65" stop-color="#3bffc4"/><stop offset="0.708" stop-color="#8fff70"/><stop offset="0.834" stop-color="#fdff02"/><stop offset="0.907" stop-color="#ffff00"/><stop offset="1" stop-color="#dbff24"/></linearGradient>
<linearGradient id="g337" x1="0" y1="0" x2="0" y2="1"><stop offset="0" stop-color="#009eff"/><stop offset="0.15" stop-color="#00b8ff"/><stop offset="0.5" stop-color="#00dbff"/><stop offset="0.583" stop-color="#00ffff"/><stop offset="0.65" stop-color="#42ffbd"/><stop offset="0.708" stop-color="#caff35"/><stop offset="0.756" stop-color="#ffff00"/><stop offset="0.766" stop-color="#fff300"/><stop offset="0.834" stop-color="#ffe100"/><stop offset="0.907" stop-color="#ffd800"/><stop offset="1" stop-color="#fff100"/></linearGradient>
<linearGradient id="g338" x1="0" y1="0" x2="0" y2="1"><stop offset="0" stop-color="#00a0ff"/><stop offset="0.349" stop-color="#00d4ff"/><stop offset="0.5" stop-color="#00e1ff"/><stop offset="0.582" stop-color="#03fffc"/><stop offset="0.65" stop-color="#43ffbc"/><stop offset="0.708" stop-color="#8fff70"/><stop offset="0.766" stop-color="#efff10"/><stop offset="0.791" stop-color="#ffff00"/><stop offset="0.834" stop-color="#ffe300"/><stop offset="0.907" stop-color="#ffd800"/><stop offset="1" stop-color="#ffed00"/></linearGradient>
<linearGradient id="g339" x1="0" y1="0" x2="0" y2="1"><stop offset="0" stop-color="#00a4ff"/><stop offset="0.349" stop-color="#00d6ff"/><stop offset="0.5" stop-color="#00e3ff"/><stop offset="0.582" stop-color="#02fffd"/><stop offset="0.65" stop-color="#3dffc2"/><stop offset="0.708" stop-color="#92ff6d"/><stop offset="0.813" stop-color="#ffff00"/><stop offset="0.834" stop-color="#ffe700"/><stop offset="0.907" stop-color="#ffdb00"/><stop offset="1" stop-color="#ffee00"/></linearGradient>
<linearGradient id="g340" x1="0" y1="0" x2="0" y2="1"><stop offset="0" stop-color="#00a8ff"/><stop offset="0.349" stop-color="#00dcff"/><stop offset="0.5" stop-color="#00e8ff"/><stop offset="0.561" stop-color="#00ffff"/><stop offset="0.582" stop-color="#08fff7"/><stop offset="0.708" stop-color="#7dff82"/><stop offset="0.766" stop-color="#ebff14"/><stop offset="0.797" stop-color="#ffff00"/><stop offset="0.834" stop-color="#ffe700"/><stop offset="0.907" stop-color="#ffe100"/><stop offset="1" stop-color="#fffd00"/></linearGradient>
<linearGradient id="g341" x1="0" y1="0" x2="0" y2="1"><stop offset="0" stop-color="#00abff"/><stop offset="0.349" stop-color="#00e1ff"/><stop offset="0.5" stop-color="#00eeff"/><stop offset="0.54" stop-color="#00ffff"/><stop offset="0.582" stop-color="#11ffee"/><stop offset="0.65" stop-color="#54ffab"/><stop offset="0.708" stop-color="#c9ff36"/><stop offset="0.766" stop-color="#e5ff1a"/><stop offset="0.793" stop-color="#ffff00"/><stop offset="0.834" stop-color="#ffd700"/><stop offset="0.907" stop-color="#ffd000"/><stop offset="1" stop-color="#ffeb00"/></linearGradient>
<linearGradient id="g342" x1="0" y1="0" x2="0" y2="1"><stop offset="0" stop-color="#00adff"/><stop offset="0.349" stop-color="#00e4ff"/><stop offset="0.5" stop-color="#00f1ff"/><stop offset="0.535" stop-color="#00ffff"/><stop offset="0.582" stop-color="#13ffec"/><stop offset="0.65" stop-color="#52ffad"/><stop offset="0.708" stop-color="#6bff94"/><stop offset="0.766" stop-color="#a5ff5a"/><stop offset="0.834" stop-color="#f8ff07"/><stop offset="0.907" stop-color="#ffff00"/><stop offset="1" stop-color="#e3ff1c"/></linearGradient>
<linearGradient id="g343" x1="0" y1="0" x2="0" y2="1"><stop offset="0" stop-color="#00acff"/><stop offset="0.349" stop-color="#00e2ff"/><stop offset="0.5" stop-color="#00efff"/><stop offset="0.539" stop-color="#00ffff"/><stop offset="0.582" stop-color="#12ffed"/><stop offset="0.65" stop-color="#53ffac"/><stop offset="0.708" stop-color="#e1ff1e"/><stop offset="0.73" stop-color="#ffff00"/><stop offset="0.766" stop-color="#ffd000"/><stop offset="0.834" stop-color="#ffb900"/><stop offset="0.907" stop-color="#ffb400"/><stop offset="1" stop-color="#ffd200"/></linearGradient>
<linearGradient id="g344" x1="0" y1="0" x2="0" y2="1"><stop offset="0" stop-color="#00e5ff"/><stop offset="0.153" stop-color="#00ffff"/><stop offset="0.349" stop-color="#37ffc8"/><stop offset="0.5" stop-color="#4affb5"/><stop offset="0.582" stop-color="#7aff85"/><stop offset="0.65" stop-color="#d6ff29"/><stop offset="0.664" stop-color="#ffff00"/><stop offset="0.708" stop-color="#ff7800"/><stop offset="0.766" stop-color="#ff5200"/><stop offset="0.907" stop-color="#ff5100"/><stop offset="1" stop-color="#ff8000"/></linearGradient>
<linearGradient id="g345" x1="0" y1="0" x2="0" y2="1"><stop offset="0" stop-color="#00e2ff"/><stop offset="0.163" stop-color="#00ffff"/><stop offset="0.349" stop-color="#32ffcd"/><stop offset="0.5" stop-color="#45ffba"/><stop offset="0.582" stop-color="#76ff89"/><stop offset="0.678" stop-color="#ffff00"/><stop offset="0.708" stop-color="#ffd000"/><stop offset="0.766" stop-color="#ffb800"/><stop offset="0.907" stop-color="#ffa000"/><stop offset="1" stop-color="#ffb200"/></linearGradient>
<linearGradient id="g346" x1="0" y1="0" x2="0" y2="1"><stop offset="0" stop-color="#00b0ff"/><stop offset="0.513" stop-color="#00ffff"/><stop offset="0.582" stop-color="#23ffdc"/><stop offset="0.65" stop-color="#74ff8b"/><stop offset="0.766" stop-color="#cbff34"/><stop offset="0.81" stop-color="#ffff00"/><stop offset="0.834" stop-color="#ffe200"/><stop offset="0.907" stop-color="#ffd800"/><stop offset="1" stop-color="#fff000"/></linearGradient>
<linearGradient id="g347" x1="0" y1="0" x2="0" y2="1"><stop offset="0" stop-color="#00acff"/><stop offset="0.509" stop-color="#00ffff"/><stop offset="0.582" stop-color="#2fffd0"/><stop offset="0.65" stop-color="#96ff69"/><stop offset="0.699" stop-color="#ffff00"/><stop offset="0.708" stop-color="#ffeb00"/><stop offset="0.766" stop-color="#ffc000"/><stop offset="0.907" stop-color="#ffa700"/><stop offset="1" stop-color="#ffbf00"/></linearGradient>
<linearGradient id="g348" x1="0" y1="0" x2="0" y2="1"><stop offset="0" stop-color="#00aaff"/><stop offset="0.5" stop-color="#00f5ff"/><stop offset="0.516" stop-color="#00ffff"/><stop offset="0.582" stop-color="#29ffd6"/><stop offset="0.65" stop-color="#8dff72"/><stop offset="0.709" stop-color="#ffff00"/><stop offset="0.766" stop-color="#ffd700"/><stop offset="0.834" stop-color="#ff9900"/><stop offset="0.907" stop-color="#ff9400"/><stop offset="1" stop-color="#ffb200"/></linearGradient>
<linearGradient id="g349" x1="0" y1="0" x2="0" y2="1"><stop offset="0" stop-color="#00abff"/><stop offset="0.5" stop-color="#00f4ff"/><stop offset="0.519" stop-color="#00ffff"/><stop offset="0.582" stop-color="#24ffdb"/><stop offset="0.65" stop-color="#81ff7e"/><stop offset="0.708" stop-color="#eeff11"/><stop offset="0.721" stop-color="#ffff00"/><stop offset="0.766" stop-color="#ffc300"/><stop offset="0.834" stop-color="#ffa100"/><stop offset="0.907" stop-color="#ff9700"/><stop offset="1" stop-color="#ffae00"/></linearGradient>
<linearGradient id="g350" x1="0" y1="0" x2="0" y2="1"><stop offset="0" stop-color="#00adff"/><stop offset="0.5" stop-color="#00f4ff"/><stop offset="0.521" stop-color="#00ffff"/><stop offset="0.582" stop-color="#20ffdf"/><stop offset="0.65" stop-color="#73ff8c"/><stop offset="0.766" stop-color="#daff25"/><stop offset="0.795" stop-color="#ffff00"/><stop offset="0.834" stop-color="#ffcd00"/><stop offset="0.907" stop-color="#ffc500"/><stop offset="1" stop-color="#ffdf00"/></linearGradient>
<linearGradient id="g351" x1="0" y1="0" x2="0" y2="1"><stop offset="0" stop-color="#00b0ff"/><stop offset="0.349" stop-color="#00e4ff"/><stop offset="0.5" stop-color="#00f1ff"/><stop offset="0.533" stop-color="#00ffff"/><stop offset="0.582" stop-color="#14ffeb"/><stop offset="0.65" stop-color="#54ffab"/><stop offset="0.708" stop-color="#c3ff3c"/><stop offset="0.766" stop-color="#fffa00"/><stop offset="0.834" stop-color="#ffe000"/><stop offset="0.907" stop-color="#ffd800"/><stop offset="1" stop-color="#fff200"/></linearGradient>
<linearGradient id="g352" x1="0" y1="0" x2="0" y2="1"><stop offset="0" stop-color="#00acff"/><stop offset="0.349" stop-color="#00e1ff"/><stop offset="0.5" stop-color="#00eeff"/><stop offset="0.541" stop-color="#00ffff"/><stop offset="0.582" stop-color="#11ffee"/><stop offset="0.65" stop-color="#52ffad"/><stop offset="0.708" stop-color="#f0ff0f"/><stop offset="0.728" stop-color="#ffff00"/><stop offset="0.766" stop-color="#ffe200"/><stop offset="0.834" stop-color="#ffc600"/><stop offset="0.907" stop-color="#ffb800"/><stop offset="1" stop-color="#ffc800"/></linearGradient>
<linearGradient id="g353" x1="0" y1="0" x2="0" y2="1"><stop offset="0" stop-color="#00abff"/><stop offset="0.349" stop-color="#00e0ff"/><stop offset="0.5" stop-color="#00eeff"/><stop offset="0.54" stop-color="#00ffff"/><stop offset="0.582" stop-color="#12ffed"/><stop offset="0.65" stop-color="#54ffab"/><stop offset="0.768" stop-color="#ffff00"/><stop offset="0.834" stop-color="#ffca00"/><stop offset="0.907" stop-color="#ffca00"/><stop offset="1" stop-color="#fff200"/></linearGradient>
<linearGradient id="g354" x1="0" y1="0" x2="0" y2="1"><stop offset="0" stop-color="#00b1ff"/><stop offset="0.349" stop-color="#00e7ff"/><stop offset="0.5" stop-color="#00f6ff"/><stop offset="0.52" stop-color="#00ffff"/><stop offset="0.582" stop-color="#1bffe4"/><stop offset="0.65" stop-color="#61ff9e"/><stop offset="0.708" stop-color="#b9ff46"/><stop offset="0.761" stop-color="#ffff00"/><stop offset="0.834" stop-color="#ffc100"/><stop offset="0.907" stop-color="#ffb800"/><stop offset="1" stop-color="#ffcf00"/></linearGradient>
<linearGradient id="g355" x1="0" y1="0" x2="0" y2="1"><stop offset="0" stop-color="#00b2ff"/><stop offset="0.5" stop-color="#05fffa"/><stop offset="0.582" stop-color="#5affa5"/><stop offset="0.65" stop-color="#c8ff37"/><stop offset="0.689" stop-color="#ffff00"/><stop offset="0.708" stop-color="#ffe500"/><stop offset="0.766" stop-color="#ffb800"/><stop offset="0.834" stop-color="#ffa200"/><stop offset="0.907" stop-color="#ff9f00"/><stop offset="1" stop-color="#ffc100"/></linearGradient>
<linearGradient id="g356" x1="0" y1="0" x2="0" y2="1"><stop offset="0" stop-color="#00b1ff"/><stop offset="0.5" stop-color="#00ffff"/><stop offset="0.582" stop-color="#41ffbe"/><stop offset="0.65" stop-color="#b0ff4f"/><stop offset="0.689" stop-color="#ffff00"/><stop offset="0.708" stop-color="#ffd700"/><stop offset="0.766" stop-color="#ffcf00"/><stop offset="0.834" stop-color="#ffba00"/><stop offset="0.907" stop-color="#ffb300"/><stop offset="1" stop-color="#ffcf00"/></linearGradient>
<linearGradient id="g357" x1="0" y1="0" x2="0" y2="1"><stop offset="0" stop-color="#00b4ff"/><stop offset="0.349" stop-color="#00e8ff"/><stop offset="0.5" stop-color="#00f6ff"/><stop offset="0.523" stop-color="#00ffff"/><stop offset="0.582" stop-color="#18ffe7"/><stop offset="0.65" stop-color="#58ffa7"/><stop offset="0.708" stop-color="#beff41"/><stop offset="0.766" stop-color="#c5ff3a"/><stop offset="0.812" stop-color="#ffff00"/><stop offset="0.834" stop-color="#ffe300"/><stop offset="0.907" stop-color="#ffd300"/><stop offset="1" stop-color="#ffe000"/></linearGradient>
<linearGradient id="g358" x1="0" y1="0" x2="0" y2="1"><stop offset="0" stop-color="#00c0ff"/><stop offset="0.349" stop-color="#00f5ff"/><stop offset="0.5" stop-color="#02fffd"/><stop offset="0.582" stop-color="#1effe1"/><stop offset="0.65" stop-color="#56ffa9"/><stop offset="0.766" stop-color="#fbff04"/><stop offset="0.834" stop-color="#ffcc00"/><stop offset="0.907" stop-color="#ffc900"/><stop offset="1" stop-color="#ffeb00"/></linearGradient>
<linearGradient id="g359" x1="0" y1="0" x2="0" y2="1"><stop offset="0" stop-color="#00bbff"/><stop offset="0.349" stop-color="#00f2ff"/><stop offset="0.502" stop-color="#00ffff"/><stop offset="0.582" stop-color="#1dffe2"/><stop offset="0.65" stop-color="#57ffa8"/><stop offset="0.708" stop-color="#94ff6b"/><stop offset="0.79" stop-color="#ffff00"/><stop offset="0.834" stop-color="#ffc200"/><stop offset="0.907" stop-color="#ffbb00"/><stop offset="1" stop-color="#ffd500"/></linearGradient>
<linearGradient id="g360" x1="0" y1="0" x2="0" y2="1"><stop offset="0" stop-color="#00b5ff"/><stop offset="0.514" stop-color="#00ffff"/><stop offset="0.582" stop-color="#1cffe3"/><stop offset="0.65" stop-color="#5cffa3"/><stop offset="0.799" stop-color="#ffff00"/><stop offset="0.834" stop-color="#ffdd00"/><stop offset="0.907" stop-color="#ffd700"/><stop offset="1" stop-color="#fff600"/></linearGradient>
<linearGradient id="g361" x1="0" y1="0" x2="0" y2="1"><stop offset="0" stop-color="#00baff"/><stop offset="0.349" stop-color="#00efff"/><stop offset="0.501" stop-color="#00ffff"/><stop offset="0.582" stop-color="#25ffda"/><stop offset="0.65" stop-color="#6fff90"/><stop offset="0.708" stop-color="#ebff14"/><stop offset="0.729" stop-color="#ffff00"/><stop offset="0.766" stop-color="#ffda00"/><stop offset="0.907" stop-color="#ffbb00"/><stop offset="1" stop-color="#ffcd00"/></linearGradient>
<linearGradient id="g362" x1="0" y1="0" x2="0" y2="1"><stop offset="0" stop-color="#00bcff"/><stop offset="0.349" stop-color="#00f1ff"/><stop offset="0.5" stop-color="#01fffe"/><stop offset="0.582" stop-color="#26ffd9"/><stop offset="0.65" stop-color="#6fff90"/><stop offset="0.708" stop-color="#d1ff2e"/><stop offset="0.766" stop-color="#daff25"/><stop offset="0.812" stop-color="#ffff00"/><stop offset="0.834" stop-color="#ffed00"/><stop offset="0.907" stop-color="#ffe900"/><stop offset="0.976" stop-color="#ffff00"/><stop offset="1" stop-color="#f3ff0c"/></linearGradient>
<linearGradient id="g363" x1="0" y1="0" x2="0" y2="1"><stop offset="0" stop-color="#00beff"/><stop offset="0.349" stop-color="#00f2ff"/><stop offset="0.5" stop-color="#01fffe"/><stop offset="0.582" stop-color="#22ffdd"/><stop offset="0.65" stop-color="#61ff9e"/><stop offset="0.708" stop-color="#c3ff3c"/><stop offset="0.772" stop-color="#ffff00"/><stop offset="0.834" stop-color="#ffc500"/><stop offset="0.907" stop-color="#ffc500"/><stop offset="1" stop-color="#ffed00"/></linearGradient>
<linearGradient id="g364" x1="0" y1="0" x2="0" y2="1"><stop offset="0" stop-color="#00c0ff"/><stop offset="0.349" stop-color="#00f4ff"/><stop offset="0.5" stop-color="#00ffff"/><stop offset="0.582" stop-color="#1dffe2"/><stop offset="0.65" stop-color="#55ffaa"/><stop offset="0.766" stop-color="#e2ff1d"/><stop offset="0.793" stop-color="#ffff00"/><stop offset="0.834" stop-color="#ffd400"/><stop offset="0.907" stop-color="#ffc900"/><stop offset="1" stop-color="#ffde00"/></linearGradient>
<linearGradient id="g365" x1="0" y1="0" x2="0" y2="1"><stop offset="0" stop-color="#00c3ff"/><stop offset="0.349" stop-color="#00f7ff"/><stop offset="0.5" stop-color="#03fffc"/><stop offset="0.582" stop-color="#1dffe2"/><stop offset="0.65" stop-color="#51ffae"/><stop offset="0.708" stop-color="#c3ff3c"/><stop offset="0.771" stop-color="#ffff00"/><stop offset="0.834" stop-color="#ffb700"/><stop offset="0.907" stop-color="#ffb100"/><stop offset="1" stop-color="#ffcd00"/></linearGradient>
<linearGradient id="g366" x1="0" y1="0" x2="0" y2="1"><stop offset="0" stop-color="#00c4ff"/><stop offset="0.349" stop-color="#00f8ff"/><stop offset="0.5" stop-color="#05fffa"/><stop offset="0.582" stop-color="#23ffdc"/><stop offset="0.65" stop-color="#5dffa2"/><stop offset="0.708" stop-color="#ecff13"/><stop offset="0.719" stop-color="#ffff00"/><stop offset="0.766" stop-color="#ffa700"/><stop offset="0.834" stop-color="#ff7700"/><stop offset="0.907" stop-color="#ff7000"/><stop offset="1" stop-color="#ff8c00"/></linearGradient>
<linearGradient id="g367" x1="0" y1="0" x2="0" y2="1"><stop offset="0" stop-color="#00c4ff"/><stop offset="0.349" stop-color="#00f7ff"/><stop offset="0.5" stop-color="#06fff9"/><stop offset="0.582" stop-color="#29ffd6"/><stop offset="0.65" stop-color="#6cff93"/><stop offset="0.688" stop-color="#ffff00"/><stop offset="0.708" stop-color="#ffb200"/><stop offset="0.766" stop-color="#ff8100"/><stop offset="0.907" stop-color="#ff6c00"/><stop offset="1" stop-color="#ff7d00"/></linearGradient>
<linearGradient id="g368" x1="0" y1="0" x2="0" y2="1"><stop offset="0" stop-color="#00c6ff"/><stop offset="0.349" stop-color="#00f9ff"/><stop offset="0.5" stop-color="#06fff9"/><stop offset="0.582" stop-color="#26ffd9"/><stop offset="0.65" stop-color="#63ff9c"/><stop offset="0.708" stop-color="#ccff33"/><stop offset="0.755" stop-color="#ffff00"/><stop offset="0.834" stop-color="#ffa800"/><stop offset="0.907" stop-color="#ffa400"/><stop offset="1" stop-color="#ffc500"/></linearGradient>
<linearGradient id="g369" x1="0" y1="0" x2="0" y2="1"><stop offset="0" stop-color="#00c8ff"/><stop offset="0.404" stop-color="#00ffff"/><stop offset="0.5" stop-color="#07fff8"/><stop offset="0.582" stop-color="#24ffdb"/><stop offset="0.65" stop-color="#5bffa4"/><stop offset="0.708" stop-color="#acff53"/><stop offset="0.825" stop-color="#ffff00"/><stop offset="0.834" stop-color="#fff700"/><stop offset="0.907" stop-color="#fff100"/><stop offset="0.97" stop-color="#feff01"/><stop offset="1" stop-color="#f1ff0e"/></linearGradient>
<linearGradient id="g370" x1="0" y1="0" x2="0" y2="1"><stop offset="0" stop-color="#00c8ff"/><stop offset="0.349" stop-color="#00fbff"/><stop offset="0.5" stop-color="#07fff8"/><stop offset="0.582" stop-color="#23ffdc"/><stop offset="0.65" stop-color="#59ffa6"/><stop offset="0.708" stop-color="#75ff8a"/><stop offset="0.766" stop-color="#d8ff27"/><stop offset="0.813" stop-color="#ffff00"/><stop offset="0.834" stop-color="#ffee00"/><stop offset="0.907" stop-color="#ffe400"/><stop offset="1" stop-color="#fffd00"/></linearGradient>
<linearGradient id="g371" x1="0" y1="0" x2="0" y2="1"><stop offset="0" stop-color="#00c7ff"/><stop offset="0.349" stop-color="#00f9ff"/><stop offset="0.5" stop-color="#04fffb"/><stop offset="0.582" stop-color="#1effe1"/><stop offset="0.708" stop-color="#7eff81"/><stop offset="0.813" stop-color="#ffff00"/><stop offset="0.834" stop-color="#ffe500"/><stop offset="0.907" stop-color="#ffdb00"/><stop offset="1" stop-color="#fff100"/></linearGradient>
<linearGradient id="g372" x1="0" y1="0" x2="0" y2="1"><stop offset="0" stop-color="#00c9ff"/><stop offset="0.349" stop-color="#00faff"/><stop offset="0.5" stop-color="#06fff9"/><stop offset="0.582" stop-color="#1fffe0"/><stop offset="0.65" stop-color="#51ffae"/><stop offset="0.766" stop-color="#e7ff18"/><stop offset="0.809" stop-color="#ffff00"/><stop offset="0.834" stop-color="#fff100"/><stop offset="0.907" stop-color="#ffeb00"/><stop offset="0.978" stop-color="#ffff00"/><stop offset="1" stop-color="#f5ff0a"/></linearGradient>
<linearGradient id="g373" x1="0" y1="0" x2="0" y2="1"><stop offset="0" stop-color="#00ccff"/><stop offset="0.359" stop-color="#00ffff"/><stop offset="0.5" stop-color="#0afff5"/><stop offset="0.582" stop-color="#24ffdb"/><stop offset="0.65" stop-color="#57ffa8"/><stop offset="0.708" stop-color="#90ff6f"/><stop offset="0.766" stop-color="#e4ff1b"/><stop offset="0.801" stop-color="#ffff00"/><stop offset="0.834" stop-color="#ffe600"/><stop offset="0.907" stop-color="#ffd800"/><stop offset="1" stop-color="#ffe900"/></linearGradient>
<linearGradient id="g374" x1="0" y1="0" x2="0" y2="1"><stop offset="0" stop-color="#00ccff"/><stop offset="0.349" stop-color="#00ffff"/><stop offset="0.5" stop-color="#0bfff4"/><stop offset="0.582" stop-color="#25ffda"/><stop offset="0.65" stop-color="#58ffa7"/><stop offset="0.708" stop-color="#a7ff58"/><stop offset="0.766" stop-color="#bfff40"/><stop offset="0.825" stop-color="#ffff00"/><stop offset="0.834" stop-color="#fff500"/><stop offset="0.907" stop-color="#ffe100"/><stop offset="1" stop-color="#ffe800"/></linearGradient>
<linearGradient id="g375" x1="0" y1="0" x2="0" y2="1"><stop offset="0" stop-color="#00cdff"/><stop offset="0.349" stop-color="#00ffff"/><stop offset="0.5" stop-color="#0bfff4"/><stop offset="0.582" stop-color="#27ffd8"/><stop offset="0.65" stop-color="#5effa1"/><stop offset="0.708" stop-color="#aeff51"/><stop offset="0.802" stop-color="#ffff00"/><stop offset="0.834" stop-color="#ffde00"/><stop offset="0.907" stop-color="#ffd800"/><stop offset="1" stop-color="#fff500"/></linearGradient>
<linearGradient id="g376" x1="0" y1="0" x2="0" y2="1"><stop offset="0" stop-color="#00cbff"/><stop offset="0.349" stop-color="#01fffe"/><stop offset="0.5" stop-color="#0cfff3"/><stop offset="0.582" stop-color="#26ffd9"/><stop offset="0.708" stop-color="#85ff7a"/><stop offset="0.766" stop-color="#d3ff2c"/><stop offset="0.813" stop-color="#ffff00"/><stop offset="0.834" stop-color="#ffea00"/><stop offset="0.907" stop-color="#ffd800"/><stop offset="1" stop-color="#ffe200"/></linearGradient>
<linearGradient id="g377" x1="0" y1="0" x2="0" y2="1"><stop offset="0" stop-color="#00cbff"/><stop offset="0.357" stop-color="#00ffff"/><stop offset="0.5" stop-color="#0bfff4"/><stop offset="0.582" stop-color="#27ffd8"/><stop offset="0.65" stop-color="#5effa1"/><stop offset="0.708" stop-color="#b4ff4b"/><stop offset="0.766" stop-color="#f5ff0a"/><stop offset="0.786" stop-color="#ffff00"/><stop offset="0.834" stop-color="#ffe700"/><stop offset="0.907" stop-color="#ffe900"/><stop offset="0.97" stop-color="#fcff03"/><stop offset="1" stop-color="#eaff15"/></linearGradient>
<linearGradient id="g378" x1="0" y1="0" x2="0" y2="1"><stop offset="0" stop-color="#00cdff"/><stop offset="0.349" stop-color="#01fffe"/><stop offset="0.5" stop-color="#0dfff2"/><stop offset="0.582" stop-color="#2bffd4"/><stop offset="0.708" stop-color="#8eff71"/><stop offset="0.766" stop-color="#c5ff3a"/><stop offset="0.834" stop-color="#e0ff1f"/><stop offset="0.907" stop-color="#f0ff0f"/><stop offset="1" stop-color="#e2ff1d"/></linearGradient>
<linearGradient id="g379" x1="0" y1="0" x2="0" y2="1"><stop offset="0" stop-color="#00c9ff"/><stop offset="0.354" stop-color="#00ffff"/><stop offset="0.5" stop-color="#0cfff3"/><stop offset="0.582" stop-color="#2dffd2"/><stop offset="0.65" stop-color="#6bff94"/><stop offset="0.708" stop-color="#91ff6e"/><stop offset="0.766" stop-color="#f4ff0b"/><stop offset="0.781" stop-color="#ffff00"/><stop offset="0.834" stop-color="#ffd500"/><stop offset="0.907" stop-color="#ffce00"/><stop offset="1" stop-color="#ffeb00"/></linearGradient>
<linearGradient id="g380" x1="0" y1="0" x2="0" y2="1"><stop offset="0" stop-color="#00c5ff"/><stop offset="0.421" stop-color="#00ffff"/><stop offset="0.5" stop-color="#07fff8"/><stop offset="0.582" stop-color="#28ffd7"/><stop offset="0.65" stop-color="#68ff97"/><stop offset="0.708" stop-color="#fffe00"/><stop offset="0.766" stop-color="#ffc300"/><stop offset="0.907" stop-color="#ffba00"/><stop offset="1" stop-color="#ffd200"/></linearGradient>
<linearGradient id="g381" x1="0" y1="0" x2="0" y2="1"><stop offset="0" stop-color="#00bfff"/><stop offset="0.349" stop-color="#00f3ff"/><stop offset="0.5" stop-color="#02fffd"/><stop offset="0.582" stop-color="#26ffd9"/><stop offset="0.65" stop-color="#6bff94"/><stop offset="0.691" stop-color="#ffff00"/><stop offset="0.708" stop-color="#ffc300"/><stop offset="0.766" stop-color="#ff9600"/><stop offset="0.834" stop-color="#ff7f00"/><stop offset="0.907" stop-color="#ff7900"/><stop offset="1" stop-color="#ff9500"/></linearGradient>
<linearGradient id="g382" x1="0" y1="0" x2="0" y2="1"><stop offset="0" stop-color="#00b6ff"/><stop offset="0.502" stop-color="#00ffff"/><stop offset="0.582" stop-color="#28ffd7"/><stop offset="0.65" stop-color="#79ff86"/><stop offset="0.686" stop-color="#ffff00"/><stop offset="0.708" stop-color="#ffad00"/><stop offset="0.766" stop-color="#ff8000"/><stop offset="0.907" stop-color="#ff7200"/><stop offset="1" stop-color="#ff9100"/></linearGradient>
<linearGradient id="g383" x1="0" y1="0" x2="0" y2="1"><stop offset="0" stop-color="#00b5ff"/><stop offset="0.5" stop-color="#00ffff"/><stop offset="0.582" stop-color="#2cffd3"/><stop offset="0.65" stop-color="#81ff7e"/><stop offset="0.708" stop-color="#bfff40"/><stop offset="0.747" stop-color="#ffff00"/><stop offset="0.766" stop-color="#ffe000"/><stop offset="0.834" stop-color="#ffb300"/><stop offset="0.907" stop-color="#ffb100"/><stop offset="1" stop-color="#ffd500"/></linearGradient>
<linearGradient id="g384" x1="0" y1="0" x2="0" y2="1"><stop offset="0" stop-color="#00b7ff"/><stop offset="0.5" stop-color="#00ffff"/><stop offset="0.582" stop-color="#2bffd4"/><stop offset="0.65" stop-color="#7eff81"/><stop offset="0.784" stop-color="#ffff00"/><stop offset="0.834" stop-color="#ffd700"/><stop offset="0.907" stop-color="#ffd000"/><stop offset="1" stop-color="#ffed00"/></linearGradient>
<linearGradient id="g385" x1="0" y1="0" x2="0" y2="1"><stop offset="0" stop-color="#00b9ff"/><stop offset="0.503" stop-color="#00ffff"/><stop offset="0.582" stop-color="#24ffdb"/><stop offset="0.65" stop-color="#6bff94"/><stop offset="0.708" stop-color="#94ff6b"/><stop offset="0.766" stop-color="#deff21"/><stop offset="0.834" stop-color="#ffff00"/><stop offset="0.907" stop-color="#ffef00"/><stop offset="1" stop-color="#fffe00"/></linearGradient>
<linearGradient id="g386" x1="0" y1="0" x2="0" y2="1"><stop offset="0" stop-color="#00b5ff"/><stop offset="0.508" stop-color="#00ffff"/><stop offset="0.582" stop-color="#22ffdd"/><stop offset="0.65" stop-color="#6bff94"/><stop offset="0.708" stop-color="#e0ff1f"/><stop offset="0.766" stop-color="#f5ff0a"/><stop offset="0.778" stop-color="#ffff00"/><stop offset="0.834" stop-color="#ffce00"/><stop offset="0.907" stop-color="#ffc000"/><stop offset="1" stop-color="#ffd000"/></linearGradient>
<linearGradient id="g387" x1="0" y1="0" x2="0" y2="1"><stop offset="0" stop-color="#00b0ff"/><stop offset="0.512" stop-color="#00ffff"/><stop offset="0.582" stop-color="#21ffde"/><stop offset="0.65" stop-color="#6cff93"/><stop offset="0.708" stop-color="#8aff75"/><stop offset="0.766" stop-color="#deff21"/><stop offset="0.811" stop-color="#ffff00"/><stop offset="0.834" stop-color="#ffee00"/><stop offset="0.907" stop-color="#ffe700"/><stop offset="1" stop-color="#fbff04"/></linearGradient>
<linearGradient id="g388" x1="0" y1="0" x2="0" y2="1"><stop offset="0" stop-color="#00acff"/><stop offset="0.349" stop-color="#00e9ff"/><stop offset="0.516" stop-color="#00ffff"/><stop offset="0.582" stop-color="#1dffe2"/><stop offset="0.65" stop-color="#64ff9b"/><stop offset="0.708" stop-color="#bbff44"/><stop offset="0.761" stop-color="#ffff00"/><stop offset="0.834" stop-color="#ffbe00"/><stop offset="0.907" stop-color="#ffb800"/><stop offset="1" stop-color="#ffd600"/></linearGradient>
<linearGradient id="g389" x1="0" y1="0" x2="0" y2="1"><stop offset="0" stop-color="#00aeff"/><stop offset="0.514" stop-color="#00ffff"/><stop offset="0.582" stop-color="#20ffdf"/><stop offset="0.65" stop-color="#6aff95"/><stop offset="0.708" stop-color="#83ff7c"/><stop offset="0.766" stop-color="#bdff42"/><stop offset="0.82" stop-color="#ffff00"/><stop offset="0.834" stop-color="#ffed00"/><stop offset="0.907" stop-color="#ffe800"/><stop offset="0.981" stop-color="#ffff00"/><stop offset="1" stop-color="#f6ff09"/></linearGradient>
<linearGradient id="g390" x1="0" y1="0" x2="0" y2="1"><stop offset="0" stop-color="#00b0ff"/><stop offset="0.512" stop-color="#00ffff"/><stop offset="0.582" stop-color="#23ffdc"/><stop offset="0.708" stop-color="#bfff40"/><stop offset="0.754" stop-color="#ffff00"/><stop offset="0.766" stop-color="#ffef00"/><stop offset="0.834" stop-color="#ffd400"/><stop offset="0.907" stop-color="#ffd200"/><stop offset="1" stop-color="#fff500"/></linearGradient>
<linearGradient id="g391" x1="0" y1="0" x2="0" y2="1"><stop offset="0" stop-color="#00b0ff"/><stop offset="0.506" stop-color="#00ffff"/><stop offset="0.582" stop-color="#2bffd4"/><stop offset="0.65" stop-color="#85ff7a"/><stop offset="0.708" stop-color="#f9ff06"/><stop offset="0.714" stop-color="#ffff00"/><stop offset="0.766" stop-color="#ffca00"/><stop offset="0.907" stop-color="#ffa100"/><stop offset="1" stop-color="#ffab00"/></linearGradient>
<linearGradient id="g392" x1="0" y1="0" x2="0" y2="1"><stop offset="0" stop-color="#00aeff"/><stop offset="0.5" stop-color="#00f7ff"/><stop offset="0.514" stop-color="#00ffff"/><stop offset="0.582" stop-color="#25ffda"/><stop offset="0.65" stop-color="#7aff85"/><stop offset="0.708" stop-color="#91ff6e"/><stop offset="0.766" stop-color="#d6ff29"/><stop offset="0.815" stop-color="#ffff00"/><stop offset="0.834" stop-color="#ffef00"/><stop offset="0.907" stop-color="#ffe300"/><stop offset="1" stop-color="#fff700"/></linearGradient>
<linearGradient id="g393" x1="0" y1="0" x2="0" y2="1"><stop offset="0" stop-color="#00aeff"/><stop offset="0.349" stop-color="#00e6ff"/><stop offset="0.5" stop-color="#00f5ff"/><stop offset="0.52" stop-color="#00ffff"/><stop offset="0.582" stop-color="#1dffe2"/><stop offset="0.708" stop-color="#acff53"/><stop offset="0.796" stop-color="#ffff00"/><stop offset="0.834" stop-color="#ffd600"/><stop offset="0.907" stop-color="#ffcd00"/><stop offset="1" stop-color="#ffe600"/></linearGradient>
<linearGradient id="g394" x1="0" y1="0" x2="0" y2="1"><stop offset="0" stop-color="#00b1ff"/><stop offset="0.349" stop-color="#00e8ff"/><stop offset="0.5" stop-color="#00f6ff"/><stop offset="0.521" stop-color="#00ffff"/><stop offset="0.582" stop-color="#19ffe6"/><stop offset="0.65" stop-color="#5bffa4"/><stop offset="0.708" stop-color="#bdff42"/><stop offset="0.784" stop-color="#ffff00"/><stop offset="0.834" stop-color="#ffda00"/><stop offset="0.907" stop-color="#ffd400"/><stop offset="1" stop-color="#fff100"/></linearGradient>
<linearGradient id="g395" x1="0" y1="0" x2="0" y2="1"><stop offset="0" stop-color="#00b2ff"/><stop offset="0.349" stop-color="#00e7ff"/><stop offset="0.5" stop-color="#00f3ff"/><stop offset="0.534" stop-color="#00ffff"/><stop offset="0.582" stop-color="#11ffee"/><stop offset="0.65" stop-color="#49ffb6"/><stop offset="0.708" stop-color="#e1ff1e"/><stop offset="0.73" stop-color="#ffff00"/><stop offset="0.766" stop-color="#ffce00"/><stop offset="0.907" stop-color="#ffcb00"/><stop offset="1" stop-color="#ffed00"/></linearGradient>
<linearGradient id="g396" x1="0" y1="0" x2="0" y2="1"><stop offset="0" stop-color="#00adff"/><stop offset="0.349" stop-color="#00e3ff"/><stop offset="0.5" stop-color="#00efff"/><stop offset="0.544" stop-color="#00ffff"/><stop offset="0.582" stop-color="#0efff1"/><stop offset="0.65" stop-color="#47ffb8"/><stop offset="0.708" stop-color="#b6ff49"/><stop offset="0.794" stop-color="#ffff00"/><stop offset="0.834" stop-color="#ffdb00"/><stop offset="0.907" stop-color="#ffcb00"/><stop offset="1" stop-color="#ffda00"/></linearGradient>
<linearGradient id="g397" x1="0" y1="0" x2="0" y2="1"><stop offset="0" stop-color="#009fff"/><stop offset="0.5" stop-color="#00e5ff"/><stop offset="0.549" stop-color="#00ffff"/><stop offset="0.582" stop-color="#11ffee"/><stop offset="0.65" stop-color="#64ff9b"/><stop offset="0.708" stop-color="#dfff20"/><stop offset="0.766" stop-color="#dbff24"/><stop offset="0.787" stop-color="#ffff00"/><stop offset="0.834" stop-color="#ffad00"/><stop offset="0.907" stop-color="#ffa000"/><stop offset="1" stop-color="#ffb300"/></linearGradient>
<linearGradient id="g398" x1="0" y1="0" x2="0" y2="1"><stop offset="0" stop-color="#0095ff"/><stop offset="0.5" stop-color="#00dbff"/><stop offset="0.568" stop-color="#00ffff"/><stop offset="0.582" stop-color="#07fff8"/><stop offset="0.766" stop-color="#e8ff17"/><stop offset="0.785" stop-color="#ffff00"/><stop offset="0.834" stop-color="#ffc500"/><stop offset="0.907" stop-color="#ffc100"/><stop offset="1" stop-color="#ffe300"/></linearGradient>
<linearGradient id="g399" x1="0" y1="0" x2="0" y2="1"><stop offset="0" stop-color="#008eff"/><stop offset="0.349" stop-color="#00c2ff"/><stop offset="0.5" stop-color="#00d0ff"/><stop offset="0.582" stop-color="#00f3ff"/><stop offset="0.593" stop-color="#00ffff"/><stop offset="0.65" stop-color="#39ffc6"/><stop offset="0.708" stop-color="#67ff98"/><stop offset="0.766" stop-color="#a6ff59"/><stop offset="0.829" stop-color="#ffff00"/><stop offset="0.834" stop-color="#fff700"/><stop offset="0.907" stop-color="#ffe900"/><stop offset="1" stop-color="#fffa00"/></linearGradient>
<linearGradient id="g400" x1="0" y1="0" x2="0" y2="1"><stop offset="0" stop-color="#0084ff"/><stop offset="0.349" stop-color="#00b8ff"/><stop offset="0.5" stop-color="#00c7ff"/><stop offset="0.582" stop-color="#00ecff"/><stop offset="0.6" stop-color="#00ffff"/><stop offset="0.708" stop-color="#6aff95"/><stop offset="0.766" stop-color="#bdff42"/><stop offset="0.827" stop-color="#ffff00"/><stop offset="0.834" stop-color="#fff700"/><stop offset="0.907" stop-color="#fff400"/><stop offset="0.97" stop-color="#f6ff09"/><stop offset="1" stop-color="#e7ff18"/></linearGradient>
<linearGradient id="g401" x1="0" y1="0" x2="0" y2="1"><stop offset="0" stop-color="#0085ff"/><stop offset="0.5" stop-color="#00cbff"/><stop offset="0.588" stop-color="#00ffff"/><stop offset="0.708" stop-color="#8eff71"/><stop offset="0.828" stop-color="#ffff00"/><stop offset="0.907" stop-color="#ffee00"/><stop offset="1" stop-color="#fcff03"/></linearGradient>
<linearGradient id="g402" x1="0" y1="0" x2="0" y2="1"><stop offset="0" stop-color="#007bff"/><stop offset="0.5" stop-color="#00c5ff"/><stop offset="0.582" stop-color="#00f2ff"/><stop offset="0.592" stop-color="#00ffff"/><stop offset="0.708" stop-color="#a0ff5f"/><stop offset="0.805" stop-color="#ffff00"/><stop offset="0.834" stop-color="#ffe000"/><stop offset="0.907" stop-color="#ffdc00"/><stop offset="1" stop-color="#fffe00"/></linearGradient>
<linearGradient id="g403" x1="0" y1="0" x2="0" y2="1"><stop offset="0" stop-color="#0085ff"/><stop offset="0.5" stop-color="#00d0ff"/><stop offset="0.582" stop-color="#00ffff"/><stop offset="0.65" stop-color="#5cffa3"/><stop offset="0.708" stop-color="#ceff31"/><stop offset="0.793" stop-color="#ffff00"/><stop offset="0.834" stop-color="#ffe500"/><stop offset="0.907" stop-color="#ffde00"/><stop offset="1" stop-color="#fffb00"/></linearGradient>
<linearGradient id="g404" x1="0" y1="0" x2="0" y2="1"><stop offset="0" stop-color="#0085ff"/><stop offset="0.5" stop-color="#00cdff"/><stop offset="0.585" stop-color="#00ffff"/><stop offset="0.708" stop-color="#9eff61"/><stop offset="0.766" stop-color="#f2ff0d"/><stop offset="0.798" stop-color="#ffff00"/><stop offset="0.834" stop-color="#fff000"/><stop offset="0.907" stop-color="#ffe500"/><stop offset="1" stop-color="#fffa00"/></linearGradient>
<linearGradient id="g405" x1="0" y1="0" x2="0" y2="1"><stop offset="0" stop-color="#0083ff"/><stop offset="0.5" stop-color="#00ccff"/><stop offset="0.587" stop-color="#00ffff"/><stop offset="0.65" stop-color="#4effb1"/><stop offset="0.766" stop-color="#b7ff48"/><stop offset="0.818" stop-color="#ffff00"/><stop offset="0.834" stop-color="#ffe700"/><stop offset="0.907" stop-color="#ffdd00"/><stop offset="1" stop-color="#fff300"/></linearGradient>
<linearGradient id="g406" x1="0" y1="0" x2="0" y2="1"><stop offset="0" stop-color="#007cff"/><stop offset="0.5" stop-color="#00c7ff"/><stop offset="0.582" stop-color="#00f4ff"/><stop offset="0.591" stop-color="#00ffff"/><stop offset="0.65" stop-color="#4bffb4"/><stop offset="0.708" stop-color="#baff45"/><stop offset="0.754" stop-color="#ffff00"/><stop offset="0.766" stop-color="#ffed00"/><stop offset="0.834" stop-color="#ffed00"/><stop offset="0.907" stop-color="#ffe000"/><stop offset="1" stop-color="#fff100"/></linearGradient>
<linearGradient id="g407" x1="0" y1="0" x2="0" y2="1"><stop offset="0" stop-color="#007eff"/><stop offset="0.5" stop-color="#00ccff"/><stop offset="0.56" stop-color="#00ffff"/><stop offset="0.582" stop-color="#12ffed"/><stop offset="0.65" stop-color="#80ff7f"/><stop offset="0.708" stop-color="#cdff32"/><stop offset="0.79" stop-color="#ffff00"/><stop offset="0.834" stop-color="#ffe700"/><stop offset="0.907" stop-color="#ffe200"/><stop offset="1" stop-color="#fbff04"/></linearGradient>
<linearGradient id="g408" x1="0" y1="0" x2="0" y2="1"><stop offset="0" stop-color="#007dff"/><stop offset="0.5" stop-color="#00cbff"/><stop offset="0.568" stop-color="#00ffff"/><stop offset="0.582" stop-color="#0bfff4"/><stop offset="0.65" stop-color="#79ff86"/><stop offset="0.708" stop-color="#c1ff3e"/><stop offset="0.794" stop-color="#ffff00"/><stop offset="0.834" stop-color="#ffdd00"/><stop offset="0.907" stop-color="#ffcc00"/><stop offset="1" stop-color="#ffd800"/></linearGradient>
<linearGradient id="g409" x1="0" y1="0" x2="0" y2="1"><stop offset="0" stop-color="#0076ff"/><stop offset="0.5" stop-color="#00c4ff"/><stop offset="0.584" stop-color="#00ffff"/><stop offset="0.65" stop-color="#67ff98"/><stop offset="0.708" stop-color="#a7ff58"/><stop offset="0.769" stop-color="#ffff00"/><stop offset="0.834" stop-color="#ffd900"/><stop offset="0.907" stop-color="#ffc900"/><stop offset="1" stop-color="#ffd800"/></linearGradient>
<linearGradient id="g410" x1="0" y1="0" x2="0" y2="1"><stop offset="0" stop-color="#0075ff"/><stop offset="0.5" stop-color="#00c7ff"/><stop offset="0.582" stop-color="#01fffe"/><stop offset="0.65" stop-color="#6eff91"/><stop offset="0.708" stop-color="#85ff7a"/><stop offset="0.766" stop-color="#cfff30"/><stop offset="0.825" stop-color="#ffff00"/><stop offset="0.834" stop-color="#fff700"/><stop offset="0.907" stop-color="#ffef00"/><stop offset="0.976" stop-color="#ffff00"/><stop offset="1" stop-color="#f6ff09"/></linearGradient>
<linearGradient id="g411" x1="0" y1="0" x2="0" y2="1"><stop offset="0" stop-color="#006eff"/><stop offset="0.5" stop-color="#00beff"/><stop offset="0.585" stop-color="#00ffff"/><stop offset="0.65" stop-color="#69ff96"/><stop offset="0.708" stop-color="#80ff7f"/><stop offset="0.766" stop-color="#b2ff4d"/><stop offset="0.834" stop-color="#f7ff08"/><stop offset="0.925" stop-color="#ffff00"/><stop offset="1" stop-color="#edff12"/></linearGradient>
<linearGradient id="g412" x1="0" y1="0" x2="0" y2="1"><stop offset="0" stop-color="#0063ff"/><stop offset="0.5" stop-color="#00acff"/><stop offset="0.582" stop-color="#00e5ff"/><stop offset="0.598" stop-color="#00ffff"/><stop offset="0.65" stop-color="#54ffab"/><stop offset="0.708" stop-color="#d7ff28"/><stop offset="0.738" stop-color="#ffff00"/><stop offset="0.766" stop-color="#ffdb00"/><stop offset="0.834" stop-color="#ffca00"/><stop offset="0.907" stop-color="#ffc500"/><stop offset="1" stop-color="#ffe500"/></linearGradient>
<linearGradient id="g413" x1="0" y1="0" x2="0" y2="1"><stop offset="0" stop-color="#006aff"/><stop offset="0.5" stop-color="#00b4ff"/><stop offset="0.582" stop-color="#00ebff"/><stop offset="0.595" stop-color="#00ffff"/><stop offset="0.708" stop-color="#abff54"/><stop offset="0.766" stop-color="#d3ff2c"/><stop offset="0.796" stop-color="#ffff00"/><stop offset="0.834" stop-color="#ffc700"/><stop offset="0.907" stop-color="#ffbf00"/><stop offset="1" stop-color="#ffda00"/></linearGradient>
<linearGradient id="g414" x1="0" y1="0" x2="0" y2="1"><stop offset="0" stop-color="#006cff"/><stop offset="0.5" stop-color="#00beff"/><stop offset="0.585" stop-color="#00ffff"/><stop offset="0.708" stop-color="#c7ff38"/><stop offset="0.76" stop-color="#ffff00"/><stop offset="0.834" stop-color="#ffaa00"/><stop offset="0.907" stop-color="#ffa800"/><stop offset="1" stop-color="#ffcd00"/></linearGradient>
<linearGradient id="g415" x1="0" y1="0" x2="0" y2="1"><stop offset="0" stop-color="#004eff"/><stop offset="0.5" stop-color="#0099ff"/><stop offset="0.582" stop-color="#00d3ff"/><stop offset="0.609" stop-color="#00ffff"/><stop offset="0.65" stop-color="#42ffbd"/><stop offset="0.708" stop-color="#d1ff2e"/><stop offset="0.734" stop-color="#ffff00"/><stop offset="0.766" stop-color="#ffc600"/><stop offset="0.907" stop-color="#ffaf00"/><stop offset="1" stop-color="#ffc800"/></linearGradient>
<linearGradient id="g416" x1="0" y1="0" x2="0" y2="1"><stop offset="0" stop-color="#003eff"/><stop offset="0.5" stop-color="#0083ff"/><stop offset="0.582" stop-color="#00bbff"/><stop offset="0.625" stop-color="#00ffff"/><stop offset="0.708" stop-color="#80ff7f"/><stop offset="0.766" stop-color="#cbff34"/><stop offset="0.82" stop-color="#ffff00"/><stop offset="0.834" stop-color="#fff100"/><stop offset="0.907" stop-color="#ffe800"/><stop offset="1" stop-color="#feff01"/></linearGradient>
<linearGradient id="g417" x1="0" y1="0" x2="0" y2="1"><stop offset="0" stop-color="#0037ff"/><stop offset="0.15" stop-color="#0050ff"/><stop offset="0.5" stop-color="#0079ff"/><stop offset="0.582" stop-color="#00aeff"/><stop offset="0.636" stop-color="#00ffff"/><stop offset="0.708" stop-color="#6cff93"/><stop offset="0.766" stop-color="#9fff60"/><stop offset="0.834" stop-color="#fbff04"/><stop offset="0.907" stop-color="#fff400"/><stop offset="1" stop-color="#fcff03"/></linearGradient>
<linearGradient id="g418" x1="0" y1="0" x2="0" y2="1"><stop offset="0" stop-color="#0028ff"/><stop offset="0.15" stop-color="#0042ff"/><stop offset="0.5" stop-color="#006aff"/><stop offset="0.582" stop-color="#00a2ff"/><stop offset="0.641" stop-color="#00ffff"/><stop offset="0.708" stop-color="#4bffb4"/><stop offset="0.766" stop-color="#a5ff5a"/><stop offset="0.834" stop-color="#ddff22"/><stop offset="0.907" stop-color="#eaff15"/><stop offset="1" stop-color="#d8ff27"/></linearGradient>
<linearGradient id="g419" x1="0" y1="0" x2="0" y2="1"><stop offset="0" stop-color="#002aff"/><stop offset="0.15" stop-color="#0043ff"/><stop offset="0.349" stop-color="#0052ff"/><stop offset="0.5" stop-color="#0069ff"/><stop offset="0.582" stop-color="#00a1ff"/><stop offset="0.64" stop-color="#00ffff"/><stop offset="0.766" stop-color="#c9ff36"/><stop offset="0.834" stop-color="#ebff14"/><stop offset="0.907" stop-color="#f7ff08"/><stop offset="1" stop-color="#e5ff1a"/></linearGradient>
<linearGradient id="g420" x1="0" y1="0" x2="0" y2="1"><stop offset="0" stop-color="#003eff"/><stop offset="0.15" stop-color="#0058ff"/><stop offset="0.349" stop-color="#0066ff"/><stop offset="0.5" stop-color="#007dff"/><stop offset="0.582" stop-color="#00b5ff"/><stop offset="0.628" stop-color="#00ffff"/><stop offset="0.65" stop-color="#23ffdc"/><stop offset="0.708" stop-color="#51ffae"/><stop offset="0.766" stop-color="#aeff51"/><stop offset="0.839" stop-color="#ffff00"/><stop offset="0.907" stop-color="#fff900"/><stop offset="0.97" stop-color="#f6ff09"/><stop offset="1" stop-color="#e9ff16"/></linearGradient>
<linearGradient id="g421" x1="0" y1="0" x2="0" y2="1"><stop offset="0" stop-color="#0000e5"/><stop offset="0.152" stop-color="#0000ff"/><stop offset="0.349" stop-color="#000aff"/><stop offset="0.5" stop-color="#0062ff"/><stop offset="0.582" stop-color="#00d1ff"/><stop offset="0.61" stop-color="#00ffff"/><stop offset="0.708" stop-color="#97ff68"/><stop offset="0.766" stop-color="#b2ff4d"/><stop offset="0.834" stop-color="#fffc00"/><stop offset="0.907" stop-color="#fff500"/><stop offset="0.97" stop-color="#fbff04"/><stop offset="1" stop-color="#eeff11"/></linearGradient>
<linearGradient id="g422" x1="0" y1="0" x2="0" y2="1"><stop offset="0" stop-color="#0000b1"/><stop offset="0.15" stop-color="#0000ca"/><stop offset="0.349" stop-color="#0000d8"/><stop offset="0.393" stop-color="#0000ff"/><stop offset="0.5" stop-color="#005eff"/><stop offset="0.582" stop-color="#00cdff"/><stop offset="0.613" stop-color="#00ffff"/><stop offset="0.65" stop-color="#3cffc3"/><stop offset="0.708" stop-color="#69ff96"/><stop offset="0.766" stop-color="#b9ff46"/><stop offset="0.826" stop-color="#ffff00"/><stop offset="0.834" stop-color="#fff600"/><stop offset="0.907" stop-color="#ffef00"/><stop offset="0.972" stop-color="#ffff00"/><stop offset="1" stop-color="#f3ff0c"/></linearGradient>
<linearGradient id="g423" x1="0" y1="0" x2="0" y2="1"><stop offset="0" stop-color="#0000a4"/><stop offset="0.15" stop-color="#0000bd"/><stop offset="0.349" stop-color="#0000c8"/><stop offset="0.407" stop-color="#0000ff"/><stop offset="0.5" stop-color="#0059ff"/><stop offset="0.582" stop-color="#00c8ff"/><stop offset="0.616" stop-color="#00ffff"/><stop offset="0.65" stop-color="#37ffc8"/><stop offset="0.708" stop-color="#65ff9a"/><stop offset="0.766" stop-color="#aaff55"/><stop offset="0.834" stop-color="#d8ff27"/><stop offset="0.907" stop-color="#e1ff1e"/><stop offset="1" stop-color="#caff35"/></linearGradient>
<linearGradient id="g424" x1="0" y1="0" x2="0" y2="1"><stop offset="0" stop-color="#00009f"/><stop offset="0.15" stop-color="#0000b9"/><stop offset="0.349" stop-color="#0000bf"/><stop offset="0.411" stop-color="#0000ff"/><stop offset="0.5" stop-color="#005bff"/><stop offset="0.582" stop-color="#00c9ff"/><stop offset="0.615" stop-color="#00ffff"/><stop offset="0.65" stop-color="#39ffc6"/><stop offset="0.708" stop-color="#54ffab"/><stop offset="0.766" stop-color="#9eff61"/><stop offset="0.834" stop-color="#cbff34"/><stop offset="0.907" stop-color="#c9ff36"/><stop offset="1" stop-color="#a0ff5f"/></linearGradient>
<linearGradient id="g425" x1="0" y1="0" x2="0" y2="1"><stop offset="0" stop-color="#0000a0"/><stop offset="0.15" stop-color="#0000ba"/><stop offset="0.349" stop-color="#0000bf"/><stop offset="0.414" stop-color="#0000ff"/><stop offset="0.5" stop-color="#0055ff"/><stop offset="0.582" stop-color="#00c3ff"/><stop offset="0.619" stop-color="#00ffff"/><stop offset="0.65" stop-color="#33ffcc"/><stop offset="0.708" stop-color="#68ff97"/><stop offset="0.766" stop-color="#d1ff2e"/><stop offset="0.834" stop-color="#ebff14"/><stop offset="0.907" stop-color="#f8ff07"/><stop offset="1" stop-color="#e5ff1a"/></linearGradient>
<linearGradient id="g426" x1="0" y1="0" x2="0" y2="1"><stop offset="0" stop-color="#0000a3"/><stop offset="0.15" stop-color="#0000bd"/><stop offset="0.349" stop-color="#0000c5"/><stop offset="0.407" stop-color="#0000ff"/><stop offset="0.5" stop-color="#005cff"/><stop offset="0.582" stop-color="#00cbff"/><stop offset="0.614" stop-color="#00ffff"/><stop offset="0.708" stop-color="#9fff60"/><stop offset="0.766" stop-color="#dbff24"/><stop offset="0.815" stop-color="#ffff00"/><stop offset="0.834" stop-color="#fff100"/><stop offset="0.907" stop-color="#fff000"/><stop offset="0.97" stop-color="#f8ff07"/><stop offset="1" stop-color="#e7ff18"/></linearGradient>
<linearGradient id="g427" x1="0" y1="0" x2="0" y2="1"><stop offset="0" stop-color="#0000a7"/><stop offset="0.15" stop-color="#0000c1"/><stop offset="0.349" stop-color="#0000cd"/><stop offset="0.396" stop-color="#0000ff"/><stop offset="0.5" stop-color="#006dff"/><stop offset="0.604" stop-color="#00ffff"/><stop offset="0.65" stop-color="#4bffb4"/><stop offset="0.708" stop-color="#ecff13"/><stop offset="0.726" stop-color="#ffff00"/><stop offset="0.766" stop-color="#ffd500"/><stop offset="0.834" stop-color="#ffa200"/><stop offset="0.907" stop-color="#ff9c00"/><stop offset="1" stop-color="#ffb900"/></linearGradient>
<linearGradient id="g428" x1="0" y1="0" x2="0" y2="1"><stop offset="0" stop-color="#00009b"/><stop offset="0.15" stop-color="#0000b4"/><stop offset="0.349" stop-color="#0000c3"/><stop offset="0.4" stop-color="#0000ff"/><stop offset="0.5" stop-color="#0075ff"/><stop offset="0.599" stop-color="#00ffff"/><stop offset="0.65" stop-color="#53ffac"/><stop offset="0.766" stop-color="#b5ff4a"/><stop offset="0.834" stop-color="#deff21"/><stop offset="0.907" stop-color="#e6ff19"/><stop offset="1" stop-color="#cdff32"/></linearGradient>
<linearGradient id="g429" x1="0" y1="0" x2="0" y2="1"><stop offset="0" stop-color="#000080"/><stop offset="0.349" stop-color="#0000a3"/><stop offset="0.428" stop-color="#0000ff"/><stop offset="0.5" stop-color="#0053ff"/><stop offset="0.582" stop-color="#00c1ff"/><stop offset="0.62" stop-color="#00ffff"/><stop offset="0.65" stop-color="#31ffce"/><stop offset="0.708" stop-color="#6fff90"/><stop offset="0.766" stop-color="#c6ff39"/><stop offset="0.834" stop-color="#e5ff1a"/><stop offset="0.907" stop-color="#ebff14"/><stop offset="1" stop-color="#cdff32"/></linearGradient>
<linearGradient id="g430" x1="0" y1="0" x2="0" y2="1"><stop offset="0" stop-color="#000080"/><stop offset="0.15" stop-color="#000080"/><stop offset="0.349" stop-color="#0000a0"/><stop offset="0.443" stop-color="#0000ff"/><stop offset="0.5" stop-color="#0038ff"/><stop offset="0.582" stop-color="#00a7ff"/><stop offset="0.636" stop-color="#00ffff"/><stop offset="0.65" stop-color="#16ffe9"/><stop offset="0.708" stop-color="#49ffb6"/><stop offset="0.766" stop-color="#89ff76"/><stop offset="0.834" stop-color="#e2ff1d"/><stop offset="0.907" stop-color="#f3ff0c"/><stop offset="1" stop-color="#e8ff17"/></linearGradient>
<linearGradient id="g431" x1="0" y1="0" x2="0" y2="1"><stop offset="0" stop-color="#000080"/><stop offset="0.15" stop-color="#000080"/><stop offset="0.349" stop-color="#0000a7"/><stop offset="0.432" stop-color="#0000ff"/><stop offset="0.5" stop-color="#0048ff"/><stop offset="0.582" stop-color="#00b7ff"/><stop offset="0.627" stop-color="#00ffff"/><stop offset="0.65" stop-color="#26ffd9"/><stop offset="0.708" stop-color="#41ffbe"/><stop offset="0.766" stop-color="#a9ff56"/><stop offset="0.834" stop-color="#dbff24"/><stop offset="0.907" stop-color="#e3ff1c"/><stop offset="1" stop-color="#c9ff36"/></linearGradient>
<linearGradient id="g432" x1="0" y1="0" x2="0" y2="1"><stop offset="0" stop-color="#000080"/><stop offset="0.15" stop-color="#000080"/><stop offset="0.349" stop-color="#000091"/><stop offset="0.456" stop-color="#0000ff"/><stop offset="0.5" stop-color="#002dff"/><stop offset="0.582" stop-color="#009bff"/><stop offset="0.643" stop-color="#00ffff"/><stop offset="0.65" stop-color="#0bfff4"/><stop offset="0.708" stop-color="#27ffd8"/><stop offset="0.766" stop-color="#68ff97"/><stop offset="0.834" stop-color="#c5ff3a"/><stop offset="0.907" stop-color="#d5ff2a"/><stop offset="1" stop-color="#c9ff36"/></linearGradient>
<linearGradient id="g433" x1="0" y1="0" x2="0" y2="1"><stop offset="0" stop-color="#000080"/><stop offset="0.15" stop-color="#000080"/><stop offset="0.349" stop-color="#00008d"/><stop offset="0.461" stop-color="#0000ff"/><stop offset="0.5" stop-color="#0027ff"/><stop offset="0.582" stop-color="#0095ff"/><stop offset="0.65" stop-color="#05fffa"/><stop offset="0.708" stop-color="#24ffdb"/><stop offset="0.766" stop-color="#8cff73"/><stop offset="0.834" stop-color="#d2ff2d"/><stop offset="0.907" stop-color="#e0ff1f"/><stop offset="1" stop-color="#d0ff2f"/></linearGradient>
<clipPath id="cpA"><rect x="94.8" y="57.4" width="1211.3" height="554.4"/></clipPath>
<linearGradient id="cb" x1="0" y1="0" x2="0" y2="1"><stop offset="0" stop-color="#800000"/><stop offset="0.125" stop-color="#ff0000"/><stop offset="0.375" stop-color="#ffff00"/><stop offset="0.625" stop-color="#00ffff"/><stop offset="0.875" stop-color="#0000ff"/><stop offset="1" stop-color="#000080"/></linearGradient>
<clipPath id="cpB"><rect x="90.1" y="734" width="581.7" height="626.5"/></clipPath>
<clipPath id="cpC"><rect x="867.2" y="734" width="581" height="626.5"/></clipPath>
</defs>
<g clip-path="url(#cpA)"><g id="sp"><rect x="90.69" y="57.4" width="3.81" height="554.4" fill="url(#g0)"/>
<rect x="93.50" y="57.4" width="3.81" height="554.4" fill="url(#g1)"/>
<rect x="96.30" y="57.4" width="3.81" height="554.4" fill="url(#g2)"/>
<rect x="99.11" y="57.4" width="3.81" height="554.4" fill="url(#g3)"/>
<rect x="101.92" y="57.4" width="3.81" height="554.4" fill="url(#g4)"/>
<rect x="104.73" y="57.4" width="3.81" height="554.4" fill="url(#g5)"/>
<rect x="107.54" y="57.4" width="3.81" height="554.4" fill="url(#g6)"/>
<rect x="110.34" y="57.4" width="3.81" height="554.4" fill="url(#g7)"/>
<rect x="113.15" y="57.4" width="3.81" height="554.4" fill="url(#g8)"/>
<rect x="115.96" y="57.4" width="3.81" height="554.4" fill="url(#g9)"/>
<rect x="118.77" y="57.4" width="3.81" height="554.4" fill="url(#g10)"/>
<rect x="121.58" y="57.4" width="3.81" height="554.4" fill="url(#g11)"/>
<rect x="124.38" y="57.4" width="3.81" height="554.4" fill="url(#g12)"/>
<rect x="127.19" y="57.4" width="3.81" height="554.4" fill="url(#g13)"/>
<rect x="130.00" y="57.4" width="3.81" height="554.4" fill="url(#g14)"/>
<rect x="132.81" y="57.4" width="3.81" height="554.4" fill="url(#g15)"/>
<rect x="135.62" y="57.4" width="3.81" height="554.4" fill="url(#g16)"/>
<rect x="138.42" y="57.4" width="3.81" height="554.4" fill="url(#g17)"/>
<rect x="141.23" y="57.4" width="3.81" height="554.4" fill="url(#g18)"/>
<rect x="144.04" y="57.4" width="3.81" height="554.4" fill="url(#g19)"/>
<rect x="146.85" y="57.4" width="3.81" height="554.4" fill="url(#g20)"/>
<rect x="149.66" y="57.4" width="3.81" height="554.4" fill="url(#g21)"/>
<rect x="152.46" y="57.4" width="3.81" height="554.4" fill="url(#g22)"/>
<rect x="155.27" y="57.4" width="3.81" height="554.4" fill="url(#g23)"/>
<rect x="158.08" y="57.4" width="3.81" height="554.4" fill="url(#g24)"/>
<rect x="160.89" y="57.4" width="3.81" height="554.4" fill="url(#g25)"/>
<rect x="163.70" y="57.4" width="3.81" height="554.4" fill="url(#g26)"/>
<rect x="166.50" y="57.4" width="3.81" height="554.4" fill="url(#g27)"/>
<rect x="169.31" y="57.4" width="3.81" height="554.4" fill="url(#g28)"/>
<rect x="172.12" y="57.4" width="3.81" height="554.4" fill="url(#g29)"/>
<rect x="174.93" y="57.4" width="3.81" height="554.4" fill="url(#g30)"/>
<rect x="177.74" y="57.4" width="3.81" height="554.4" fill="url(#g31)"/>
<rect x="180.54" y="57.4" width="3.81" height="554.4" fill="url(#g32)"/>
<rect x="183.35" y="57.4" width="3.81" height="554.4" fill="url(#g33)"/>
<rect x="186.16" y="57.4" width="3.81" height="554.4" fill="url(#g34)"/>
<rect x="188.97" y="57.4" width="3.81" height="554.4" fill="url(#g35)"/>
<rect x="191.78" y="57.4" width="3.81" height="554.4" fill="url(#g36)"/>
<rect x="194.58" y="57.4" width="3.81" height="554.4" fill="url(#g37)"/>
<rect x="197.39" y="57.4" width="3.81" height="554.4" fill="url(#g38)"/>
<rect x="200.20" y="57.4" width="3.81" height="554.4" fill="url(#g39)"/>
<rect x="203.01" y="57.4" width="3.81" height="554.4" fill="url(#g40)"/>
<rect x="205.82" y="57.4" width="3.81" height="554.4" fill="url(#g41)"/>
<rect x="208.62" y="57.4" width="3.81" height="554.4" fill="url(#g42)"/>
<rect x="211.43" y="57.4" width="3.81" height="554.4" fill="url(#g43)"/>
<rect x="214.24" y="57.4" width="3.81" height="554.4" fill="url(#g44)"/>
<rect x="217.05" y="57.4" width="3.81" height="554.4" fill="url(#g45)"/>
<rect x="219.86" y="57.4" width="3.81" height="554.4" fill="url(#g46)"/>
<rect x="222.66" y="57.4" width="3.81" height="554.4" fill="url(#g47)"/>
<rect x="225.47" y="57.4" width="3.81" height="554.4" fill="url(#g48)"/>
<rect x="228.28" y="57.4" width="3.81" height="554.4" fill="url(#g49)"/>
<rect x="231.09" y="57.4" width="3.81" height="554.4" fill="url(#g50)"/>
<rect x="233.90" y="57.4" width="3.81" height="554.4" fill="url(#g51)"/>
<rect x="236.70" y="57.4" width="3.81" height="554.4" fill="url(#g52)"/>
<rect x="239.51" y="57.4" width="3.81" height="554.4" fill="url(#g53)"/>
<rect x="242.32" y="57.4" width="3.81" height="554.4" fill="url(#g54)"/>
<rect x="245.13" y="57.4" width="3.81" height="554.4" fill="url(#g55)"/>
<rect x="247.94" y="57.4" width="3.81" height="554.4" fill="url(#g56)"/>
<rect x="250.74" y="57.4" width="3.81" height="554.4" fill="url(#g57)"/>
<rect x="253.55" y="57.4" width="3.81" height="554.4" fill="url(#g58)"/>
<rect x="256.36" y="57.4" width="3.81" height="554.4" fill="url(#g59)"/>
<rect x="259.17" y="57.4" width="3.81" height="554.4" fill="url(#g60)"/>
<rect x="261.98" y="57.4" width="3.81" height="554.4" fill="url(#g61)"/>
<rect x="264.78" y="57.4" width="3.81" height="554.4" fill="url(#g62)"/>
<rect x="267.59" y="57.4" width="3.81" height="554.4" fill="url(#g63)"/>
<rect x="270.40" y="57.4" width="3.81" height="554.4" fill="url(#g64)"/>
<rect x="273.21" y="57.4" width="3.81" height="554.4" fill="url(#g65)"/>
<rect x="276.02" y="57.4" width="3.81" height="554.4" fill="url(#g66)"/>
<rect x="278.82" y="57.4" width="3.81" height="554.4" fill="url(#g67)"/>
<rect x="281.63" y="57.4" width="3.81" height="554.4" fill="url(#g68)"/>
<rect x="284.44" y="57.4" width="3.81" height="554.4" fill="url(#g69)"/>
<rect x="287.25" y="57.4" width="3.81" height="554.4" fill="url(#g70)"/>
<rect x="290.06" y="57.4" width="3.81" height="554.4" fill="url(#g71)"/>
<rect x="292.86" y="57.4" width="3.81" height="554.4" fill="url(#g72)"/>
<rect x="295.67" y="57.4" width="3.81" height="554.4" fill="url(#g73)"/>
<rect x="298.48" y="57.4" width="3.81" height="554.4" fill="url(#g74)"/>
<rect x="301.29" y="57.4" width="3.81" height="554.4" fill="url(#g75)"/>
<rect x="304.10" y="57.4" width="3.81" height="554.4" fill="url(#g76)"/>
<rect x="306.90" y="57.4" width="3.81" height="554.4" fill="url(#g77)"/>
<rect x="309.71" y="57.4" width="3.81" height="554.4" fill="url(#g78)"/>
<rect x="312.52" y="57.4" width="3.81" height="554.4" fill="url(#g79)"/>
<rect x="315.33" y="57.4" width="3.81" height="554.4" fill="url(#g80)"/>
<rect x="318.14" y="57.4" width="3.81" height="554.4" fill="url(#g81)"/>
<rect x="320.94" y="57.4" width="3.81" height="554.4" fill="url(#g82)"/>
<rect x="323.75" y="57.4" width="3.81" height="554.4" fill="url(#g83)"/>
<rect x="326.56" y="57.4" width="3.81" height="554.4" fill="url(#g84)"/>
<rect x="329.37" y="57.4" width="3.81" height="554.4" fill="url(#g85)"/>
<rect x="332.18" y="57.4" width="3.81" height="554.4" fill="url(#g86)"/>
<rect x="334.98" y="57.4" width="3.81" height="554.4" fill="url(#g87)"/>
<rect x="337.79" y="57.4" width="3.81" height="554.4" fill="url(#g88)"/>
<rect x="340.60" y="57.4" width="3.81" height="554.4" fill="url(#g89)"/>
<rect x="343.41" y="57.4" width="3.81" height="554.4" fill="url(#g90)"/>
<rect x="346.22" y="57.4" width="3.81" height="554.4" fill="url(#g91)"/>
<rect x="349.02" y="57.4" width="3.81" height="554.4" fill="url(#g92)"/>
<rect x="351.83" y="57.4" width="3.81" height="554.4" fill="url(#g93)"/>
<rect x="354.64" y="57.4" width="3.81" height="554.4" fill="url(#g94)"/>
<rect x="357.45" y="57.4" width="3.81" height="554.4" fill="url(#g95)"/>
<rect x="360.26" y="57.4" width="3.81" height="554.4" fill="url(#g96)"/>
<rect x="363.06" y="57.4" width="3.81" height="554.4" fill="url(#g97)"/>
<rect x="365.87" y="57.4" width="3.81" height="554.4" fill="url(#g98)"/>
<rect x="368.68" y="57.4" width="3.81" height="554.4" fill="url(#g99)"/>
<rect x="371.49" y="57.4" width="3.81" height="554.4" fill="url(#g100)"/>
<rect x="374.30" y="57.4" width="3.81" height="554.4" fill="url(#g101)"/>
<rect x="377.10" y="57.4" width="3.81" height="554.4" fill="url(#g102)"/>
<rect x="379.91" y="57.4" width="3.81" height="554.4" fill="url(#g103)"/>
<rect x="382.72" y="57.4" width="3.81" height="554.4" fill="url(#g104)"/>
<rect x="385.53" y="57.4" width="3.81" height="554.4" fill="url(#g105)"/>
<rect x="388.34" y="57.4" width="3.81" height="554.4" fill="url(#g106)"/>
<rect x="391.14" y="57.4" width="3.81" height="554.4" fill="url(#g107)"/>
<rect x="393.95" y="57.4" width="3.81" height="554.4" fill="url(#g108)"/>
<rect x="396.76" y="57.4" width="3.81" height="554.4" fill="url(#g109)"/>
<rect x="399.57" y="57.4" width="3.81" height="554.4" fill="url(#g110)"/>
<rect x="402.38" y="57.4" width="3.81" height="554.4" fill="url(#g111)"/>
<rect x="405.18" y="57.4" width="3.81" height="554.4" fill="url(#g112)"/>
<rect x="407.99" y="57.4" width="3.81" height="554.4" fill="url(#g113)"/>
<rect x="410.80" y="57.4" width="3.81" height="554.4" fill="url(#g114)"/>
<rect x="413.61" y="57.4" width="3.81" height="554.4" fill="url(#g115)"/>
<rect x="416.42" y="57.4" width="3.81" height="554.4" fill="url(#g116)"/>
<rect x="419.22" y="57.4" width="3.81" height="554.4" fill="url(#g117)"/>
<rect x="422.03" y="57.4" width="3.81" height="554.4" fill="url(#g118)"/>
<rect x="424.84" y="57.4" width="3.81" height="554.4" fill="url(#g119)"/>
<rect x="427.65" y="57.4" width="3.81" height="554.4" fill="url(#g120)"/>
<rect x="430.46" y="57.4" width="3.81" height="554.4" fill="url(#g121)"/>
<rect x="433.26" y="57.4" width="3.81" height="554.4" fill="url(#g122)"/>
<rect x="436.07" y="57.4" width="3.81" height="554.4" fill="url(#g123)"/>
<rect x="438.88" y="57.4" width="3.81" height="554.4" fill="url(#g124)"/>
<rect x="441.69" y="57.4" width="3.81" height="554.4" fill="url(#g125)"/>
<rect x="444.50" y="57.4" width="3.81" height="554.4" fill="url(#g126)"/>
<rect x="447.30" y="57.4" width="3.81" height="554.4" fill="url(#g127)"/>
<rect x="450.11" y="57.4" width="3.81" height="554.4" fill="url(#g128)"/>
<rect x="452.92" y="57.4" width="3.81" height="554.4" fill="url(#g129)"/>
<rect x="455.73" y="57.4" width="3.81" height="554.4" fill="url(#g130)"/>
<rect x="458.54" y="57.4" width="3.81" height="554.4" fill="url(#g131)"/>
<rect x="461.34" y="57.4" width="3.81" height="554.4" fill="url(#g132)"/>
<rect x="464.15" y="57.4" width="3.81" height="554.4" fill="url(#g133)"/>
<rect x="466.96" y="57.4" width="3.81" height="554.4" fill="url(#g134)"/>
<rect x="469.77" y="57.4" width="3.81" height="554.4" fill="url(#g135)"/>
<rect x="472.58" y="57.4" width="3.81" height="554.4" fill="url(#g136)"/>
<rect x="475.38" y="57.4" width="3.81" height="554.4" fill="url(#g137)"/>
<rect x="478.19" y="57.4" width="3.81" height="554.4" fill="url(#g138)"/>
<rect x="481.00" y="57.4" width="3.81" height="554.4" fill="url(#g139)"/>
<rect x="483.81" y="57.4" width="3.81" height="554.4" fill="url(#g140)"/>
<rect x="486.62" y="57.4" width="3.81" height="554.4" fill="url(#g141)"/>
<rect x="489.42" y="57.4" width="3.81" height="554.4" fill="url(#g142)"/>
<rect x="492.23" y="57.4" width="3.81" height="554.4" fill="url(#g143)"/>
<rect x="495.04" y="57.4" width="3.81" height="554.4" fill="url(#g144)"/>
<rect x="497.85" y="57.4" width="3.81" height="554.4" fill="url(#g145)"/>
<rect x="500.66" y="57.4" width="3.81" height="554.4" fill="url(#g146)"/>
<rect x="503.46" y="57.4" width="3.81" height="554.4" fill="url(#g147)"/>
<rect x="506.27" y="57.4" width="3.81" height="554.4" fill="url(#g148)"/>
<rect x="509.08" y="57.4" width="3.81" height="554.4" fill="url(#g149)"/>
<rect x="511.89" y="57.4" width="3.81" height="554.4" fill="url(#g150)"/>
<rect x="514.70" y="57.4" width="3.81" height="554.4" fill="url(#g151)"/>
<rect x="517.50" y="57.4" width="3.81" height="554.4" fill="url(#g152)"/>
<rect x="520.31" y="57.4" width="3.81" height="554.4" fill="url(#g153)"/>
<rect x="523.12" y="57.4" width="3.81" height="554.4" fill="url(#g154)"/>
<rect x="525.93" y="57.4" width="3.81" height="554.4" fill="url(#g155)"/>
<rect x="528.74" y="57.4" width="3.81" height="554.4" fill="url(#g156)"/>
<rect x="531.54" y="57.4" width="3.81" height="554.4" fill="url(#g157)"/>
<rect x="534.35" y="57.4" width="3.81" height="554.4" fill="url(#g158)"/>
<rect x="537.16" y="57.4" width="3.81" height="554.4" fill="url(#g159)"/>
<rect x="539.97" y="57.4" width="3.81" height="554.4" fill="url(#g160)"/>
<rect x="542.78" y="57.4" width="3.81" height="554.4" fill="url(#g161)"/>
<rect x="545.58" y="57.4" width="3.81" height="554.4" fill="url(#g162)"/>
<rect x="548.39" y="57.4" width="3.81" height="554.4" fill="url(#g163)"/>
<rect x="551.20" y="57.4" width="3.81" height="554.4" fill="url(#g164)"/>
<rect x="554.01" y="57.4" width="3.81" height="554.4" fill="url(#g165)"/>
<rect x="556.82" y="57.4" width="3.81" height="554.4" fill="url(#g166)"/>
<rect x="559.62" y="57.4" width="3.81" height="554.4" fill="url(#g167)"/>
<rect x="562.43" y="57.4" width="3.81" height="554.4" fill="url(#g168)"/>
<rect x="565.24" y="57.4" width="3.81" height="554.4" fill="url(#g169)"/>
<rect x="568.05" y="57.4" width="3.81" height="554.4" fill="url(#g170)"/>
<rect x="570.86" y="57.4" width="3.81" height="554.4" fill="url(#g171)"/>
<rect x="573.66" y="57.4" width="3.81" height="554.4" fill="url(#g172)"/>
<rect x="576.47" y="57.4" width="3.81" height="554.4" fill="url(#g173)"/>
<rect x="579.28" y="57.4" width="3.81" height="554.4" fill="url(#g174)"/>
<rect x="582.09" y="57.4" width="3.81" height="554.4" fill="url(#g175)"/>
<rect x="584.90" y="57.4" width="3.81" height="554.4" fill="url(#g176)"/>
<rect x="587.70" y="57.4" width="3.81" height="554.4" fill="url(#g177)"/>
<rect x="590.51" y="57.4" width="3.81" height="554.4" fill="url(#g178)"/>
<rect x="593.32" y="57.4" width="3.81" height="554.4" fill="url(#g179)"/>
<rect x="596.13" y="57.4" width="3.81" height="554.4" fill="url(#g180)"/>
<rect x="598.94" y="57.4" width="3.81" height="554.4" fill="url(#g181)"/>
<rect x="601.74" y="57.4" width="3.81" height="554.4" fill="url(#g182)"/>
<rect x="604.55" y="57.4" width="3.81" height="554.4" fill="url(#g183)"/>
<rect x="607.36" y="57.4" width="3.81" height="554.4" fill="url(#g184)"/>
<rect x="610.17" y="57.4" width="3.81" height="554.4" fill="url(#g185)"/>
<rect x="612.98" y="57.4" width="3.81" height="554.4" fill="url(#g186)"/>
<rect x="615.78" y="57.4" width="3.81" height="554.4" fill="url(#g187)"/>
<rect x="618.59" y="57.4" width="3.81" height="554.4" fill="url(#g188)"/>
<rect x="621.40" y="57.4" width="3.81" height="554.4" fill="url(#g189)"/>
<rect x="624.21" y="57.4" width="3.81" height="554.4" fill="url(#g190)"/>
<rect x="627.02" y="57.4" width="3.81" height="554.4" fill="url(#g191)"/>
<rect x="629.82" y="57.4" width="3.81" height="554.4" fill="url(#g192)"/>
<rect x="632.63" y="57.4" width="3.81" height="554.4" fill="url(#g193)"/>
<rect x="635.44" y="57.4" width="3.81" height="554.4" fill="url(#g194)"/>
<rect x="638.25" y="57.4" width="3.81" height="554.4" fill="url(#g195)"/>
<rect x="641.06" y="57.4" width="3.81" height="554.4" fill="url(#g196)"/>
<rect x="643.86" y="57.4" width="3.81" height="554.4" fill="url(#g197)"/>
<rect x="646.67" y="57.4" width="3.81" height="554.4" fill="url(#g198)"/>
<rect x="649.48" y="57.4" width="3.81" height="554.4" fill="url(#g199)"/>
<rect x="652.29" y="57.4" width="3.81" height="554.4" fill="url(#g200)"/>
<rect x="655.10" y="57.4" width="3.81" height="554.4" fill="url(#g201)"/>
<rect x="657.90" y="57.4" width="3.81" height="554.4" fill="url(#g202)"/>
<rect x="660.71" y="57.4" width="3.81" height="554.4" fill="url(#g203)"/>
<rect x="663.52" y="57.4" width="3.81" height="554.4" fill="url(#g204)"/>
<rect x="666.33" y="57.4" width="3.81" height="554.4" fill="url(#g205)"/>
<rect x="669.14" y="57.4" width="3.81" height="554.4" fill="url(#g206)"/>
<rect x="671.94" y="57.4" width="3.81" height="554.4" fill="url(#g207)"/>
<rect x="674.75" y="57.4" width="3.81" height="554.4" fill="url(#g208)"/>
<rect x="677.56" y="57.4" width="3.81" height="554.4" fill="url(#g209)"/>
<rect x="680.37" y="57.4" width="3.81" height="554.4" fill="url(#g210)"/>
<rect x="683.18" y="57.4" width="3.81" height="554.4" fill="url(#g211)"/>
<rect x="685.98" y="57.4" width="3.81" height="554.4" fill="url(#g212)"/>
<rect x="688.79" y="57.4" width="3.81" height="554.4" fill="url(#g213)"/>
<rect x="691.60" y="57.4" width="3.81" height="554.4" fill="url(#g214)"/>
<rect x="694.41" y="57.4" width="3.81" height="554.4" fill="url(#g215)"/>
<rect x="697.22" y="57.4" width="3.81" height="554.4" fill="url(#g216)"/>
<rect x="700.02" y="57.4" width="3.81" height="554.4" fill="url(#g217)"/>
<rect x="702.83" y="57.4" width="3.81" height="554.4" fill="url(#g218)"/>
<rect x="705.64" y="57.4" width="3.81" height="554.4" fill="url(#g219)"/>
<rect x="708.45" y="57.4" width="3.81" height="554.4" fill="url(#g220)"/>
<rect x="711.26" y="57.4" width="3.81" height="554.4" fill="url(#g221)"/>
<rect x="714.06" y="57.4" width="3.81" height="554.4" fill="url(#g222)"/>
<rect x="716.87" y="57.4" width="3.81" height="554.4" fill="url(#g223)"/>
<rect x="719.68" y="57.4" width="3.81" height="554.4" fill="url(#g224)"/>
<rect x="722.49" y="57.4" width="3.81" height="554.4" fill="url(#g225)"/>
<rect x="725.30" y="57.4" width="3.81" height="554.4" fill="url(#g226)"/>
<rect x="728.10" y="57.4" width="3.81" height="554.4" fill="url(#g227)"/>
<rect x="730.91" y="57.4" width="3.81" height="554.4" fill="url(#g228)"/>
<rect x="733.72" y="57.4" width="3.81" height="554.4" fill="url(#g229)"/>
<rect x="736.53" y="57.4" width="3.81" height="554.4" fill="url(#g230)"/>
<rect x="739.34" y="57.4" width="3.81" height="554.4" fill="url(#g231)"/>
<rect x="742.14" y="57.4" width="3.81" height="554.4" fill="url(#g232)"/>
<rect x="744.95" y="57.4" width="3.81" height="554.4" fill="url(#g233)"/>
<rect x="747.76" y="57.4" width="3.81" height="554.4" fill="url(#g234)"/>
<rect x="750.57" y="57.4" width="3.81" height="554.4" fill="url(#g235)"/>
<rect x="753.38" y="57.4" width="3.81" height="554.4" fill="url(#g236)"/>
<rect x="756.18" y="57.4" width="3.81" height="554.4" fill="url(#g237)"/>
<rect x="758.99" y="57.4" width="3.81" height="554.4" fill="url(#g238)"/>
<rect x="761.80" y="57.4" width="3.81" height="554.4" fill="url(#g239)"/>
<rect x="764.61" y="57.4" width="3.81" height="554.4" fill="url(#g240)"/>
<rect x="767.42" y="57.4" width="3.81" height="554.4" fill="url(#g241)"/>
<rect x="770.22" y="57.4" width="3.81" height="554.4" fill="url(#g242)"/>
<rect x="773.03" y="57.4" width="3.81" height="554.4" fill="url(#g243)"/>
<rect x="775.84" y="57.4" width="3.81" height="554.4" fill="url(#g244)"/>
<rect x="778.65" y="57.4" width="3.81" height="554.4" fill="url(#g245)"/>
<rect x="781.46" y="57.4" width="3.81" height="554.4" fill="url(#g246)"/>
<rect x="784.26" y="57.4" width="3.81" height="554.4" fill="url(#g247)"/>
<rect x="787.07" y="57.4" width="3.81" height="554.4" fill="url(#g248)"/>
<rect x="789.88" y="57.4" width="3.81" height="554.4" fill="url(#g249)"/>
<rect x="792.69" y="57.4" width="3.81" height="554.4" fill="url(#g250)"/>
<rect x="795.50" y="57.4" width="3.81" height="554.4" fill="url(#g251)"/>
<rect x="798.30" y="57.4" width="3.81" height="554.4" fill="url(#g252)"/>
<rect x="801.11" y="57.4" width="3.81" height="554.4" fill="url(#g253)"/>
<rect x="803.92" y="57.4" width="3.81" height="554.4" fill="url(#g254)"/>
<rect x="806.73" y="57.4" width="3.81" height="554.4" fill="url(#g255)"/>
<rect x="809.54" y="57.4" width="3.81" height="554.4" fill="url(#g256)"/>
<rect x="812.34" y="57.4" width="3.81" height="554.4" fill="url(#g257)"/>
<rect x="815.15" y="57.4" width="3.81" height="554.4" fill="url(#g258)"/>
<rect x="817.96" y="57.4" width="3.81" height="554.4" fill="url(#g259)"/>
<rect x="820.77" y="57.4" width="3.81" height="554.4" fill="url(#g260)"/>
<rect x="823.58" y="57.4" width="3.81" height="554.4" fill="url(#g261)"/>
<rect x="826.38" y="57.4" width="3.81" height="554.4" fill="url(#g262)"/>
<rect x="829.19" y="57.4" width="3.81" height="554.4" fill="url(#g263)"/>
<rect x="832.00" y="57.4" width="3.81" height="554.4" fill="url(#g264)"/>
<rect x="834.81" y="57.4" width="3.81" height="554.4" fill="url(#g265)"/>
<rect x="837.62" y="57.4" width="3.81" height="554.4" fill="url(#g266)"/>
<rect x="840.42" y="57.4" width="3.81" height="554.4" fill="url(#g267)"/>
<rect x="843.23" y="57.4" width="3.81" height="554.4" fill="url(#g268)"/>
<rect x="846.04" y="57.4" width="3.81" height="554.4" fill="url(#g269)"/>
<rect x="848.85" y="57.4" width="3.81" height="554.4" fill="url(#g270)"/>
<rect x="851.66" y="57.4" width="3.81" height="554.4" fill="url(#g271)"/>
<rect x="854.46" y="57.4" width="3.81" height="554.4" fill="url(#g272)"/>
<rect x="857.27" y="57.4" width="3.81" height="554.4" fill="url(#g273)"/>
<rect x="860.08" y="57.4" width="3.81" height="554.4" fill="url(#g274)"/>
<rect x="862.89" y="57.4" width="3.81" height="554.4" fill="url(#g275)"/>
<rect x="865.70" y="57.4" width="3.81" height="554.4" fill="url(#g276)"/>
<rect x="868.50" y="57.4" width="3.81" height="554.4" fill="url(#g277)"/>
<rect x="871.31" y="57.4" width="3.81" height="554.4" fill="url(#g278)"/>
<rect x="874.12" y="57.4" width="3.81" height="554.4" fill="url(#g279)"/>
<rect x="876.93" y="57.4" width="3.81" height="554.4" fill="url(#g280)"/>
<rect x="879.74" y="57.4" width="3.81" height="554.4" fill="url(#g281)"/>
<rect x="882.54" y="57.4" width="3.81" height="554.4" fill="url(#g282)"/>
<rect x="885.35" y="57.4" width="3.81" height="554.4" fill="url(#g283)"/>
<rect x="888.16" y="57.4" width="3.81" height="554.4" fill="url(#g284)"/>
<rect x="890.97" y="57.4" width="3.81" height="554.4" fill="url(#g285)"/>
<rect x="893.78" y="57.4" width="3.81" height="554.4" fill="url(#g286)"/>
<rect x="896.58" y="57.4" width="3.81" height="554.4" fill="url(#g287)"/>
<rect x="899.39" y="57.4" width="3.81" height="554.4" fill="url(#g288)"/>
<rect x="902.20" y="57.4" width="3.81" height="554.4" fill="url(#g289)"/>
<rect x="905.01" y="57.4" width="3.81" height="554.4" fill="url(#g290)"/>
<rect x="907.82" y="57.4" width="3.81" height="554.4" fill="url(#g291)"/>
<rect x="910.62" y="57.4" width="3.81" height="554.4" fill="url(#g292)"/>
<rect x="913.43" y="57.4" width="3.81" height="554.4" fill="url(#g293)"/>
<rect x="916.24" y="57.4" width="3.81" height="554.4" fill="url(#g294)"/>
<rect x="919.05" y="57.4" width="3.81" height="554.4" fill="url(#g295)"/>
<rect x="921.86" y="57.4" width="3.81" height="554.4" fill="url(#g296)"/>
<rect x="924.66" y="57.4" width="3.81" height="554.4" fill="url(#g297)"/>
<rect x="927.47" y="57.4" width="3.81" height="554.4" fill="url(#g298)"/>
<rect x="930.28" y="57.4" width="3.81" height="554.4" fill="url(#g299)"/>
<rect x="933.09" y="57.4" width="3.81" height="554.4" fill="url(#g300)"/>
<rect x="935.90" y="57.4" width="3.81" height="554.4" fill="url(#g301)"/>
<rect x="938.70" y="57.4" width="3.81" height="554.4" fill="url(#g302)"/>
<rect x="941.51" y="57.4" width="3.81" height="554.4" fill="url(#g303)"/>
<rect x="944.32" y="57.4" width="3.81" height="554.4" fill="url(#g304)"/>
<rect x="947.13" y="57.4" width="3.81" height="554.4" fill="url(#g305)"/>
<rect x="949.94" y="57.4" width="3.81" height="554.4" fill="url(#g306)"/>
<rect x="952.74" y="57.4" width="3.81" height="554.4" fill="url(#g307)"/>
<rect x="955.55" y="57.4" width="3.81" height="554.4" fill="url(#g308)"/>
<rect x="958.36" y="57.4" width="3.81" height="554.4" fill="url(#g309)"/>
<rect x="961.17" y="57.4" width="3.81" height="554.4" fill="url(#g310)"/>
<rect x="963.98" y="57.4" width="3.81" height="554.4" fill="url(#g311)"/>
<rect x="966.78" y="57.4" width="3.81" height="554.4" fill="url(#g312)"/>
<rect x="969.59" y="57.4" width="3.81" height="554.4" fill="url(#g313)"/>
<rect x="972.40" y="57.4" width="3.81" height="554.4" fill="url(#g314)"/>
<rect x="975.21" y="57.4" width="3.81" height="554.4" fill="url(#g315)"/>
<rect x="978.02" y="57.4" width="3.81" height="554.4" fill="url(#g316)"/>
<rect x="980.82" y="57.4" width="3.81" height="554.4" fill="url(#g317)"/>
<rect x="983.63" y="57.4" width="3.81" height="554.4" fill="url(#g318)"/>
<rect x="986.44" y="57.4" width="3.81" height="554.4" fill="url(#g319)"/>
<rect x="989.25" y="57.4" width="3.81" height="554.4" fill="url(#g320)"/>
<rect x="992.06" y="57.4" width="3.81" height="554.4" fill="url(#g321)"/>
<rect x="994.86" y="57.4" width="3.81" height="554.4" fill="url(#g322)"/>
<rect x="997.67" y="57.4" width="3.81" height="554.4" fill="url(#g323)"/>
<rect x="1000.48" y="57.4" width="3.81" height="554.4" fill="url(#g324)"/>
<rect x="1003.29" y="57.4" width="3.81" height="554.4" fill="url(#g325)"/>
<rect x="1006.10" y="57.4" width="3.81" height="554.4" fill="url(#g326)"/>
<rect x="1008.90" y="57.4" width="3.81" height="554.4" fill="url(#g327)"/>
<rect x="1011.71" y="57.4" width="3.81" height="554.4" fill="url(#g328)"/>
<rect x="1014.52" y="57.4" width="3.81" height="554.4" fill="url(#g329)"/>
<rect x="1017.33" y="57.4" width="3.81" height="554.4" fill="url(#g330)"/>
<rect x="1020.14" y="57.4" width="3.81" height="554.4" fill="url(#g331)"/>
<rect x="1022.94" y="57.4" width="3.81" height="554.4" fill="url(#g332)"/>
<rect x="1025.75" y="57.4" width="3.81" height="554.4" fill="url(#g333)"/>
<rect x="1028.56" y="57.4" width="3.81" height="554.4" fill="url(#g334)"/>
<rect x="1031.37" y="57.4" width="3.81" height="554.4" fill="url(#g335)"/>
<rect x="1034.18" y="57.4" width="3.81" height="554.4" fill="url(#g336)"/>
<rect x="1036.98" y="57.4" width="3.81" height="554.4" fill="url(#g337)"/>
<rect x="1039.79" y="57.4" width="3.81" height="554.4" fill="url(#g338)"/>
<rect x="1042.60" y="57.4" width="3.81" height="554.4" fill="url(#g339)"/>
<rect x="1045.41" y="57.4" width="3.81" height="554.4" fill="url(#g340)"/>
<rect x="1048.22" y="57.4" width="3.81" height="554.4" fill="url(#g341)"/>
<rect x="1051.02" y="57.4" width="3.81" height="554.4" fill="url(#g342)"/>
<rect x="1053.83" y="57.4" width="3.81" height="554.4" fill="url(#g343)"/>
<rect x="1056.64" y="57.4" width="3.81" height="554.4" fill="url(#g344)"/>
<rect x="1059.45" y="57.4" width="3.81" height="554.4" fill="url(#g345)"/>
<rect x="1062.26" y="57.4" width="3.81" height="554.4" fill="url(#g346)"/>
<rect x="1065.06" y="57.4" width="3.81" height="554.4" fill="url(#g347)"/>
<rect x="1067.87" y="57.4" width="3.81" height="554.4" fill="url(#g348)"/>
<rect x="1070.68" y="57.4" width="3.81" height="554.4" fill="url(#g349)"/>
<rect x="1073.49" y="57.4" width="3.81" height="554.4" fill="url(#g350)"/>
<rect x="1076.30" y="57.4" width="3.81" height="554.4" fill="url(#g351)"/>
<rect x="1079.10" y="57.4" width="3.81" height="554.4" fill="url(#g352)"/>
<rect x="1081.91" y="57.4" width="3.81" height="554.4" fill="url(#g353)"/>
<rect x="1084.72" y="57.4" width="3.81" height="554.4" fill="url(#g354)"/>
<rect x="1087.53" y="57.4" width="3.81" height="554.4" fill="url(#g355)"/>
<rect x="1090.34" y="57.4" width="3.81" height="554.4" fill="url(#g356)"/>
<rect x="1093.14" y="57.4" width="3.81" height="554.4" fill="url(#g357)"/>
<rect x="1095.95" y="57.4" width="3.81" height="554.4" fill="url(#g358)"/>
<rect x="1098.76" y="57.4" width="3.81" height="554.4" fill="url(#g359)"/>
<rect x="1101.57" y="57.4" width="3.81" height="554.4" fill="url(#g360)"/>
<rect x="1104.38" y="57.4" width="3.81" height="554.4" fill="url(#g361)"/>
<rect x="1107.18" y="57.4" width="3.81" height="554.4" fill="url(#g362)"/>
<rect x="1109.99" y="57.4" width="3.81" height="554.4" fill="url(#g363)"/>
<rect x="1112.80" y="57.4" width="3.81" height="554.4" fill="url(#g364)"/>
<rect x="1115.61" y="57.4" width="3.81" height="554.4" fill="url(#g365)"/>
<rect x="1118.42" y="57.4" width="3.81" height="554.4" fill="url(#g366)"/>
<rect x="1121.22" y="57.4" width="3.81" height="554.4" fill="url(#g367)"/>
<rect x="1124.03" y="57.4" width="3.81" height="554.4" fill="url(#g368)"/>
<rect x="1126.84" y="57.4" width="3.81" height="554.4" fill="url(#g369)"/>
<rect x="1129.65" y="57.4" width="3.81" height="554.4" fill="url(#g370)"/>
<rect x="1132.46" y="57.4" width="3.81" height="554.4" fill="url(#g371)"/>
<rect x="1135.26" y="57.4" width="3.81" height="554.4" fill="url(#g372)"/>
<rect x="1138.07" y="57.4" width="3.81" height="554.4" fill="url(#g373)"/>
<rect x="1140.88" y="57.4" width="3.81" height="554.4" fill="url(#g374)"/>
<rect x="1143.69" y="57.4" width="3.81" height="554.4" fill="url(#g375)"/>
<rect x="1146.50" y="57.4" width="3.81" height="554.4" fill="url(#g376)"/>
<rect x="1149.30" y="57.4" width="3.81" height="554.4" fill="url(#g377)"/>
<rect x="1152.11" y="57.4" width="3.81" height="554.4" fill="url(#g378)"/>
<rect x="1154.92" y="57.4" width="3.81" height="554.4" fill="url(#g379)"/>
<rect x="1157.73" y="57.4" width="3.81" height="554.4" fill="url(#g380)"/>
<rect x="1160.54" y="57.4" width="3.81" height="554.4" fill="url(#g381)"/>
<rect x="1163.34" y="57.4" width="3.81" height="554.4" fill="url(#g382)"/>
<rect x="1166.15" y="57.4" width="3.81" height="554.4" fill="url(#g383)"/>
<rect x="1168.96" y="57.4" width="3.81" height="554.4" fill="url(#g384)"/>
<rect x="1171.77" y="57.4" width="3.81" height="554.4" fill="url(#g385)"/>
<rect x="1174.58" y="57.4" width="3.81" height="554.4" fill="url(#g386)"/>
<rect x="1177.38" y="57.4" width="3.81" height="554.4" fill="url(#g387)"/>
<rect x="1180.19" y="57.4" width="3.81" height="554.4" fill="url(#g388)"/>
<rect x="1183.00" y="57.4" width="3.81" height="554.4" fill="url(#g389)"/>
<rect x="1185.81" y="57.4" width="3.81" height="554.4" fill="url(#g390)"/>
<rect x="1188.62" y="57.4" width="3.81" height="554.4" fill="url(#g391)"/>
<rect x="1191.42" y="57.4" width="3.81" height="554.4" fill="url(#g392)"/>
<rect x="1194.23" y="57.4" width="3.81" height="554.4" fill="url(#g393)"/>
<rect x="1197.04" y="57.4" width="3.81" height="554.4" fill="url(#g394)"/>
<rect x="1199.85" y="57.4" width="3.81" height="554.4" fill="url(#g395)"/>
<rect x="1202.66" y="57.4" width="3.81" height="554.4" fill="url(#g396)"/>
<rect x="1205.46" y="57.4" width="3.81" height="554.4" fill="url(#g397)"/>
<rect x="1208.27" y="57.4" width="3.81" height="554.4" fill="url(#g398)"/>
<rect x="1211.08" y="57.4" width="3.81" height="554.4" fill="url(#g399)"/>
<rect x="1213.89" y="57.4" width="3.81" height="554.4" fill="url(#g400)"/>
<rect x="1216.70" y="57.4" width="3.81" height="554.4" fill="url(#g401)"/>
<rect x="1219.50" y="57.4" width="3.81" height="554.4" fill="url(#g402)"/>
<rect x="1222.31" y="57.4" width="3.81" height="554.4" fill="url(#g403)"/>
<rect x="1225.12" y="57.4" width="3.81" height="554.4" fill="url(#g404)"/>
<rect x="1227.93" y="57.4" width="3.81" height="554.4" fill="url(#g405)"/>
<rect x="1230.74" y="57.4" width="3.81" height="554.4" fill="url(#g406)"/>
<rect x="1233.54" y="57.4" width="3.81" height="554.4" fill="url(#g407)"/>
<rect x="1236.35" y="57.4" width="3.81" height="554.4" fill="url(#g408)"/>
<rect x="1239.16" y="57.4" width="3.81" height="554.4" fill="url(#g409)"/>
<rect x="1241.97" y="57.4" width="3.81" height="554.4" fill="url(#g410)"/>
<rect x="1244.78" y="57.4" width="3.81" height="554.4" fill="url(#g411)"/>
<rect x="1247.58" y="57.4" width="3.81" height="554.4" fill="url(#g412)"/>
<rect x="1250.39" y="57.4" width="3.81" height="554.4" fill="url(#g413)"/>
<rect x="1253.20" y="57.4" width="3.81" height="554.4" fill="url(#g414)"/>
<rect x="1256.01" y="57.4" width="3.81" height="554.4" fill="url(#g415)"/>
<rect x="1258.82" y="57.4" width="3.81" height="554.4" fill="url(#g416)"/>
<rect x="1261.62" y="57.4" width="3.81" height="554.4" fill="url(#g417)"/>
<rect x="1264.43" y="57.4" width="3.81" height="554.4" fill="url(#g418)"/>
<rect x="1267.24" y="57.4" width="3.81" height="554.4" fill="url(#g419)"/>
<rect x="1270.05" y="57.4" width="3.81" height="554.4" fill="url(#g420)"/>
<rect x="1272.86" y="57.4" width="3.81" height="554.4" fill="url(#g421)"/>
<rect x="1275.66" y="57.4" width="3.81" height="554.4" fill="url(#g422)"/>
<rect x="1278.47" y="57.4" width="3.81" height="554.4" fill="url(#g423)"/>
<rect x="1281.28" y="57.4" width="3.81" height="554.4" fill="url(#g424)"/>
<rect x="1284.09" y="57.4" width="3.81" height="554.4" fill="url(#g425)"/>
<rect x="1286.90" y="57.4" width="3.81" height="554.4" fill="url(#g426)"/>
<rect x="1289.70" y="57.4" width="3.81" height="554.4" fill="url(#g427)"/>
<rect x="1292.51" y="57.4" width="3.81" height="554.4" fill="url(#g428)"/>
<rect x="1295.32" y="57.4" width="3.81" height="554.4" fill="url(#g429)"/>
<rect x="1298.13" y="57.4" width="3.81" height="554.4" fill="url(#g430)"/>
<rect x="1300.94" y="57.4" width="3.81" height="554.4" fill="url(#g431)"/>
<rect x="1303.74" y="57.4" width="3.81" height="554.4" fill="url(#g432)"/>
<rect x="1306.55" y="57.4" width="3.81" height="554.4" fill="url(#g433)"/></g><use href="#sp" x="1.404" opacity="0.5"/>
<rect x="1117.2" y="57" width="0.9" height="556" fill="#fff" opacity="0.55"/>
</g>
<g stroke="#262626" stroke-width="1.3" fill="none">
<path d="M94.8 57.4 V611.8 H1306.1"/>
</g>
<path d="M88.3 611.6H94.8M88.3 562.7H94.8M88.3 528.1H94.8M88.3 501.2H94.8M88.3 479.3H94.8M88.3 460.7H94.8M88.3 444.7H94.8M88.3 430.5H94.8M88.3 334.4H94.8M88.3 285.5H94.8M88.3 250.9H94.8M88.3 224.0H94.8M88.3 202.1H94.8M88.3 183.5H94.8M88.3 167.5H94.8M88.3 153.3H94.8M88.3 57.2H94.8M81.8 417.8H94.8M81.8 140.6H94.8M97.8 611.8V625.1M165.2 611.8V625.1M232.6 611.8V625.1M300.0 611.8V625.1M367.5 611.8V625.1M704.5 611.8V625.1M971.4 611.8V625.1M1038.5 611.8V625.1M1105.9 611.8V625.1M1173.2 611.8V625.1M1240.8 611.8V625.1" stroke="#1a1a1a" stroke-width="1.9" fill="none"/>
<g font-family="Liberation Serif, serif" font-size="26.3" fill="#1f1f1f" text-anchor="middle">
<text x="98.6" y="661">10/16</text>
<text x="166.0" y="661">10/17</text>
<text x="233.4" y="661">10/18</text>
<text x="300.8" y="661">10/19</text>
<text x="368.3" y="661">10/20</text>
<text x="705.3" y="661">10/25</text>
<text x="972.2" y="661">10/29</text>
<text x="1039.3" y="661">10/30</text>
<text x="1106.7" y="661">10/31</text>
<text x="1174.0" y="661">11/01</text>
<text x="1241.6" y="661">11/02</text>
</g>
<g font-family="Liberation Serif, serif" fill="#1f1f1f">
<text x="36.6" y="154.7" font-size="26">10<tspan dy="-12.3" font-size="18">3</tspan></text>
<text x="36.6" y="431.9" font-size="26">10<tspan dy="-12.3" font-size="18">2</tspan></text>
<text transform="translate(22 334.8) rotate(-90)" text-anchor="middle" font-size="29.6">Frequency (Hz)</text>
<text x="700.4" y="698.9" text-anchor="middle" font-size="29.2">Time (M/D)</text>
</g>
<path d="M1306.1 57.4V611.8" stroke="#ff0000" stroke-width="1.3"/>
<path d="M1306.1 334.8h12.8M1306.1 242.3h12.8M1306.1 149.9h12.8M1306.1 57.4h12.8" stroke="#ff0000" stroke-width="1.9"/>
<g font-family="Liberation Serif, serif" fill="#ff0000" font-size="25.5">
<text x="1327.4" y="343.5">0</text>
<text x="1327.4" y="251.0">20</text>
<text x="1327.4" y="158.6">40</text>
<text x="1327.4" y="66.1">60</text>
<text transform="translate(1386 189.5) rotate(-90)" text-anchor="middle" font-size="29">Wind speed (knots)</text>
</g>
<path d="M94.9 251.6 L103.3 247.0 L111.7 256.2 L120.2 265.5 L128.6 260.8 L137.0 265.5 L145.4 256.2 L153.8 256.2 L162.3 256.2 L170.7 256.2 L179.1 251.6 L187.5 242.3 L195.9 233.1 L204.4 237.7 L212.8 228.5 L221.2 233.1 L229.6 233.1 L238.0 223.8 L246.5 196.1 L254.9 182.2 L263.3 154.5 L271.7 136.0 L280.1 66.7 L288.6 182.2 L297.0 136.0 L305.4 177.6 L313.8 196.1 L322.2 233.1 L330.7 265.5 L339.1 293.2 L347.5 307.1 L355.9 260.8 L364.3 242.3 L372.8 307.1 L381.2 316.3 L389.6 311.7 L398.0 297.8 L406.4 311.7 L414.9 251.6 L423.3 270.1 L431.7 260.8 L440.1 265.5 L448.5 265.5 L457.0 265.5 L465.4 260.8 L473.8 260.8 L482.2 251.6 L490.6 270.1 L499.1 274.7 L507.5 279.3 L515.9 260.8 L524.3 279.3 L532.7 270.1 L541.2 265.5 L549.6 270.1 L558.0 283.9 L566.4 283.9 L574.8 279.3 L583.3 283.9 L591.7 293.2 L600.1 293.2 L608.5 288.6 L616.9 279.3 L625.4 274.7 L633.8 279.3 L642.2 283.9 L650.6 288.6 L659.0 283.9 L667.5 270.1 L675.9 274.7 L684.3 265.5 L692.7 265.5 L701.1 251.6 L709.6 247.0 L718.0 237.7 L726.4 242.3 L734.8 251.6 L743.2 251.6 L751.7 247.0 L760.1 237.7 L768.5 237.7 L776.9 242.3 L785.3 247.0 L793.8 247.0 L802.2 247.0 L810.6 251.6 L819.0 251.6 L827.4 260.8 L835.9 251.6 L844.3 256.2 L852.7 242.3 L861.1 251.6 L875.5 256.3 L892.2 246.9 L909.3 246.9 L926.0 237.5 L934.7 242.7 L943.1 237.5 L968.7 237.5 L977.1 242.7 L985.4 228.1 L993.7 228.1 L994.2 228.4 L1004.6 233.2 L1024.4 223.8 L1032.7 223.8 L1041.5 214.4 L1057.8 214.4 L1066.5 223.8 L1077.6 214.4 L1094.2 214.4 L1103.0 210.2 L1112.0 200.8 L1119.7 196.1 L1137.0 196.1 L1145.3 205.4 L1153.6 205.4 L1162.4 196.1 L1170.7 214.4 L1187.6 214.4 L1196.4 223.8 L1199.1 219.2 L1204.7 251.9 L1213.1 256.1 L1229.7 237.7 L1238.1 256.1 L1246.8 251.5 L1255.2 279.4 L1263.5 279.4 L1271.8 297.8 L1280.2 302.6 L1296.9 321.1 L1306.9 326.3" stroke="#fb0a0e" stroke-width="3.1" fill="none" stroke-linejoin="miter" clip-path="url(#cpA)"/>
<g stroke="#000" stroke-width="2.1" fill="none">
<path d="M98.2 40.6V630" stroke-dasharray="7.6 9.4"/>
<path d="M389.4 41.6V627" stroke-dasharray="7.6 9.4"/>
<path d="M971.4 46.2V636" stroke-dasharray="3.4 2.75 8.3 2.75" stroke-width="2.3"/>
<path d="M1297.5 40V631" stroke-dasharray="8.3 2.75 3.4 2.75" stroke-width="2.3"/>
</g>
<g font-family="Liberation Serif, serif" fill="#000" stroke="#000" stroke-width="0.45" font-size="25.5">
<text x="120.6" y="129.6" textLength="103" lengthAdjust="spacingAndGlyphs">Typhoon</text>
<text x="133.8" y="161.8" textLength="77.9" lengthAdjust="spacingAndGlyphs">’Nesat’</text>
<text x="1071.4" y="129.4" textLength="102.6" lengthAdjust="spacingAndGlyphs">Typhoon</text>
<text x="1082" y="161" textLength="90.7" lengthAdjust="spacingAndGlyphs">’Nalgae’</text>
</g>
<rect x="1409.5" y="57.6" width="36.0" height="566.0" fill="url(#cb)" stroke="#262626" stroke-width="1"/>
<path d="M1445.5 529.3h-5.5M1445.5 434.9h-5.5M1445.5 340.6h-5.5M1445.5 246.3h-5.5M1445.5 151.9h-5.5" stroke="#262626" stroke-width="1.3"/>
<g font-family="Liberation Serif, serif" fill="#1f1f1f" font-size="24.5">
<text x="1455" y="632.9">50</text>
<text x="1455" y="538.6">60</text>
<text x="1455" y="444.2">70</text>
<text x="1455" y="349.9">80</text>
<text x="1455" y="255.6">90</text>
<text x="1455" y="161.2">100</text>
<text x="1455" y="66.9">110</text>
</g>
<text transform="translate(1529.0 341.0) rotate(-90)" text-anchor="middle" font-family="Liberation Serif, serif" font-size="29.0" fill="#1f1f1f" textLength="454.5" lengthAdjust="spacing">Ambient noise level (dB re 1<tspan font-style="italic">μ</tspan> Pa<tspan dy="-14.2" font-size="21.8">2</tspan><tspan dy="14.2">/Hz)</tspan></text>
<g font-family="Liberation Sans, sans-serif" font-weight="bold" font-size="31.4" fill="#000">
<text transform="translate(18.6 24.5) scale(.94 1)">A</text><text transform="translate(18.9 751.5) scale(.94 1)">B</text><text transform="translate(763.6 751.6) scale(.94 1)">C</text></g>
<g clip-path="url(#cpB)" fill="none" stroke-linejoin="round">
<path d="M89.8 966.4 L95.2 944.8 L100.4 966.4 L105.8 968.0 L111.0 953.4 L116.5 951.3 L121.4 904.2 L126.6 901.4 L132.1 941.5 L137.3 965.4 L142.5 987.7 L147.7 988.8 L152.9 979.9 L158.1 984.2 L163.3 959.5 L168.5 976.9 L173.7 960.4 L178.9 964.3 L184.3 978.4 L189.6 986.0 L194.8 979.5 L200.0 955.6 L205.2 939.3 L210.4 944.8 L215.6 974.7 L221.0 963.2 L226.2 943.0 L231.4 932.8 L236.6 924.8 L241.8 936.5 L247.0 909.0 L252.2 801.6 L257.5 834.6 L262.9 734.3 L268.1 885.1 L273.3 945.8 L278.5 964.3 L283.7 953.4 L288.9 967.5 L294.1 969.7 L299.5 757.8 L304.7 928.5 L309.9 961.0 L315.2 957.3 L320.4 981.6 L325.6 958.9 L330.8 963.2 L336.2 919.4 L341.4 973.0 L346.6 976.2 L351.8 963.8 L357.0 961.7 L362.2 971.9 L367.4 950.2 L372.6 957.3 L378.1 949.5 L383.3 956.7 L388.5 949.1 L393.7 951.7 L398.9 945.8 L404.1 943.7 L409.5 935.0 L414.7 927.4 L419.9 927.0 L425.1 915.5 L430.3 909.0 L435.5 898.1 L441.0 884.0 L446.2 860.2 L451.4 833.0 L456.6 804.8 L461.8 826.5 L467.0 910.0 L472.4 968.6 L477.6 914.4 L482.8 897.0 L488.0 914.4 L493.2 935.0 L498.4 953.4 L503.7 959.9 L509.1 977.3 L514.3 993.6 L519.5 1000.1 L524.7 995.7 L529.9 1029.3 L535.1 1040.2 L540.3 1044.5 L545.5 1041.9 L550.7 1032.6 L556.1 958.2 L561.4 1047.8 L566.6 1052.8 L571.8 1047.8 L577.0 1032.6 L582.2 1027.6 L587.4 992.9 L592.8 1006.6 L598.0 1000.1 L603.2 994.2 L608.4 993.6 L613.6 989.2 L618.8 971.9 L624.3 944.8 L629.5 829.8 L634.7 911.1 L639.9 944.8 L645.3 919.8 L650.5 949.1 L655.7 966.4 L660.9 980.5 L666.1 991.0 L671.3 982.1" stroke="#0000ff" stroke-width="3.4"/>
<path d="M89.8 1065.2 L95.2 1065.2 L100.4 1066.3 L105.8 1072.8 L111.0 1081.9 L116.5 1068.5 L121.4 1058.7 L126.6 1056.5 L132.1 1065.9 L137.3 1065.2 L142.5 1083.6 L147.7 1104.3 L152.9 1071.7 L158.1 1067.4 L163.3 1063.7 L168.5 1065.2 L173.7 1061.5 L178.9 1060.2 L184.3 1064.6 L189.6 1063.0 L194.8 1062.0 L200.0 1056.5 L205.2 1059.8 L210.4 1065.2 L215.6 1067.4 L221.0 1065.9 L226.2 1057.6 L231.4 1054.4 L236.6 1055.4 L241.8 1057.2 L247.0 1042.4 L252.2 1008.2 L257.5 1066.3 L262.9 935.1 L268.1 1095.6 L273.3 1066.3 L278.5 1050.0 L283.7 1048.9 L288.9 1046.3 L294.1 1043.5 L299.5 865.6 L304.7 1035.9 L309.9 1032.7 L315.2 1034.8 L320.4 1045.7 L325.6 1039.2 L330.8 1030.5 L336.2 1033.8 L341.4 1037.0 L346.6 1036.4 L351.8 1037.0 L357.0 1032.7 L362.2 1030.5 L367.4 1019.7 L372.6 1011.0 L378.1 995.8 L383.3 1009.9 L388.5 998.0 L393.7 990.4 L398.9 981.7 L404.1 977.4 L409.5 970.8 L414.7 965.4 L419.9 960.0 L425.1 943.7 L430.3 939.4 L435.5 927.5 L441.0 899.3 L446.2 863.5 L451.4 855.9 L456.6 847.2 L461.8 855.9 L467.0 968.7 L472.4 1035.9 L477.6 947.0 L482.8 914.4 L488.0 938.3 L493.2 964.3 L498.4 979.5 L503.7 993.6 L509.1 1009.9 L514.3 1025.1 L519.5 1035.9 L524.7 1043.5 L529.9 1058.7 L535.1 1075.0 L540.3 1092.3 L545.5 1109.7 L550.7 1119.4 L556.1 1137.9 L561.4 1131.4 L566.6 1139.0 L571.8 1120.5 L577.0 1060.9 L582.2 1048.9 L587.4 1044.6 L592.8 1029.4 L598.0 1016.4 L603.2 1005.6 L608.4 1005.1 L613.6 1006.6 L618.8 1048.9 L624.3 1062.0 L629.5 1060.9 L634.7 1094.5 L639.9 1127.0 L645.3 1120.5 L650.5 1111.8 L655.7 1166.1 L660.9 1216.0 L666.1 1261.5 L671.3 1226.8" stroke="#ff00ff" stroke-width="3.5" stroke-dasharray="13.6 3.3 6.5 3.2"/>
<path d="M89.8 1079.3 L95.2 1078.9 L100.4 1081.0 L105.8 1090.2 L111.0 1094.1 L116.5 1081.5 L121.4 1075.0 L126.6 1072.8 L132.1 1078.2 L137.3 1081.5 L142.5 1095.6 L147.7 1112.9 L152.9 1085.8 L158.1 1080.4 L163.3 1078.2 L168.5 1077.6 L173.7 1077.1 L178.9 1076.7 L184.3 1081.5 L189.6 1079.7 L194.8 1078.2 L200.0 1073.2 L205.2 1075.0 L210.4 1080.4 L215.6 1083.2 L221.0 1081.5 L226.2 1072.8 L231.4 1071.7 L236.6 1074.5 L241.8 1072.8 L247.0 1055.4 L252.2 1032.7 L257.5 1080.4 L262.9 1006.6 L268.1 1096.2 L273.3 1078.2 L278.5 1067.4 L283.7 1065.2 L288.9 1063.0 L294.1 1060.2 L299.5 910.1 L304.7 1053.3 L309.9 1051.1 L315.2 1047.9 L320.4 1062.0 L325.6 1053.3 L330.8 1047.9 L336.2 1050.0 L341.4 1054.4 L346.6 1052.2 L351.8 1055.4 L357.0 1050.0 L362.2 1045.7 L367.4 1033.8 L372.6 1028.3 L378.1 1011.6 L383.3 1024.0 L388.5 1015.3 L393.7 1006.6 L398.9 998.0 L404.1 991.5 L409.5 983.9 L414.7 979.5 L419.9 975.2 L425.1 949.2 L430.3 945.9 L435.5 932.9 L441.0 903.6 L446.2 871.1 L451.4 890.6 L456.6 885.2 L461.8 888.4 L467.0 1012.1 L472.4 1046.8 L477.6 957.8 L482.8 930.7 L488.0 949.2 L493.2 975.2 L498.4 990.4 L503.7 1004.5 L509.1 1022.9 L514.3 1038.1 L519.5 1046.8 L524.7 1055.4 L529.9 1070.6 L535.1 1088.0 L540.3 1104.3 L545.5 1120.5 L550.7 1128.1 L556.1 1145.5 L561.4 1137.9 L566.6 1143.3 L571.8 1124.9 L577.0 1066.3 L582.2 1057.6 L587.4 1059.8 L592.8 1044.6 L598.0 1031.6 L603.2 1023.3 L608.4 1021.8 L613.6 1025.1 L618.8 1062.0 L624.3 1075.0 L629.5 1080.4 L634.7 1116.2 L639.9 1139.0 L645.3 1133.5 L650.5 1122.7 L655.7 1176.9 L660.9 1224.6 L666.1 1272.4 L671.3 1291.9" stroke="#000" stroke-width="3.4" stroke-dasharray="3.3 3.23"/>
<path d="M90.0 1266.9 L105.7 1266.9 L121.4 1261.7 L137.2 1272.1 L152.9 1282.5 L168.6 1277.3 L184.3 1282.5 L200.0 1272.1 L215.8 1272.1 L231.5 1272.1 L247.2 1272.1 L262.9 1266.9 L278.6 1256.5 L294.4 1246.1 L310.1 1251.3 L325.8 1240.9 L341.5 1246.1 L357.2 1246.1 L373.0 1235.7 L388.7 1204.5 L404.4 1188.9 L420.1 1157.7 L435.8 1136.9 L451.6 1058.9 L467.3 1188.9 L483.0 1136.9 L498.7 1183.7 L514.4 1204.5 L530.2 1246.1 L545.9 1282.5 L561.6 1313.7 L577.3 1329.3 L593.0 1277.3 L608.8 1256.5 L624.5 1329.3 L640.2 1339.7 L655.9 1334.5 L687.4 1306.4" stroke="#ff0000" stroke-width="3.3" stroke-dasharray="13.6 13"/>
<g stroke="#ff0000" stroke-width="3.2"><rect x="83.7" y="1260.6" width="12.6" height="12.6"/><rect x="99.4" y="1260.6" width="12.6" height="12.6"/><rect x="115.1" y="1255.4" width="12.6" height="12.6"/><rect x="130.9" y="1265.8" width="12.6" height="12.6"/><rect x="146.6" y="1276.2" width="12.6" height="12.6"/><rect x="162.3" y="1271.0" width="12.6" height="12.6"/><rect x="178.0" y="1276.2" width="12.6" height="12.6"/><rect x="193.7" y="1265.8" width="12.6" height="12.6"/><rect x="209.5" y="1265.8" width="12.6" height="12.6"/><rect x="225.2" y="1265.8" width="12.6" height="12.6"/><rect x="240.9" y="1265.8" width="12.6" height="12.6"/><rect x="256.6" y="1260.6" width="12.6" height="12.6"/><rect x="272.3" y="1250.2" width="12.6" height="12.6"/><rect x="288.1" y="1239.8" width="12.6" height="12.6"/><rect x="303.8" y="1245.0" width="12.6" height="12.6"/><rect x="319.5" y="1234.6" width="12.6" height="12.6"/><rect x="335.2" y="1239.8" width="12.6" height="12.6"/><rect x="350.9" y="1239.8" width="12.6" height="12.6"/><rect x="366.7" y="1229.4" width="12.6" height="12.6"/><rect x="382.4" y="1198.2" width="12.6" height="12.6"/><rect x="398.1" y="1182.6" width="12.6" height="12.6"/><rect x="413.8" y="1151.4" width="12.6" height="12.6"/><rect x="429.5" y="1130.6" width="12.6" height="12.6"/><rect x="445.3" y="1052.6" width="12.6" height="12.6"/><rect x="461.0" y="1182.6" width="12.6" height="12.6"/><rect x="476.7" y="1130.6" width="12.6" height="12.6"/><rect x="492.4" y="1177.4" width="12.6" height="12.6"/><rect x="508.1" y="1198.2" width="12.6" height="12.6"/><rect x="523.9" y="1239.8" width="12.6" height="12.6"/><rect x="539.6" y="1276.2" width="12.6" height="12.6"/><rect x="555.3" y="1307.4" width="12.6" height="12.6"/><rect x="571.0" y="1323.0" width="12.6" height="12.6"/><rect x="586.7" y="1271.0" width="12.6" height="12.6"/><rect x="602.5" y="1250.2" width="12.6" height="12.6"/><rect x="618.2" y="1323.0" width="12.6" height="12.6"/><rect x="633.9" y="1333.4" width="12.6" height="12.6"/><rect x="649.6" y="1328.2" width="12.6" height="12.6"/><rect x="681.1" y="1300.1" width="12.6" height="12.6"/></g>
</g>
<path d="M89.1 734.0H671.8" stroke="#3a3a3a" stroke-width="2" fill="none"/>
<path d="M90.1 733.0V1361.5" stroke="#000" stroke-width="2" fill="none"/>
<path d="M89.1 1360.5H671.8" stroke="#222" stroke-width="2" fill="none"/>
<path d="M671.8 733.0V1361.5" stroke="#ff0000" stroke-width="1.6" fill="none"/>
<path d="M90.1 1360.7h7.6M90.1 1246.7h7.6M90.1 1132.7h7.6M90.1 1018.7h7.6M90.1 904.7h7.6M90.1 790.7h7.6M95.2 734.0v7.5M95.2 1360.5v-7.5M221.2 734.0v7.5M221.2 1360.5v-7.5M347.2 734.0v7.5M347.2 1360.5v-7.5M473.2 734.0v7.5M473.2 1360.5v-7.5M599.2 734.0v7.5M599.2 1360.5v-7.5" stroke="#1a1a1a" stroke-width="2" fill="none"/>
<path d="M671.8 1360.3h-7M671.8 1256.3h-7M671.8 1152.3h-7M671.8 1048.3h-7" stroke="#ff0000" stroke-width="2" fill="none"/>
<g font-family="Liberation Serif, serif" fill="#2e2624" font-size="29.3">
<text x="79.3" y="1372.5" text-anchor="end">40</text>
<text x="79.3" y="1258.5" text-anchor="end">50</text>
<text x="79.3" y="1144.5" text-anchor="end">60</text>
<text x="79.3" y="1030.5" text-anchor="end">70</text>
<text x="79.3" y="916.5" text-anchor="end">80</text>
<text x="79.3" y="802.5" text-anchor="end">90</text>
<text x="96.0" y="1402" text-anchor="middle">10/16</text>
<text x="222.0" y="1402" text-anchor="middle">10/17</text>
<text x="348.0" y="1402" text-anchor="middle">10/18</text>
<text x="474.0" y="1402" text-anchor="middle">10/19</text>
<text x="600.0" y="1402" text-anchor="middle">10/20</text>
<text x="380.4" y="1445.2" text-anchor="middle" font-size="32" textLength="162" lengthAdjust="spacingAndGlyphs">Time (M/D)</text>
<text x="544.0" y="786.6" text-anchor="middle" font-size="32">Typhoon</text>
<text x="544.0" y="823.2" text-anchor="middle" font-size="32">'Nesat'</text>
</g>
<text transform="translate(35.1 1048.3) rotate(-90)" text-anchor="middle" font-family="Liberation Serif, serif" font-size="32.0" fill="#2e2624" textLength="505.0" lengthAdjust="spacing">Ambient noise level (dB re 1<tspan font-style="italic">μ</tspan> Pa<tspan dy="-15.7" font-size="24.0">2</tspan><tspan dy="15.7">/Hz)</tspan></text>
<g font-family="Liberation Serif, serif" fill="#ff0000" font-size="29.3">
<text x="682.6" y="1372.1">0</text>
<text x="682.6" y="1268.1">20</text>
<text x="682.6" y="1164.1">40</text>
<text x="682.6" y="1060.1">60</text>
<text transform="translate(745.2 1196.5) rotate(-90)" text-anchor="middle" font-size="32">Wind speed (knots)</text>
</g>
<g fill="none">
<path d="M101.1 1120.8H175.1" stroke="#0000ff" stroke-width="3.2"/>
<path d="M101.1 1155.0H175.1" stroke="#ff00ff" stroke-width="3.4" stroke-dasharray="13.6 3.3 6.5 3.2"/>
<path d="M101.1 1189.1H175.1" stroke="#000" stroke-width="3.3" stroke-dasharray="3.3 3.23"/>
<path d="M101.1 1223.3H168.6" stroke="#ff0000" stroke-width="3.2" stroke-dasharray="13.6 13"/>
<rect x="131.8" y="1217.0" width="12.6" height="12.6" stroke="#ff0000" stroke-width="3.2"/>
</g>
<g font-family="Liberation Serif, serif" fill="#2e2624" font-size="26.3">
<text x="181.3" y="1131.4">100 Hz</text>
<text x="181.3" y="1165.5">400 Hz</text>
<text x="181.3" y="1199.7">1000 Hz</text>
<text x="181.3" y="1233.8">wind speed</text>
</g>
<g clip-path="url(#cpC)" fill="none" stroke-linejoin="round">
<path d="M867.2 945.8 L871.9 918.3 L876.9 927.4 L881.7 926.3 L886.5 933.9 L891.5 940.4 L896.2 951.7 L901.2 939.3 L906.0 948.7 L910.8 945.4 L915.7 924.8 L920.5 927.8 L925.3 932.8 L930.3 920.9 L935.1 927.0 L939.8 907.9 L944.8 920.5 L949.6 924.1 L954.4 932.8 L959.3 931.7 L964.1 933.5 L969.1 940.0 L973.9 946.5 L978.7 950.8 L983.6 950.6 L988.4 942.1 L993.2 948.7 L998.2 949.5 L1003.0 940.4 L1007.7 928.5 L1012.7 941.5 L1017.5 928.5 L1022.3 774.0 L1027.2 914.4 L1032.0 910.5 L1036.8 872.1 L1041.8 916.1 L1046.6 893.1 L1051.3 929.6 L1056.3 937.8 L1061.1 933.3 L1065.9 933.9 L1070.8 917.6 L1075.6 807.0 L1080.4 922.0 L1085.4 938.7 L1090.2 927.8 L1094.9 935.0 L1099.9 923.1 L1104.7 910.7 L1109.5 919.8 L1114.4 928.5 L1119.2 936.5 L1124.2 935.0 L1129.0 922.0 L1133.8 914.4 L1138.7 930.7 L1143.5 928.5 L1148.3 931.7 L1153.3 940.0 L1158.0 932.8 L1163.0 931.3 L1167.8 930.7 L1172.8 924.8 L1177.6 933.5 L1182.3 922.6 L1187.3 921.5 L1192.1 916.1 L1196.9 923.1 L1201.9 914.4 L1206.6 905.7 L1211.4 902.0 L1216.4 908.3 L1221.2 925.2 L1225.9 913.9 L1230.9 920.9 L1235.7 925.2 L1240.5 915.5 L1245.5 911.1 L1250.2 894.9 L1255.0 916.1 L1260.0 925.2 L1264.8 931.7 L1269.5 946.9 L1274.5 940.0 L1279.3 912.9 L1284.1 938.2 L1289.1 960.4 L1293.8 952.3 L1298.6 929.6 L1303.6 944.8 L1308.4 919.4 L1313.1 940.8 L1318.1 936.1 L1322.9 941.5 L1327.7 884.4 L1332.7 922.4 L1337.4 920.9 L1342.2 914.4 L1347.2 922.6 L1352.0 939.8 L1356.7 929.6 L1361.7 913.9 L1366.5 961.7 L1371.3 964.3 L1376.3 982.7 L1381.0 979.9 L1385.8 979.0 L1390.8 961.0 L1395.6 940.4 L1400.3 953.9 L1405.3 953.0 L1410.1 951.7 L1414.9 958.2 L1419.9 948.0 L1424.6 936.1 L1429.4 933.9 L1434.4 967.5 L1439.2 978.4 L1443.9 959.5 L1448.1 987.0" stroke="#0000ff" stroke-width="3.4"/>
<path d="M867.2 1032.6 L871.9 1025.0 L876.9 1026.1 L881.7 1021.8 L886.5 1028.3 L891.5 1035.4 L896.2 1038.0 L901.2 1030.4 L906.0 1020.7 L910.8 1015.2 L915.7 1019.6 L920.5 1020.7 L925.3 1020.2 L930.3 1013.7 L935.1 1017.4 L939.8 1018.9 L944.8 1019.2 L949.6 1015.2 L954.4 1015.2 L959.3 1017.4 L964.1 1019.6 L969.1 1022.8 L973.9 1020.7 L978.7 1015.9 L983.6 1027.2 L988.4 1019.6 L993.2 1018.9 L998.2 1015.9 L1003.0 1012.0 L1007.7 1009.4 L1012.7 1007.7 L1017.5 1012.0 L1022.3 901.4 L1027.2 1005.5 L1032.0 1006.6 L1036.8 1009.8 L1041.8 1011.6 L1046.6 1009.8 L1051.3 1008.7 L1056.3 1007.7 L1061.1 1013.1 L1065.9 1008.7 L1070.8 1003.8 L1075.6 1005.5 L1080.4 1006.6 L1085.4 1004.4 L1090.2 990.3 L1094.9 1005.1 L1099.9 1001.6 L1104.7 1000.1 L1109.5 999.0 L1114.4 998.5 L1119.2 997.2 L1124.2 994.6 L1129.0 995.7 L1133.8 995.7 L1138.7 993.6 L1143.5 992.5 L1148.3 993.6 L1153.3 994.6 L1158.0 992.5 L1163.0 989.3 L1167.8 990.4 L1172.8 989.9 L1177.6 989.3 L1182.3 991.5 L1187.3 987.8 L1192.1 992.5 L1196.9 995.8 L1201.9 1000.1 L1206.6 1003.4 L1211.4 1001.6 L1216.4 1001.2 L1221.2 1001.2 L1225.9 1003.8 L1230.9 1005.1 L1235.7 1004.5 L1240.5 1005.1 L1245.5 1006.0 L1250.2 1004.5 L1255.0 1008.8 L1260.0 1005.6 L1264.8 1005.1 L1269.5 1006.6 L1274.5 1010.3 L1279.3 1024.0 L1284.1 1027.2 L1289.1 1033.8 L1293.8 1040.3 L1298.6 1034.8 L1303.6 1045.7 L1308.4 1028.3 L1313.1 1040.3 L1318.1 1033.8 L1322.9 1043.5 L1327.7 1039.2 L1332.7 1042.4 L1337.4 1045.7 L1342.2 1041.3 L1347.2 1053.3 L1352.0 1065.2 L1356.7 1050.0 L1361.7 1048.9 L1366.5 1086.9 L1371.3 1089.1 L1376.3 1096.7 L1381.0 1108.6 L1385.8 1105.3 L1390.8 1086.9 L1395.6 1186.7 L1400.3 1187.8 L1405.3 1203.0 L1410.1 1204.7 L1414.9 1204.0 L1419.9 1198.6 L1424.6 1193.2 L1429.4 1205.1 L1434.4 1230.1 L1439.2 1222.5 L1443.9 1219.2 L1448.1 1237.7" stroke="#ff00ff" stroke-width="3.5" stroke-dasharray="13.6 3.3 6.5 3.2"/>
<path d="M867.2 1048.9 L871.9 1046.3 L876.9 1044.6 L881.7 1042.0 L886.5 1048.9 L891.5 1056.5 L896.2 1052.2 L901.2 1045.7 L906.0 1038.0 L910.8 1034.8 L915.7 1038.0 L920.5 1040.2 L925.3 1039.1 L930.3 1035.4 L935.1 1038.0 L939.8 1039.1 L944.8 1040.2 L949.6 1035.9 L954.4 1035.9 L959.3 1037.6 L964.1 1039.1 L969.1 1042.4 L973.9 1039.1 L978.7 1030.4 L983.6 1038.0 L988.4 1038.0 L993.2 1035.9 L998.2 1032.6 L1003.0 1030.4 L1007.7 1028.9 L1012.7 1027.2 L1017.5 1030.4 L1022.3 955.6 L1027.2 1025.0 L1032.0 1027.2 L1036.8 1029.8 L1041.8 1030.4 L1046.6 1028.9 L1051.3 1027.2 L1056.3 1025.4 L1061.1 1031.5 L1065.9 1027.2 L1070.8 1023.9 L1075.6 1025.4 L1080.4 1025.0 L1085.4 1021.8 L1090.2 1009.8 L1094.9 1025.0 L1099.9 1020.7 L1104.7 1018.9 L1109.5 1017.4 L1114.4 1016.3 L1119.2 1014.6 L1124.2 1012.0 L1129.0 1013.1 L1133.8 1012.4 L1138.7 1010.9 L1143.5 1009.8 L1148.3 1010.3 L1153.3 1010.9 L1158.0 1007.7 L1163.0 1006.6 L1167.8 1008.2 L1172.8 1006.0 L1177.6 1009.9 L1182.3 1006.6 L1187.3 1006.6 L1192.1 1011.0 L1196.9 1013.1 L1201.9 1018.6 L1206.6 1024.6 L1211.4 1021.8 L1216.4 1020.7 L1221.2 1019.7 L1225.9 1025.1 L1230.9 1026.2 L1235.7 1030.5 L1240.5 1025.1 L1245.5 1027.2 L1250.2 1025.1 L1255.0 1028.3 L1260.0 1026.8 L1264.8 1024.6 L1269.5 1025.1 L1274.5 1029.4 L1279.3 1042.4 L1284.1 1045.7 L1289.1 1051.1 L1293.8 1058.7 L1298.6 1053.3 L1303.6 1066.3 L1308.4 1047.9 L1313.1 1058.7 L1318.1 1054.4 L1322.9 1064.1 L1327.7 1057.6 L1332.7 1062.0 L1337.4 1066.3 L1342.2 1065.2 L1347.2 1072.8 L1352.0 1080.4 L1356.7 1069.5 L1361.7 1072.8 L1366.5 1101.0 L1371.3 1103.2 L1376.3 1109.7 L1381.0 1120.5 L1385.8 1114.0 L1390.8 1096.7 L1395.6 1192.1 L1400.3 1198.6 L1405.3 1208.4 L1410.1 1208.4 L1414.9 1207.3 L1419.9 1205.1 L1424.6 1201.9 L1429.4 1214.9 L1434.4 1242.0 L1439.2 1250.7 L1443.9 1259.3 L1448.1 1287.5" stroke="#000" stroke-width="3.4" stroke-dasharray="3.3 3.23"/>
<path d="M867.4 1251.3 L881.5 1251.3 L896.2 1256.5 L910.4 1240.9 L925.1 1240.9 L944.4 1246.1 L964.0 1240.9 L978.2 1235.7 L992.9 1235.7 L1007.5 1225.3 L1022.2 1225.3 L1036.9 1225.3 L1050.9 1235.7 L1070.1 1225.3 L1084.7 1225.3 L1099.4 1225.3 L1113.7 1220.1 L1128.7 1209.7 L1143.0 1204.5 L1157.4 1204.5 L1171.7 1204.5 L1187.0 1214.9 L1201.4 1214.9 L1216.1 1204.5 L1230.4 1225.3 L1245.0 1225.3 L1259.3 1225.3 L1274.3 1230.5 L1277.3 1233.1 L1288.4 1266.9 L1303.1 1272.1 L1317.3 1261.7 L1332.0 1251.3 L1346.6 1272.1 L1361.3 1266.9 L1376.0 1298.1 L1390.6 1298.1 L1404.9 1318.9 L1419.5 1324.1 L1434.2 1334.5" stroke="#ff0000" stroke-width="3.3" stroke-dasharray="13.6 13"/>
<g stroke="#ff0000" stroke-width="3.2"><rect x="861.1" y="1245.0" width="12.6" height="12.6"/><rect x="875.2" y="1245.0" width="12.6" height="12.6"/><rect x="889.9" y="1250.2" width="12.6" height="12.6"/><rect x="904.1" y="1234.6" width="12.6" height="12.6"/><rect x="918.8" y="1234.6" width="12.6" height="12.6"/><rect x="938.1" y="1239.8" width="12.6" height="12.6"/><rect x="957.7" y="1234.6" width="12.6" height="12.6"/><rect x="971.9" y="1229.4" width="12.6" height="12.6"/><rect x="986.6" y="1229.4" width="12.6" height="12.6"/><rect x="1001.2" y="1219.0" width="12.6" height="12.6"/><rect x="1015.9" y="1219.0" width="12.6" height="12.6"/><rect x="1030.6" y="1219.0" width="12.6" height="12.6"/><rect x="1044.6" y="1229.4" width="12.6" height="12.6"/><rect x="1063.8" y="1219.0" width="12.6" height="12.6"/><rect x="1078.4" y="1219.0" width="12.6" height="12.6"/><rect x="1093.1" y="1219.0" width="12.6" height="12.6"/><rect x="1107.4" y="1213.8" width="12.6" height="12.6"/><rect x="1122.4" y="1203.4" width="12.6" height="12.6"/><rect x="1136.7" y="1198.2" width="12.6" height="12.6"/><rect x="1151.1" y="1198.2" width="12.6" height="12.6"/><rect x="1165.4" y="1198.2" width="12.6" height="12.6"/><rect x="1180.7" y="1208.6" width="12.6" height="12.6"/><rect x="1195.1" y="1208.6" width="12.6" height="12.6"/><rect x="1209.8" y="1198.2" width="12.6" height="12.6"/><rect x="1224.1" y="1219.0" width="12.6" height="12.6"/><rect x="1238.7" y="1219.0" width="12.6" height="12.6"/><rect x="1253.0" y="1219.0" width="12.6" height="12.6"/><rect x="1268.0" y="1224.2" width="12.6" height="12.6"/><rect x="1271.0" y="1226.8" width="12.6" height="12.6"/><rect x="1282.1" y="1260.6" width="12.6" height="12.6"/><rect x="1296.8" y="1265.8" width="12.6" height="12.6"/><rect x="1311.0" y="1255.4" width="12.6" height="12.6"/><rect x="1325.7" y="1245.0" width="12.6" height="12.6"/><rect x="1340.3" y="1265.8" width="12.6" height="12.6"/><rect x="1355.0" y="1260.6" width="12.6" height="12.6"/><rect x="1369.7" y="1291.8" width="12.6" height="12.6"/><rect x="1384.3" y="1291.8" width="12.6" height="12.6"/><rect x="1398.6" y="1312.6" width="12.6" height="12.6"/><rect x="1413.2" y="1317.8" width="12.6" height="12.6"/><rect x="1427.9" y="1328.2" width="12.6" height="12.6"/></g>
</g>
<path d="M866.2 734.0H1448.2" stroke="#3a3a3a" stroke-width="2" fill="none"/>
<path d="M867.2 733.0V1361.5" stroke="#000" stroke-width="2" fill="none"/>
<path d="M866.2 1360.5H1448.2" stroke="#222" stroke-width="2" fill="none"/>
<path d="M1448.2 733.0V1361.5" stroke="#ff0000" stroke-width="1.6" fill="none"/>
<path d="M867.2 1360.7h7.6M867.2 1246.7h7.6M867.2 1132.7h7.6M867.2 1018.7h7.6M867.2 904.7h7.6M867.2 790.7h7.6M871.9 734.0v7.5M871.9 1360.5v-7.5M988.4 734.0v7.5M988.4 1360.5v-7.5M1104.8 734.0v7.5M1104.8 1360.5v-7.5M1221.2 734.0v7.5M1221.2 1360.5v-7.5M1337.7 734.0v7.5M1337.7 1360.5v-7.5" stroke="#1a1a1a" stroke-width="2" fill="none"/>
<path d="M1448.2 1360.3h-7M1448.2 1256.3h-7M1448.2 1152.3h-7M1448.2 1048.3h-7" stroke="#ff0000" stroke-width="2" fill="none"/>
<g font-family="Liberation Serif, serif" fill="#2e2624" font-size="29.3">
<text x="856.4" y="1372.5" text-anchor="end">40</text>
<text x="856.4" y="1258.5" text-anchor="end">50</text>
<text x="856.4" y="1144.5" text-anchor="end">60</text>
<text x="856.4" y="1030.5" text-anchor="end">70</text>
<text x="856.4" y="916.5" text-anchor="end">80</text>
<text x="856.4" y="802.5" text-anchor="end">90</text>
<text x="872.7" y="1402" text-anchor="middle">10/29</text>
<text x="989.1" y="1402" text-anchor="middle">10/30</text>
<text x="1105.6" y="1402" text-anchor="middle">10/31</text>
<text x="1222.0" y="1402" text-anchor="middle">11/01</text>
<text x="1338.5" y="1402" text-anchor="middle">11/02</text>
<text x="1157.2" y="1445.2" text-anchor="middle" font-size="32" textLength="162" lengthAdjust="spacingAndGlyphs">Time (M/D)</text>
<text x="1350.8" y="784.0" text-anchor="middle" font-size="32">Typhoon</text>
<text x="1350.8" y="820.6" text-anchor="middle" font-size="32">'Nalgae'</text>
</g>
<text transform="translate(812.7 1048.3) rotate(-90)" text-anchor="middle" font-family="Liberation Serif, serif" font-size="32.0" fill="#2e2624" textLength="505.0" lengthAdjust="spacing">Ambient noise level (dB re 1<tspan font-style="italic">μ</tspan> Pa<tspan dy="-15.7" font-size="24.0">2</tspan><tspan dy="15.7">/Hz)</tspan></text>
<g font-family="Liberation Serif, serif" fill="#ff0000" font-size="29.3">
<text x="1459.0" y="1372.1">0</text>
<text x="1459.0" y="1268.1">20</text>
<text x="1459.0" y="1164.1">40</text>
<text x="1459.0" y="1060.1">60</text>
<text transform="translate(1527.8 1200.5) rotate(-90)" text-anchor="middle" font-size="32">Wind speed (knots)</text>
</g>
<g fill="none">
<path d="M891.9 1075.0H965.9" stroke="#0000ff" stroke-width="3.2"/>
<path d="M891.9 1109.2H965.9" stroke="#ff00ff" stroke-width="3.4" stroke-dasharray="13.6 3.3 6.5 3.2"/>
<path d="M891.9 1143.3H965.9" stroke="#000" stroke-width="3.3" stroke-dasharray="3.3 3.23"/>
<path d="M891.9 1177.5H959.4" stroke="#ff0000" stroke-width="3.2" stroke-dasharray="13.6 13"/>
<rect x="922.6" y="1171.2" width="12.6" height="12.6" stroke="#ff0000" stroke-width="3.2"/>
</g>
<g font-family="Liberation Serif, serif" fill="#2e2624" font-size="26.3">
<text x="972.1" y="1085.6">100 Hz</text>
<text x="972.1" y="1119.8">400 Hz</text>
<text x="972.1" y="1153.9">1000 Hz</text>
<text x="972.1" y="1188.0">wind speed</text>
</g>
</svg>
</body></html>
